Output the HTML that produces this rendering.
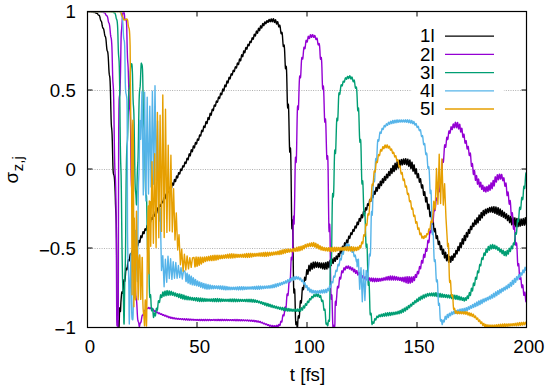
<!DOCTYPE html>
<html><head><meta charset="utf-8"><style>
html,body{margin:0;padding:0;background:#fff;width:550px;height:390px;overflow:hidden}
svg{display:block}
text{font-family:"Liberation Sans",sans-serif;font-size:18.7px;fill:#000}
</style></head><body>
<svg width="550" height="390" viewBox="0 0 550 390">
<line x1="87.5" y1="90.5" x2="526.5" y2="90.5" stroke="#b0b0b0" stroke-width="1" stroke-dasharray="1,1.35"/>
<line x1="87.5" y1="169.5" x2="526.5" y2="169.5" stroke="#b0b0b0" stroke-width="1" stroke-dasharray="1,1.35"/>
<line x1="87.5" y1="248.5" x2="526.5" y2="248.5" stroke="#b0b0b0" stroke-width="1" stroke-dasharray="1,1.35"/>
<rect x="411.5" y="26" width="92.3" height="92" fill="#fff"/>
<defs><clipPath id="c"><rect x="88" y="12.3" width="438" height="314.6"/></clipPath></defs><g clip-path="url(#c)">
<polyline fill="none" stroke="#000000" stroke-width="1.4" stroke-linejoin="round" points="87.5,11.7 87.7,11.7 87.9,11.6 88.1,11.5 88.3,11.4 88.5,11.3 88.7,11.3 88.9,11.4 89.1,11.6 89.3,11.7 89.5,11.8 89.7,11.8 89.9,11.7 90.1,11.6 90.3,11.5 90.5,11.5 90.7,11.5 90.9,11.5 91.1,11.6 91.3,11.8 91.5,11.9 91.7,12.0 91.9,12.0 92.1,12.0 92.3,11.9 92.5,11.8 92.7,11.8 92.9,11.8 93.1,11.9 93.3,12.1 93.5,12.2 93.7,12.3 93.9,12.4 94.1,12.5 94.3,12.4 94.5,12.4 94.7,12.3 94.9,12.3 95.1,12.4 95.3,12.5 95.5,12.7 95.7,12.9 95.9,13.1 96.1,13.2 96.3,13.3 96.5,13.3 96.7,13.3 96.9,13.3 97.1,13.3 97.3,13.5 97.5,13.7 97.7,13.9 97.9,14.3 98.1,14.6 98.3,14.9 98.5,15.1 98.7,15.2 98.9,15.2 99.1,15.3 99.3,15.5 99.5,15.8 99.7,16.3 99.9,17.1 100.1,18.0 100.3,18.9 100.5,19.7 100.7,20.4 100.9,20.7 101.1,21.0 101.3,21.2 101.5,21.6 101.7,22.4 101.9,23.5 102.1,24.8 102.3,26.0 102.5,26.9 102.7,27.6 102.9,28.1 103.1,28.3 103.3,28.4 103.5,28.7 103.7,29.2 103.9,30.1 104.1,31.2 104.3,32.4 104.5,33.7 104.7,34.8 104.9,35.7 105.1,36.2 105.3,36.5 105.5,36.9 105.7,37.6 105.9,38.8 106.1,40.7 106.3,43.0 106.5,45.5 106.7,47.6 106.9,49.3 107.1,50.4 107.3,50.9 107.5,51.3 107.7,51.9 107.9,53.1 108.1,55.0 108.3,57.8 108.5,61.5 108.7,65.7 108.9,69.6 109.1,72.6 109.3,74.4 109.5,75.5 109.7,76.4 109.9,78.0 110.1,81.2 110.3,86.2 110.5,93.3 110.7,102.0 110.9,110.9 111.1,118.9 111.3,124.2 111.5,127.0 111.7,128.7 111.9,130.7 112.1,134.5 112.3,140.6 112.5,148.6 112.7,157.3 112.9,165.5 113.1,170.5 113.3,172.8 113.5,173.9 113.7,174.4 113.9,174.9 114.1,175.7 114.3,177.1 114.5,179.2 114.7,182.5 114.9,186.3 115.1,190.9 115.3,196.5 115.5,204.2 115.7,209.5 115.9,212.7 116.1,216.5 116.3,224.1 116.5,237.9 116.7,258.6 116.9,295.5 117.1,310.8 117.3,320.4 117.5,322.8 117.7,322.9 117.9,322.0 118.1,321.0 118.3,321.1 118.5,323.1 118.7,325.8 118.9,327.4 119.1,326.1 119.3,319.0 119.5,312.0 119.7,307.9 119.9,307.7 120.1,309.7 120.3,311.6 120.5,311.2 120.7,306.9 120.9,302.3 121.1,299.5 121.3,297.0 121.5,294.7 121.7,292.9 121.9,291.9 122.1,291.7 122.3,292.2 122.5,292.9 122.7,293.4 122.9,293.0 123.1,291.2 123.3,288.1 123.5,284.7 123.7,281.9 123.9,280.1 124.1,279.6 124.3,280.0 124.5,280.8 124.7,281.3 124.9,281.0 125.1,279.4 125.3,276.8 125.5,273.9 125.7,271.3 125.9,269.3 126.1,268.2 126.3,268.2 126.5,268.8 126.7,269.5 126.9,269.7 127.1,269.1 127.3,267.6 127.5,265.5 127.7,263.3 127.9,261.5 128.1,260.2 128.3,259.7 128.5,259.9 128.7,260.5 128.9,261.0 129.1,261.0 129.3,260.4 129.5,259.1 129.7,257.5 129.9,255.9 130.1,254.6 130.3,253.9 130.5,253.7 130.7,254.0 130.9,254.6 131.1,254.9 131.3,254.9 131.5,254.5 131.7,253.6 131.9,252.5 132.1,251.4 132.3,250.5 132.5,250.1 132.7,250.1 132.9,250.5 133.1,251.0 133.3,251.4 133.5,251.5 133.7,251.1 133.9,250.2 134.1,249.1 134.3,248.0 134.5,247.3 134.7,247.0 134.9,247.3 135.1,247.8 135.3,248.4 135.5,248.7 135.7,248.5 135.9,247.9 136.1,246.8 136.3,245.5 136.5,244.5 136.7,243.9 136.9,243.9 137.1,244.4 137.3,245.1 137.5,245.7 137.7,245.9 137.9,245.4 138.1,244.4 138.3,243.0 138.5,241.7 138.7,240.7 138.9,240.4 139.1,240.7 139.3,241.4 139.5,242.1 139.7,242.5 139.9,242.1 140.1,241.0 140.3,239.4 140.5,237.7 140.7,236.4 140.9,235.8 141.1,235.9 141.3,236.5 141.5,237.2 141.7,237.7 141.9,237.6 142.1,236.8 142.3,235.7 142.5,234.2 142.7,232.9 142.9,232.0 143.1,231.7 143.3,232.0 143.5,232.7 143.7,233.4 143.9,233.7 144.1,233.5 144.3,232.7 144.5,231.5 144.7,230.2 144.9,229.2 145.1,228.7 145.3,228.7 145.5,229.2 145.7,229.8 145.9,230.2 146.1,230.2 146.3,229.6 146.5,228.6 146.7,227.3 146.9,226.2 147.1,225.5 147.3,225.3 147.5,225.5 147.7,226.1 147.9,226.5 148.1,226.6 148.3,226.2 148.5,225.4 148.7,224.2 148.9,223.0 149.1,222.0 149.3,221.6 149.5,221.6 149.7,222.1 149.9,222.6 150.1,222.9 150.3,222.8 150.5,222.1 150.7,221.1 150.9,219.9 151.1,218.7 151.3,218.0 151.5,217.7 151.7,218.0 151.9,218.5 152.1,219.1 152.3,219.3 152.5,219.1 152.7,218.3 152.9,217.1 153.1,215.9 153.3,214.8 153.5,214.2 153.7,214.2 153.9,214.7 154.1,215.4 154.3,216.0 154.5,216.1 154.7,215.7 154.9,214.8 155.1,213.5 155.3,212.2 155.5,211.3 155.7,210.9 155.9,211.2 156.1,211.9 156.3,212.7 156.5,213.2 156.7,213.1 156.9,212.4 157.1,211.2 157.3,209.8 157.5,208.6 157.7,208.0 157.9,207.9 158.1,208.5 158.3,209.3 158.5,209.9 158.7,210.1 158.9,209.6 159.1,208.6 159.3,207.2 159.5,205.8 159.7,204.9 159.9,204.7 160.1,205.0 160.3,205.6 160.5,206.3 160.7,206.6 160.9,206.3 161.1,205.4 161.3,204.1 161.5,202.8 161.7,201.7 161.9,201.2 162.1,201.3 162.3,201.8 162.5,202.4 162.7,202.8 162.9,202.7 163.1,202.0 163.3,200.9 163.5,199.6 163.7,198.5 163.9,197.8 164.1,197.6 164.3,197.8 164.5,198.4 164.7,198.8 164.9,198.9 165.1,198.6 165.3,197.7 165.5,196.6 165.7,195.4 165.9,194.5 166.1,194.0 166.3,194.1 166.5,194.5 166.7,195.0 166.9,195.4 167.1,195.3 167.3,194.7 167.5,193.7 167.7,192.5 167.9,191.4 168.1,190.6 168.3,190.4 168.5,190.7 168.7,191.2 168.9,191.7 169.1,192.0 169.3,191.7 169.5,190.9 169.7,189.7 169.9,188.4 170.1,187.4 170.3,186.8 170.5,186.8 170.7,187.3 170.9,188.0 171.1,188.5 171.3,188.6 171.5,188.1 171.7,187.0 171.9,185.6 172.1,184.3 172.3,183.4 172.5,183.1 172.7,183.4 172.9,184.1 173.1,184.8 173.3,185.2 173.5,185.0 173.7,184.2 173.9,182.8 174.1,181.4 174.3,180.2 174.5,179.5 174.7,179.5 174.9,180.1 175.1,180.9 175.3,181.5 175.5,181.6 175.7,181.0 175.9,179.9 176.1,178.5 176.3,177.1 176.5,176.2 176.7,175.9 176.9,176.3 177.1,176.9 177.3,177.6 177.5,177.9 177.7,177.6 177.9,176.8 178.1,175.5 178.3,174.2 178.5,173.1 178.7,172.6 178.9,172.6 179.1,173.1 179.3,173.7 179.5,174.1 179.7,174.1 179.9,173.5 180.1,172.4 180.3,171.2 180.5,170.0 180.7,169.3 180.9,169.1 181.1,169.4 181.3,169.9 181.5,170.4 181.7,170.5 181.9,170.2 182.1,169.3 182.3,168.2 182.5,167.0 182.7,166.1 182.9,165.7 183.1,165.7 183.3,166.1 183.5,166.6 183.7,167.0 183.9,166.9 184.1,166.3 184.3,165.3 184.5,164.0 184.7,162.9 184.9,162.2 185.1,162.0 185.3,162.2 185.5,162.8 185.7,163.3 185.9,163.5 186.1,163.2 186.3,162.3 186.5,161.1 186.7,159.7 186.9,158.7 187.1,158.1 187.3,158.1 187.5,158.6 187.7,159.3 187.9,159.8 188.1,159.8 188.3,159.1 188.5,157.9 188.7,156.5 188.9,155.1 189.1,154.1 189.3,153.8 189.5,154.2 189.7,154.8 189.9,155.5 190.1,155.9 190.3,155.5 190.5,154.6 190.7,153.2 190.9,151.6 191.1,150.4 191.3,149.8 191.5,149.8 191.7,150.3 191.9,151.1 192.1,151.7 192.3,151.7 192.5,151.1 192.7,150.0 192.9,148.5 193.1,147.1 193.3,146.2 193.5,145.9 193.7,146.3 193.9,146.9 194.1,147.6 194.3,147.9 194.5,147.7 194.7,146.8 194.9,145.5 195.1,144.2 195.3,143.1 195.5,142.5 195.7,142.6 195.9,143.1 196.1,143.7 196.3,144.1 196.5,144.1 196.7,143.5 196.9,142.4 197.1,141.0 197.3,139.9 197.5,139.1 197.7,138.9 197.9,139.2 198.1,139.8 198.3,140.2 198.5,140.3 198.7,139.9 198.9,138.9 199.1,137.6 199.3,136.3 199.5,135.3 199.7,134.9 199.9,134.9 200.1,135.4 200.3,135.9 200.5,136.1 200.7,135.9 200.9,135.1 201.1,133.8 201.3,132.4 201.5,131.2 201.7,130.5 201.9,130.3 202.1,130.6 202.3,131.1 202.5,131.6 202.7,131.7 202.9,131.2 203.1,130.2 203.3,128.9 203.5,127.5 203.7,126.4 203.9,125.9 204.1,125.9 204.3,126.4 204.5,127.1 204.7,127.5 204.9,127.5 205.1,126.8 205.3,125.6 205.5,124.2 205.7,122.8 205.9,121.9 206.1,121.6 206.3,121.9 206.5,122.6 206.7,123.3 206.9,123.6 207.1,123.3 207.3,122.4 207.5,121.0 207.7,119.4 207.9,118.2 208.1,117.5 208.3,117.6 208.5,118.1 208.7,118.9 208.9,119.4 209.1,119.5 209.3,118.8 209.5,117.5 209.7,115.9 209.9,114.5 210.1,113.5 210.3,113.3 210.5,113.6 210.7,114.3 210.9,115.0 211.1,115.2 211.3,114.8 211.5,113.7 211.7,112.3 211.9,110.8 212.1,109.7 212.3,109.1 212.5,109.2 212.7,109.7 212.9,110.3 213.1,110.7 213.3,110.5 213.5,109.8 213.7,108.5 213.9,107.1 214.1,105.9 214.3,105.2 214.5,105.0 214.7,105.3 214.9,105.8 215.1,106.3 215.3,106.3 215.5,105.9 215.7,104.9 215.9,103.6 216.1,102.4 216.3,101.5 216.5,101.0 216.7,101.1 216.9,101.5 217.1,102.0 217.3,102.3 217.5,102.1 217.7,101.5 217.9,100.4 218.1,99.1 218.3,98.0 218.5,97.2 218.7,97.0 218.9,97.3 219.1,97.8 219.3,98.3 219.5,98.5 219.7,98.1 219.9,97.2 220.1,96.0 220.3,94.7 220.5,93.6 220.7,93.1 220.9,93.1 221.1,93.6 221.3,94.2 221.5,94.7 221.7,94.7 221.9,94.1 222.1,92.9 222.3,91.5 222.5,90.2 222.7,89.3 222.9,89.0 223.1,89.3 223.3,89.9 223.5,90.6 223.7,91.0 223.9,90.7 224.1,89.8 224.3,88.4 224.5,86.9 224.7,85.6 224.9,85.0 225.1,85.0 225.3,85.6 225.5,86.3 225.7,86.9 225.9,86.9 226.1,86.3 226.3,85.1 226.5,83.6 226.7,82.2 226.9,81.3 227.1,81.0 227.3,81.3 227.5,82.0 227.7,82.7 227.9,82.9 228.1,82.6 228.3,81.7 228.5,80.3 228.7,78.9 228.9,77.8 229.1,77.3 229.3,77.3 229.5,77.8 229.7,78.5 229.9,78.9 230.1,78.8 230.3,78.2 230.5,77.1 230.7,75.8 230.9,74.6 231.1,73.9 231.3,73.7 231.5,73.9 231.7,74.5 231.9,75.0 232.1,75.1 232.3,74.8 232.5,73.9 232.7,72.8 232.9,71.6 233.1,70.7 233.3,70.2 233.5,70.3 233.7,70.7 233.9,71.2 234.1,71.6 234.3,71.5 234.5,70.9 234.7,69.9 234.9,68.7 235.1,67.6 235.3,66.9 235.5,66.7 235.7,66.9 235.9,67.4 236.1,67.9 236.3,68.1 236.5,67.8 236.7,67.0 236.9,65.8 237.1,64.5 237.3,63.5 237.5,63.0 237.7,63.0 237.9,63.4 238.1,64.1 238.3,64.5 238.5,64.6 238.7,64.0 238.9,62.8 239.1,61.4 239.3,60.1 239.5,59.1 239.7,58.9 239.9,59.2 240.1,59.8 240.3,60.5 240.5,60.8 240.7,60.5 240.9,59.5 241.1,58.1 241.3,56.6 241.5,55.4 241.7,54.7 241.9,54.7 242.1,55.3 242.3,56.1 242.5,56.6 242.7,56.7 242.9,56.1 243.1,54.9 243.3,53.4 243.5,52.0 243.7,51.1 243.9,50.8 244.1,51.1 244.3,51.8 244.5,52.5 244.7,52.8 244.9,52.6 245.1,51.7 245.3,50.5 245.5,49.1 245.7,48.0 245.9,47.5 246.1,47.5 246.3,48.0 246.5,48.7 246.7,49.1 246.9,49.2 247.1,48.6 247.3,47.6 247.5,46.4 247.7,45.3 247.9,44.5 248.1,44.3 248.3,44.6 248.5,45.1 248.7,45.6 248.9,45.8 249.1,45.6 249.3,44.8 249.5,43.7 249.7,42.5 249.9,41.6 250.1,41.2 250.3,41.2 250.5,41.6 250.7,42.2 250.9,42.5 251.1,42.5 251.3,41.9 251.5,40.9 251.7,39.8 251.9,38.7 252.1,38.0 252.3,37.8 252.5,38.0 252.7,38.5 252.9,39.0 253.1,39.2 253.3,39.0 253.5,38.2 253.7,37.1 253.9,35.9 254.1,34.9 254.3,34.3 254.5,34.3 254.7,34.8 254.9,35.4 255.1,35.9 255.3,36.1 255.5,35.6 255.7,34.7 255.9,33.5 256.1,32.3 256.3,31.4 256.5,31.1 256.7,31.3 256.9,32.0 257.1,32.7 257.3,33.2 257.5,33.2 257.7,32.6 257.9,31.5 258.1,30.2 258.3,29.0 258.5,28.4 258.7,28.3 258.9,28.8 259.1,29.6 259.3,30.4 259.5,30.7 259.7,30.4 259.9,29.5 260.1,28.3 260.3,27.0 260.5,26.1 260.7,25.8 260.9,26.1 261.1,26.7 261.3,27.5 261.5,28.1 261.7,28.1 261.9,27.5 262.1,26.5 262.3,25.3 262.5,24.3 262.7,23.7 262.9,23.6 263.1,24.1 263.3,24.8 263.5,25.4 263.7,25.7 263.9,25.5 264.1,24.8 264.3,23.9 264.5,22.9 264.7,22.2 264.9,21.9 265.1,22.1 265.3,22.6 265.5,23.3 265.7,23.7 265.9,23.8 266.1,23.4 266.3,22.7 266.5,21.9 266.7,21.1 266.9,20.7 267.1,20.6 267.3,20.9 267.5,21.5 267.7,22.1 267.9,22.4 268.1,22.4 268.3,22.0 268.5,21.2 268.7,20.4 268.9,19.8 269.1,19.5 269.3,19.6 269.5,20.1 269.7,20.8 269.9,21.4 270.1,21.7 270.3,21.7 270.5,21.2 270.7,20.4 270.9,19.6 271.1,19.1 271.3,19.0 271.5,19.3 271.7,20.0 271.9,20.8 272.1,21.5 272.3,21.7 272.5,21.4 272.7,20.8 272.9,19.9 273.1,19.1 273.3,18.7 273.5,18.8 273.7,19.4 273.9,20.4 274.1,21.4 274.3,22.1 274.5,22.4 274.7,22.2 274.9,21.5 275.1,20.6 275.3,19.9 275.5,19.7 275.7,20.1 275.9,21.0 276.1,22.2 276.3,23.2 276.5,23.9 276.7,24.1 276.9,23.7 277.1,22.9 277.3,22.1 277.5,21.6 277.7,21.6 277.9,22.3 278.1,23.4 278.3,24.7 278.5,25.9 278.7,26.6 278.9,26.9 279.1,26.7 279.3,26.1 279.5,25.5 279.7,25.1 279.9,25.4 280.1,26.3 280.3,27.7 280.5,29.4 280.7,31.1 280.9,32.6 281.1,33.5 281.3,33.7 281.5,33.2 281.7,32.6 281.9,32.3 282.1,32.8 282.3,34.2 282.5,36.4 282.7,39.2 282.9,42.2 283.1,44.7 283.3,46.3 283.5,46.6 283.7,46.0 283.9,45.2 284.1,45.0 284.3,46.0 284.5,48.5 284.7,52.4 284.9,57.2 285.1,62.2 285.3,66.4 285.5,68.7 285.7,68.8 285.9,67.5 286.1,66.3 286.3,66.6 286.5,69.2 286.7,74.5 286.9,82.7 287.1,92.2 287.3,100.5 287.5,106.0 287.7,108.0 287.9,107.1 288.1,105.1 288.3,104.1 288.5,105.9 288.7,111.2 288.9,119.5 289.1,129.4 289.3,139.4 289.5,147.3 289.7,151.8 289.9,152.3 290.1,150.2 290.3,148.0 290.5,148.3 290.7,152.7 290.9,161.7 291.1,175.3 291.3,192.8 291.5,210.2 291.7,223.6 291.9,228.7 292.1,227.1 292.3,222.6 292.5,219.9 292.7,223.6 292.9,235.1 293.1,251.0 293.3,267.6 293.5,281.5 293.7,289.7 293.9,293.0 294.1,292.8 294.3,290.8 294.5,289.0 294.7,289.7 294.9,294.0 295.1,301.5 295.3,310.2 295.5,318.1 295.7,322.7 295.9,324.6 296.1,324.2 296.3,323.1 296.5,322.0 296.7,322.1 296.9,324.0 297.1,327.2 297.3,327.5 297.5,327.4 297.7,324.4 297.9,320.5 298.1,317.5 298.3,315.9 298.5,315.7 298.7,316.6 298.9,317.6 299.1,318.1 299.3,317.3 299.5,314.9 299.7,311.3 299.9,307.4 300.1,303.8 300.3,301.5 300.5,300.7 300.7,301.2 300.9,302.3 301.1,303.1 301.3,302.8 301.5,301.1 301.7,298.4 301.9,295.0 302.1,291.7 302.3,289.1 302.5,287.6 302.7,287.4 302.9,288.1 303.1,289.1 303.3,289.7 303.5,289.5 303.7,288.2 303.9,285.9 304.1,283.2 304.3,280.4 304.5,278.3 304.7,277.2 304.9,277.4 305.1,278.3 305.3,279.5 305.5,280.2 305.7,280.0 305.9,278.8 306.1,276.8 306.3,274.4 306.5,272.0 306.7,270.3 306.9,269.6 307.1,270.1 307.3,271.4 307.5,272.9 307.7,274.0 307.9,274.2 308.1,273.2 308.3,271.4 308.5,269.0 308.7,266.9 308.9,265.5 309.1,265.3 309.3,266.3 309.5,268.0 309.7,269.7 309.9,270.8 310.1,270.9 310.3,269.9 310.5,267.9 310.7,265.7 310.9,263.9 311.1,263.1 311.3,263.5 311.5,264.9 311.7,266.8 311.9,268.4 312.1,269.2 312.3,268.9 312.5,267.6 312.7,265.7 312.9,263.7 313.1,262.5 313.3,262.2 313.5,263.1 313.7,264.7 313.9,266.5 314.1,267.7 314.3,268.0 314.5,267.3 314.7,265.9 314.9,264.1 315.1,262.6 315.3,262.0 315.5,262.3 315.7,263.4 315.9,264.9 316.1,266.4 316.3,267.2 316.5,267.2 316.7,266.4 316.9,265.0 317.1,263.6 317.3,262.6 317.5,262.3 317.7,263.0 317.9,264.3 318.1,265.8 318.3,266.9 318.5,267.5 318.7,267.1 318.9,266.1 319.1,264.7 319.3,263.4 319.5,262.8 319.7,263.0 319.9,264.0 320.1,265.4 320.3,266.9 320.5,267.8 320.7,267.9 320.9,267.2 321.1,265.9 321.3,264.4 321.5,263.3 321.7,263.0 321.9,263.6 322.1,265.1 322.3,266.8 322.5,268.2 322.7,268.9 322.9,268.5 323.1,267.2 323.3,265.4 323.5,263.8 323.7,263.0 323.9,263.3 324.1,264.5 324.3,266.3 324.5,268.1 324.7,269.2 324.9,269.2 325.1,268.0 325.3,266.1 325.5,264.1 325.7,262.7 325.9,262.4 326.1,263.3 326.3,265.1 326.5,267.1 326.7,268.6 326.9,269.0 327.1,268.2 327.3,266.4 327.5,264.2 327.7,262.4 327.9,261.6 328.1,262.0 328.3,263.4 328.5,265.3 328.7,266.9 328.9,267.7 329.1,267.3 329.3,265.8 329.5,263.7 329.7,261.8 329.9,260.5 330.1,260.3 330.3,261.2 330.5,262.8 330.7,264.4 330.9,265.5 331.1,265.6 331.3,264.6 331.5,262.9 331.7,261.1 331.9,259.6 332.1,259.0 332.3,259.4 332.5,260.5 332.7,261.9 332.9,263.0 333.1,263.4 333.3,263.0 333.5,261.8 333.7,260.2 333.9,258.8 334.1,257.9 334.3,257.8 334.5,258.4 334.7,259.5 334.9,260.7 335.1,261.3 335.3,261.3 335.5,260.5 335.7,259.1 335.9,257.6 336.1,256.5 336.3,256.1 336.5,256.3 336.7,257.2 336.9,258.3 337.1,259.1 337.3,259.3 337.5,258.8 337.7,257.6 337.9,256.0 338.1,254.6 338.3,253.7 338.5,253.6 338.7,254.3 338.9,255.3 339.1,256.3 339.3,256.8 339.5,256.4 339.7,255.2 339.9,253.5 340.1,251.7 340.3,250.4 340.5,249.9 340.7,250.3 340.9,251.2 341.1,252.4 341.3,253.2 341.5,253.2 341.7,252.4 341.9,250.8 342.1,248.9 342.3,247.2 342.5,246.2 342.7,246.2 342.9,246.9 343.1,248.1 343.3,249.2 343.5,249.7 343.7,249.3 343.9,248.1 344.1,246.3 344.3,244.5 344.5,243.2 344.7,242.7 344.9,243.1 345.1,244.1 345.3,245.3 345.5,246.1 345.7,246.3 345.9,245.5 346.1,244.1 346.3,242.3 346.5,240.8 346.7,239.9 346.9,239.9 347.1,240.6 347.3,241.6 347.5,242.5 347.7,242.8 347.9,242.2 348.1,240.8 348.3,239.1 348.5,237.5 348.7,236.4 348.9,236.1 349.1,236.5 349.3,237.3 349.5,238.0 349.7,238.4 349.9,238.1 350.1,237.2 350.3,235.9 350.5,234.4 350.7,233.3 350.9,232.7 351.1,232.7 351.3,233.2 351.5,233.9 351.7,234.5 351.9,234.6 352.1,234.1 352.3,233.1 352.5,231.8 352.7,230.5 352.9,229.7 353.1,229.4 353.3,229.6 353.5,230.3 353.7,231.0 353.9,231.3 354.1,231.2 354.3,230.4 354.5,229.2 354.7,227.8 354.9,226.6 355.1,226.0 355.3,226.0 355.5,226.5 355.7,227.3 355.9,227.9 356.1,228.1 356.3,227.6 356.5,226.5 356.7,225.0 356.9,223.6 357.1,222.5 357.3,222.1 357.5,222.4 357.7,223.2 357.9,224.1 358.1,224.7 358.3,224.6 358.5,223.8 358.7,222.3 358.9,220.7 359.1,219.2 359.3,218.4 359.5,218.4 359.7,219.0 359.9,220.0 360.1,220.9 360.3,221.3 360.5,220.9 360.7,219.7 360.9,218.1 361.1,216.4 361.3,215.2 361.5,214.7 361.7,215.1 361.9,216.0 362.1,217.0 362.3,217.7 362.5,217.7 362.7,216.9 362.9,215.4 363.1,213.7 363.3,212.3 363.5,211.5 363.7,211.5 363.9,212.1 364.1,213.1 364.3,213.9 364.5,214.1 364.7,213.6 364.9,212.3 365.1,210.7 365.3,209.1 365.5,208.1 365.7,207.7 365.9,208.1 366.1,208.9 366.3,209.6 366.5,210.0 366.7,209.6 366.9,208.6 367.1,207.1 367.3,205.5 367.5,204.3 367.7,203.7 367.9,203.8 368.1,204.3 368.3,205.0 368.5,205.5 368.7,205.4 368.9,204.7 369.1,203.5 369.3,202.0 369.5,200.7 369.7,199.8 369.9,199.5 370.1,199.8 370.3,200.5 370.5,201.1 370.7,201.4 370.9,201.1 371.1,200.2 371.3,198.9 371.5,197.4 371.7,196.2 371.9,195.5 372.1,195.5 372.3,196.0 372.5,196.8 372.7,197.5 372.9,197.7 373.1,197.2 373.3,196.0 373.5,194.4 373.7,192.9 373.9,191.7 374.1,191.2 374.3,191.5 374.5,192.4 374.7,193.5 374.9,194.2 375.1,194.2 375.3,193.4 375.5,192.0 375.7,190.1 375.9,188.5 376.1,187.5 376.3,187.4 376.5,188.1 376.7,189.4 376.9,190.6 377.1,191.2 377.3,191.0 377.5,189.8 377.7,188.0 377.9,186.1 378.1,184.6 378.3,184.0 378.5,184.3 378.7,185.5 378.9,186.9 379.1,188.1 379.3,188.4 379.5,187.7 379.7,186.2 379.9,184.2 380.1,182.4 380.3,181.3 380.5,181.2 380.7,182.0 380.9,183.4 381.1,184.7 381.3,185.5 381.5,185.4 381.7,184.3 381.9,182.5 382.1,180.7 382.3,179.3 382.5,178.7 382.7,179.0 382.9,180.1 383.1,181.4 383.3,182.5 383.5,182.8 383.7,182.2 383.9,180.8 384.1,179.1 384.3,177.5 384.5,176.6 384.7,176.5 384.9,177.2 385.1,178.4 385.3,179.5 385.5,180.2 385.7,180.0 385.9,179.1 386.1,177.6 386.3,175.9 386.5,174.6 386.7,174.1 386.9,174.4 387.1,175.4 387.3,176.6 387.5,177.6 387.7,177.9 387.9,177.3 388.1,176.0 388.3,174.3 388.5,172.7 388.7,171.7 388.9,171.5 389.1,172.2 389.3,173.5 389.5,174.8 389.7,175.6 389.9,175.6 390.1,174.5 390.3,172.7 390.5,170.7 390.7,169.1 390.9,168.4 391.1,168.7 391.3,170.0 391.5,171.6 391.7,173.0 391.9,173.5 392.1,173.0 392.3,171.4 392.5,169.3 392.7,167.1 392.9,165.7 393.1,165.5 393.3,166.4 393.5,168.2 393.7,170.1 393.9,171.4 394.1,171.6 394.3,170.5 394.5,168.4 394.7,166.0 394.9,164.1 395.1,163.2 395.3,163.6 395.5,165.1 395.7,167.1 395.9,168.9 396.1,169.8 396.3,169.4 396.5,167.8 396.7,165.4 396.9,163.2 397.1,161.7 397.3,161.5 397.5,162.5 397.7,164.3 397.9,166.3 398.1,167.7 398.3,167.9 398.5,166.8 398.7,164.9 398.9,162.6 399.1,160.9 399.3,160.1 399.5,160.5 399.7,161.8 399.9,163.7 400.1,165.2 400.3,166.0 400.5,165.7 400.7,164.4 400.9,162.6 401.1,160.8 401.3,159.6 401.5,159.4 401.7,160.2 401.9,161.7 402.1,163.3 402.3,164.5 402.5,164.8 402.7,164.2 402.9,162.7 403.1,161.0 403.3,159.6 403.5,158.9 403.7,159.2 403.9,160.3 404.1,161.9 404.3,163.3 404.5,164.2 404.7,164.2 404.9,163.3 405.1,161.8 405.3,160.1 405.5,159.0 405.7,158.7 405.9,159.4 406.1,160.9 406.3,162.7 406.5,164.2 406.7,164.9 406.9,164.6 407.1,163.4 407.3,161.6 407.5,160.0 407.7,159.1 407.9,159.3 408.1,160.6 408.3,162.6 408.5,164.7 408.7,166.1 408.9,166.4 409.1,165.6 409.3,163.9 409.5,161.9 409.7,160.4 409.9,159.9 410.1,160.8 410.3,162.8 410.5,165.2 410.7,167.4 410.9,168.6 411.1,168.5 411.3,167.2 411.5,165.1 411.7,163.2 411.9,162.1 412.1,162.3 412.3,163.9 412.5,166.3 412.7,168.8 412.9,170.6 413.1,171.2 413.3,170.5 413.5,168.8 413.7,166.8 413.9,165.2 414.1,164.8 414.3,165.7 414.5,167.7 414.7,170.2 414.9,172.4 415.1,173.8 415.3,173.9 415.5,173.0 415.7,171.4 415.9,169.7 416.1,168.8 416.3,168.9 416.5,170.3 416.7,172.4 416.9,174.8 417.1,176.8 417.3,177.8 417.5,177.7 417.7,176.7 417.9,175.2 418.1,174.0 418.3,173.6 418.5,174.2 418.7,175.8 418.9,178.0 419.1,180.1 419.3,181.6 419.5,182.2 419.7,181.8 419.9,180.8 420.1,179.5 420.3,178.7 420.5,178.7 420.7,179.7 420.9,181.6 421.1,183.9 421.3,186.0 421.5,187.5 421.7,188.1 421.9,187.7 422.1,186.6 422.3,185.4 422.5,184.8 422.7,185.3 422.9,186.9 423.1,189.4 423.3,192.1 423.5,194.3 423.7,195.4 423.9,195.2 424.1,194.1 424.3,192.7 424.5,191.6 424.7,191.6 424.9,192.8 425.1,195.1 425.3,197.8 425.5,200.3 425.7,201.7 425.9,201.9 426.1,201.0 426.3,199.4 426.5,197.9 426.7,197.3 426.9,198.0 427.1,200.0 427.3,202.8 427.5,205.8 427.7,208.0 427.9,209.1 428.1,208.7 428.3,207.3 428.5,205.5 428.7,204.3 428.9,204.3 429.1,205.8 429.3,208.5 429.5,211.6 429.7,214.5 429.9,216.3 430.1,216.7 430.3,215.7 430.5,214.1 430.7,212.6 430.9,211.9 431.1,212.6 431.3,214.7 431.5,217.7 431.7,220.7 431.9,223.2 432.1,224.3 432.3,224.1 432.5,222.9 432.7,221.4 432.9,220.4 433.1,220.4 433.3,221.6 433.5,224.0 433.7,226.8 433.9,229.5 434.1,231.3 434.3,231.9 434.5,231.3 434.7,230.1 434.9,228.9 435.1,228.4 435.3,228.9 435.5,230.5 435.7,232.9 435.9,235.5 436.1,237.5 436.3,238.6 436.5,238.5 436.7,237.6 436.9,236.4 437.1,235.6 437.3,235.6 437.5,236.5 437.7,238.4 437.9,240.8 438.1,242.9 438.3,244.3 438.5,244.6 438.7,243.9 438.9,242.8 439.1,241.7 439.3,241.2 439.5,241.7 439.7,243.2 439.9,245.3 440.1,247.5 440.3,249.2 440.5,249.8 440.7,249.4 440.9,248.1 441.1,246.8 441.3,245.8 441.5,245.9 441.7,247.0 441.9,249.0 442.1,251.4 442.3,253.3 442.5,254.2 442.7,254.0 442.9,252.8 443.1,251.1 443.3,249.7 443.5,249.3 443.7,250.0 443.9,251.8 444.1,254.2 444.3,256.4 444.5,257.8 444.7,257.9 444.9,256.8 445.1,255.0 445.3,253.3 445.5,252.3 445.7,252.5 445.9,253.9 446.1,256.1 446.3,258.5 446.5,260.2 446.7,260.8 446.9,260.1 447.1,258.5 447.3,256.5 447.5,255.2 447.7,254.8 447.9,255.6 448.1,257.4 448.3,259.6 448.5,261.4 448.7,262.3 448.9,262.0 449.1,260.6 449.3,258.8 449.5,257.2 449.7,256.4 449.9,256.7 450.1,257.9 450.3,259.7 450.5,261.3 450.7,262.2 450.9,261.9 451.1,260.6 451.3,258.9 451.5,257.2 451.7,256.1 451.9,255.9 452.1,256.7 452.3,258.0 452.5,259.4 452.7,260.3 452.9,260.2 453.1,259.1 453.3,257.3 453.5,255.5 453.7,254.2 453.9,253.6 454.1,254.0 454.3,255.0 454.5,256.2 454.7,257.1 454.9,257.2 455.1,256.5 455.3,254.9 455.5,253.1 455.7,251.5 455.9,250.5 456.1,250.4 456.3,251.1 456.5,252.3 456.7,253.5 456.9,254.0 457.1,253.6 457.3,252.4 457.5,250.5 457.7,248.6 457.9,247.1 458.1,246.5 458.3,246.8 458.5,248.0 458.7,249.4 458.9,250.5 459.1,250.7 459.3,249.9 459.5,248.2 459.7,246.1 459.9,244.1 460.1,242.8 460.3,242.7 460.5,243.6 460.7,245.1 460.9,246.6 461.1,247.5 461.3,247.3 461.5,246.0 461.7,243.8 461.9,241.4 462.1,239.6 462.3,238.8 462.5,239.3 462.7,240.7 462.9,242.4 463.1,243.8 463.3,244.2 463.5,243.3 463.7,241.5 463.9,239.1 464.1,237.0 464.3,235.6 464.5,235.5 464.7,236.5 464.9,238.1 465.1,239.7 465.3,240.6 465.5,240.4 465.7,239.1 465.9,237.0 466.1,234.8 466.3,233.2 466.5,232.5 466.7,233.0 466.9,234.2 467.1,235.7 467.3,236.9 467.5,237.1 467.7,236.3 467.9,234.6 468.1,232.5 468.3,230.7 468.5,229.7 468.7,229.6 468.9,230.5 469.1,231.7 469.3,232.9 469.5,233.4 469.7,232.9 469.9,231.7 470.1,229.9 470.3,228.0 470.5,226.7 470.7,226.2 470.9,226.6 471.1,227.6 471.3,228.7 471.5,229.6 471.7,229.6 471.9,228.9 472.1,227.4 472.3,225.6 472.5,224.0 472.7,223.1 472.9,223.0 473.1,223.7 473.3,224.9 473.5,226.0 473.7,226.6 473.9,226.4 474.1,225.4 474.3,223.8 474.5,222.0 474.7,220.6 474.9,220.0 475.1,220.3 475.3,221.3 475.5,222.8 475.7,224.0 475.9,224.6 476.1,224.2 476.3,222.8 476.5,221.0 476.7,219.1 476.9,217.9 477.1,217.7 477.3,218.5 477.5,220.0 477.7,221.7 477.9,222.8 478.1,222.8 478.3,221.7 478.5,219.7 478.7,217.5 478.9,215.8 479.1,215.0 479.3,215.4 479.5,216.7 479.7,218.5 479.9,219.9 480.1,220.4 480.3,219.8 480.5,218.2 480.7,216.0 480.9,214.0 481.1,212.7 481.3,212.5 481.5,213.4 481.7,215.0 481.9,216.7 482.1,217.8 482.3,217.8 482.5,216.7 482.7,214.9 482.9,212.8 483.1,211.2 483.3,210.5 483.5,210.9 483.7,212.1 483.9,213.7 484.1,215.0 484.3,215.5 484.5,215.1 484.7,213.8 484.9,212.1 485.1,210.4 485.3,209.4 485.5,209.2 485.7,210.0 485.9,211.3 486.1,212.6 486.3,213.6 486.5,213.7 486.7,213.0 486.9,211.7 487.1,210.2 487.3,208.9 487.5,208.4 487.7,208.6 487.9,209.6 488.1,210.9 488.3,212.0 488.5,212.6 488.7,212.3 488.9,211.4 489.1,210.0 489.3,208.7 489.5,207.7 489.7,207.5 489.9,208.2 490.1,209.3 490.3,210.7 490.5,211.7 490.7,212.0 490.9,211.6 491.1,210.4 491.3,208.9 491.5,207.6 491.7,206.9 491.9,207.1 492.1,208.1 492.3,209.7 492.5,211.3 492.7,212.3 492.9,212.4 493.1,211.5 493.3,210.0 493.5,208.3 493.7,207.0 493.9,206.7 494.1,207.5 494.3,209.1 494.5,211.0 494.7,212.6 494.9,213.4 495.1,213.0 495.3,211.6 495.5,209.7 495.7,207.9 495.9,207.0 496.1,207.3 496.3,208.6 496.5,210.7 496.7,212.8 496.9,214.1 497.1,214.3 497.3,213.3 497.5,211.5 497.7,209.5 497.9,208.0 498.1,207.7 498.3,208.5 498.5,210.4 498.7,212.6 498.9,214.4 499.1,215.3 499.3,214.9 499.5,213.5 499.7,211.6 499.9,209.9 500.1,209.0 500.3,209.2 500.5,210.6 500.7,212.6 500.9,214.6 501.1,216.0 501.3,216.2 501.5,215.4 501.7,213.9 501.9,212.1 502.1,210.9 502.3,210.6 502.5,211.4 502.7,213.0 502.9,214.9 503.1,216.4 503.3,217.2 503.5,217.0 503.7,215.9 503.9,214.4 504.1,213.0 504.3,212.3 504.5,212.5 504.7,213.6 504.9,215.3 505.1,217.0 505.3,218.2 505.5,218.6 505.7,218.0 505.9,216.8 506.1,215.3 506.3,214.2 506.5,213.8 506.7,214.5 506.9,215.9 507.1,217.8 507.3,219.5 507.5,220.5 507.7,220.4 507.9,219.4 508.1,217.8 508.3,216.3 508.5,215.4 508.7,215.5 508.9,216.8 509.1,218.7 509.3,220.8 509.5,222.3 509.7,222.7 509.9,221.9 510.1,220.3 510.3,218.3 510.5,216.8 510.7,216.4 510.9,217.2 511.1,219.2 511.3,221.6 511.5,223.6 511.7,224.7 511.9,224.3 512.1,222.7 512.3,220.4 512.5,218.3 512.7,217.2 512.9,217.5 513.1,219.1 513.3,221.6 513.5,224.1 513.7,225.7 513.9,226.0 514.1,224.7 514.3,222.4 514.5,220.0 514.7,218.2 514.9,217.8 515.1,218.9 515.3,221.2 515.5,223.8 515.7,225.8 515.9,226.7 516.1,226.0 516.3,224.1 516.5,221.7 516.7,219.5 516.9,218.5 517.1,218.9 517.3,220.5 517.5,222.9 517.7,225.2 517.9,226.6 518.1,226.6 518.3,225.2 518.5,223.1 518.7,220.9 518.9,219.4 519.1,219.1 519.3,220.1 519.5,222.0 519.7,224.1 519.9,225.7 520.1,226.2 520.3,225.5 520.5,223.7 520.7,221.6 520.9,219.9 521.1,219.0 521.3,219.4 521.5,220.7 521.7,222.6 521.9,224.4 522.1,225.4 522.3,225.3 522.5,224.1 522.7,222.2 522.9,220.2 523.1,218.9 523.3,218.6 523.5,219.4 523.7,221.2 523.9,223.1 524.1,224.7 524.3,225.2 524.5,224.5 524.7,222.7 524.9,220.5 525.1,218.6 525.3,217.6 525.5,217.9 525.7,219.4 525.9,221.6 526.1,223.7 526.3,225.0 526.5,224.9"/>
<polyline fill="none" stroke="#9400d3" stroke-width="1.4" stroke-linejoin="round" points="87.5,11.4 87.7,11.4 87.9,11.3 88.1,11.3 88.3,11.4 88.5,11.5 88.7,11.6 88.9,11.7 89.1,11.7 89.3,11.6 89.5,11.5 89.7,11.4 89.9,11.3 90.1,11.3 90.3,11.4 90.5,11.5 90.7,11.6 90.9,11.6 91.1,11.7 91.3,11.6 91.5,11.5 91.7,11.5 91.9,11.4 92.1,11.3 92.3,11.4 92.5,11.4 92.7,11.5 92.9,11.6 93.1,11.6 93.3,11.6 93.5,11.6 93.7,11.5 93.9,11.4 94.1,11.4 94.3,11.4 94.5,11.4 94.7,11.5 94.9,11.6 95.1,11.6 95.3,11.7 95.5,11.6 95.7,11.5 95.9,11.5 96.1,11.4 96.3,11.3 96.5,11.4 96.7,11.4 96.9,11.5 97.1,11.6 97.3,11.7 97.5,11.7 97.7,11.6 97.9,11.5 98.1,11.4 98.3,11.3 98.5,11.3 98.7,11.4 98.9,11.5 99.1,11.6 99.3,11.7 99.5,11.7 99.7,11.7 99.9,11.6 100.1,11.5 100.3,11.4 100.5,11.4 100.7,11.4 100.9,11.5 101.1,11.7 101.3,11.8 101.5,11.9 101.7,12.0 101.9,11.9 102.1,11.9 102.3,11.8 102.5,11.7 102.7,11.7 102.9,11.8 103.1,12.0 103.3,12.2 103.5,12.4 103.7,12.6 103.9,12.7 104.1,12.8 104.3,12.8 104.5,12.8 104.7,12.9 104.9,12.9 105.1,13.1 105.3,13.5 105.5,13.9 105.7,14.4 105.9,14.9 106.1,15.3 106.3,15.5 106.5,15.6 106.7,15.7 106.9,15.8 107.1,16.0 107.3,16.3 107.5,16.9 107.7,17.6 107.9,18.6 108.1,19.9 108.3,21.2 108.5,22.1 108.7,22.6 108.9,22.9 109.1,23.2 109.3,23.8 109.5,24.8 109.7,26.2 109.9,27.9 110.1,30.0 110.3,32.2 110.5,34.4 110.7,36.0 110.9,37.0 111.1,37.6 111.3,38.6 111.5,40.4 111.7,43.1 111.9,46.8 112.1,52.5 112.3,61.0 112.5,69.8 112.7,77.4 112.9,82.0 113.1,84.4 113.3,86.7 113.5,91.0 113.7,98.7 113.9,110.4 114.1,125.3 114.3,140.7 114.5,153.4 114.7,162.8 114.9,169.7 115.1,173.8 115.3,176.5 115.5,180.3 115.7,187.6 115.9,198.5 116.1,213.9 116.3,238.4 116.5,274.8 116.7,313.3 116.9,324.9 117.1,325.9 117.3,326.0 117.5,326.1 117.7,326.3 117.9,326.4 118.1,322.2 118.3,305.5 118.5,202.6 118.7,129.8 118.9,109.7 119.1,99.7 119.3,97.2 119.5,96.0 119.7,94.7 119.9,92.7 120.1,88.4 120.3,81.7 120.5,72.6 120.7,60.7 120.9,48.2 121.1,37.7 121.3,32.7 121.5,30.3 121.7,28.3 121.9,25.5 122.1,22.3 122.3,18.9 122.5,16.1 122.7,14.0 122.9,12.9 123.1,12.2 123.3,11.9 123.5,11.8 123.7,11.8 123.9,12.0 124.1,12.5 124.3,13.5 124.5,15.3 124.7,17.9 124.9,18.8 125.1,19.2 125.3,19.4 125.5,19.5 125.7,19.6 125.9,19.8 126.1,20.1 126.3,20.8 126.5,22.0 126.7,25.5 126.9,35.0 127.1,43.9 127.3,51.8 127.5,58.0 127.7,61.5 127.9,63.8 128.1,66.8 128.3,71.7 128.5,78.6 128.7,85.7 128.9,91.2 129.1,95.8 129.3,100.9 129.5,105.5 129.7,108.5 129.9,110.2 130.1,112.0 130.3,115.4 130.5,122.1 130.7,135.6 130.9,157.3 131.1,172.0 131.3,180.4 131.5,185.2 131.7,188.0 131.9,189.4 132.1,190.3 132.3,191.7 132.5,194.5 132.7,199.5 132.9,207.8 133.1,218.5 133.3,229.0 133.5,237.3 133.7,243.2 133.9,246.5 134.1,248.3 134.3,250.1 134.5,253.2 134.7,258.7 134.9,266.7 135.1,276.5 135.3,285.2 135.5,291.0 135.7,294.8 135.9,297.0 136.1,298.1 136.3,298.9 136.5,300.0 136.7,302.1 136.9,305.4 137.1,309.4 137.3,313.5 137.5,316.7 137.7,319.1 137.9,320.5 138.1,321.2 138.3,321.6 138.5,322.0 138.7,322.7 138.9,323.9 139.1,325.6 139.3,326.7 139.5,326.4 139.7,325.4 139.9,324.3 140.1,323.5 140.3,323.1 140.5,322.9 140.7,322.8 140.9,322.4 141.1,321.8 141.3,320.6 141.5,319.2 141.7,317.8 141.9,316.6 142.1,315.8 142.3,315.3 142.5,315.0 142.7,315.3 142.9,315.4 143.1,315.2 143.3,314.5 143.5,313.6 143.7,312.6 143.9,311.6 144.1,310.9 144.3,310.5 144.5,310.4 144.7,310.5 144.9,310.8 145.1,310.9 145.3,310.7 145.5,310.3 145.7,309.8 145.9,309.3 146.1,308.8 146.3,308.4 146.5,308.1 146.7,308.1 146.9,308.2 147.1,308.4 147.3,308.6 147.5,308.6 147.7,308.5 147.9,308.5 148.1,308.3 148.3,308.0 148.5,307.7 148.7,307.5 148.9,307.5 149.1,307.7 149.3,308.0 149.5,308.3 149.7,308.6 149.9,308.7 150.1,308.6 150.3,308.5 150.5,308.2 150.7,307.9 150.9,307.7 151.1,307.8 151.3,308.1 151.5,308.5 151.7,309.0 151.9,309.4 152.1,309.8 152.3,309.9 152.5,309.8 152.7,309.5 152.9,309.2 153.1,309.1 153.3,309.3 153.5,309.7 153.7,310.3 153.9,310.8 154.1,311.2 154.3,311.4 154.5,311.3 154.7,311.1 154.9,310.8 155.1,310.6 155.3,310.6 155.5,310.9 155.7,311.4 155.9,311.9 156.1,312.3 156.3,312.6 156.5,312.6 156.7,312.4 156.9,312.2 157.1,312.0 157.3,311.9 157.5,312.1 157.7,312.4 157.9,312.8 158.1,313.2 158.3,313.5 158.5,313.6 158.7,313.5 158.9,313.3 159.1,313.1 159.3,313.0 159.5,313.0 159.7,313.2 159.9,313.5 160.1,313.9 160.3,314.2 160.5,314.4 160.7,314.4 160.9,314.3 161.1,314.1 161.3,313.9 161.5,313.8 161.7,313.9 161.9,314.2 162.1,314.6 162.3,314.9 162.5,315.2 162.7,315.2 162.9,315.2 163.1,315.0 163.3,314.7 163.5,314.6 163.7,314.6 163.9,314.9 164.1,315.2 164.3,315.6 164.5,315.9 164.7,316.0 164.9,316.0 165.1,315.8 165.3,315.6 165.5,315.4 165.7,315.3 165.9,315.4 166.1,315.8 166.3,316.2 166.5,316.6 166.7,316.8 166.9,316.9 167.1,316.8 167.3,316.5 167.5,316.2 167.7,316.1 167.9,316.1 168.1,316.4 168.3,316.8 168.5,317.3 168.7,317.6 168.9,317.8 169.1,317.7 169.3,317.4 169.5,317.1 169.7,316.9 169.9,316.8 170.1,317.0 170.3,317.4 170.5,317.8 170.7,318.2 170.9,318.3 171.1,318.3 171.3,318.1 171.5,317.7 171.7,317.4 171.9,317.3 172.1,317.4 172.3,317.6 172.5,318.0 172.7,318.4 172.9,318.7 173.1,318.7 173.3,318.6 173.5,318.3 173.7,318.0 173.9,317.8 174.1,317.7 174.3,317.9 174.5,318.2 174.7,318.6 174.9,318.8 175.1,319.0 175.3,318.9 175.5,318.7 175.7,318.4 175.9,318.2 176.1,318.1 176.3,318.2 176.5,318.4 176.7,318.7 176.9,319.0 177.1,319.1 177.3,319.2 177.5,319.0 177.7,318.8 177.9,318.6 178.1,318.4 178.3,318.4 178.5,318.5 178.7,318.8 178.9,319.1 179.1,319.3 179.3,319.4 179.5,319.3 179.7,319.1 179.9,318.9 180.1,318.7 180.3,318.6 180.5,318.6 180.7,318.8 180.9,319.1 181.1,319.4 181.3,319.6 181.5,319.6 181.7,319.4 181.9,319.2 182.1,318.9 182.3,318.7 182.5,318.7 182.7,318.8 182.9,319.1 183.1,319.4 183.3,319.7 183.5,319.8 183.7,319.7 183.9,319.5 184.1,319.1 184.3,318.9 184.5,318.7 184.7,318.8 184.9,319.1 185.1,319.4 185.3,319.8 185.5,320.0 185.7,320.0 185.9,319.8 186.1,319.4 186.3,319.1 186.5,318.8 186.7,318.8 186.9,319.0 187.1,319.3 187.3,319.7 187.5,320.0 187.7,320.1 187.9,320.0 188.1,319.7 188.3,319.3 188.5,319.1 188.7,318.9 188.9,319.0 189.1,319.3 189.3,319.6 189.5,320.0 189.7,320.2 189.9,320.1 190.1,319.9 190.3,319.6 190.5,319.3 190.7,319.1 190.9,319.1 191.1,319.3 191.3,319.6 191.5,319.9 191.7,320.1 191.9,320.2 192.1,320.1 192.3,319.9 192.5,319.6 192.7,319.4 192.9,319.3 193.1,319.3 193.3,319.5 193.5,319.8 193.7,320.1 193.9,320.3 194.1,320.2 194.3,320.1 194.5,319.9 194.7,319.6 194.9,319.4 195.1,319.4 195.3,319.6 195.5,319.8 195.7,320.1 195.9,320.3 196.1,320.4 196.3,320.3 196.5,320.1 196.7,319.8 196.9,319.6 197.1,319.5 197.3,319.6 197.5,319.8 197.7,320.0 197.9,320.3 198.1,320.4 198.3,320.4 198.5,320.3 198.7,320.0 198.9,319.7 199.1,319.5 199.3,319.5 199.5,319.6 199.7,319.9 199.9,320.2 200.1,320.5 200.3,320.5 200.5,320.4 200.7,320.2 200.9,319.8 201.1,319.5 201.3,319.4 201.5,319.5 201.7,319.7 201.9,320.1 202.1,320.4 202.3,320.6 202.5,320.6 202.7,320.3 202.9,320.0 203.1,319.6 203.3,319.4 203.5,319.4 203.7,319.6 203.9,319.9 204.1,320.3 204.3,320.6 204.5,320.6 204.7,320.5 204.9,320.2 205.1,319.8 205.3,319.5 205.5,319.4 205.7,319.5 205.9,319.7 206.1,320.1 206.3,320.4 206.5,320.6 206.7,320.6 206.9,320.3 207.1,320.0 207.3,319.7 207.5,319.5 207.7,319.5 207.9,319.6 208.1,319.9 208.3,320.2 208.5,320.5 208.7,320.5 208.9,320.4 209.1,320.1 209.3,319.8 209.5,319.6 209.7,319.5 209.9,319.6 210.1,319.8 210.3,320.1 210.5,320.3 210.7,320.5 210.9,320.4 211.1,320.3 211.3,320.0 211.5,319.7 211.7,319.6 211.9,319.6 212.1,319.7 212.3,319.9 212.5,320.2 212.7,320.4 212.9,320.4 213.1,320.3 213.3,320.1 213.5,319.9 213.7,319.6 213.9,319.5 214.1,319.6 214.3,319.8 214.5,320.1 214.7,320.3 214.9,320.5 215.1,320.4 215.3,320.3 215.5,320.0 215.7,319.7 215.9,319.5 216.1,319.5 216.3,319.7 216.5,319.9 216.7,320.2 216.9,320.5 217.1,320.5 217.3,320.4 217.5,320.2 217.7,319.8 217.9,319.5 218.1,319.4 218.3,319.5 218.5,319.8 218.7,320.1 218.9,320.4 219.1,320.6 219.3,320.6 219.5,320.3 219.7,320.0 219.9,319.6 220.1,319.4 220.3,319.4 220.5,319.6 220.7,319.9 220.9,320.3 221.1,320.6 221.3,320.6 221.5,320.5 221.7,320.2 221.9,319.8 222.1,319.5 222.3,319.4 222.5,319.5 222.7,319.7 222.9,320.1 223.1,320.4 223.3,320.6 223.5,320.6 223.7,320.3 223.9,320.0 224.1,319.7 224.3,319.5 224.5,319.5 224.7,319.6 224.9,319.9 225.1,320.3 225.3,320.5 225.5,320.6 225.7,320.4 225.9,320.2 226.1,319.9 226.3,319.6 226.5,319.5 226.7,319.6 226.9,319.8 227.1,320.1 227.3,320.4 227.5,320.5 227.7,320.5 227.9,320.3 228.1,320.0 228.3,319.8 228.5,319.6 228.7,319.6 228.9,319.7 229.1,320.0 229.3,320.2 229.5,320.4 229.7,320.5 229.9,320.4 230.1,320.2 230.3,319.9 230.5,319.7 230.7,319.6 230.9,319.7 231.1,319.9 231.3,320.1 231.5,320.4 231.7,320.5 231.9,320.5 232.1,320.4 232.3,320.1 232.5,319.8 232.7,319.6 232.9,319.6 233.1,319.7 233.3,320.0 233.5,320.3 233.7,320.6 233.9,320.6 234.1,320.5 234.3,320.3 234.5,319.9 234.7,319.7 234.9,319.5 235.1,319.6 235.3,319.9 235.5,320.2 235.7,320.5 235.9,320.7 236.1,320.7 236.3,320.5 236.5,320.1 236.7,319.8 236.9,319.6 237.1,319.5 237.3,319.7 237.5,320.1 237.7,320.4 237.9,320.7 238.1,320.8 238.3,320.7 238.5,320.4 238.7,320.0 238.9,319.7 239.1,319.6 239.3,319.6 239.5,319.9 239.7,320.3 239.9,320.6 240.1,320.8 240.3,320.8 240.5,320.5 240.7,320.2 240.9,319.9 241.1,319.7 241.3,319.7 241.5,319.8 241.7,320.1 241.9,320.5 242.1,320.7 242.3,320.8 242.5,320.7 242.7,320.4 242.9,320.1 243.1,319.9 243.3,319.8 243.5,319.9 243.7,320.1 243.9,320.4 244.1,320.6 244.3,320.8 244.5,320.8 244.7,320.6 244.9,320.4 245.1,320.1 245.3,319.9 245.5,319.9 245.7,320.1 245.9,320.3 246.1,320.6 246.3,320.8 246.5,320.9 246.7,320.8 246.9,320.6 247.1,320.3 247.3,320.1 247.5,320.0 247.7,320.1 247.9,320.3 248.1,320.5 248.3,320.8 248.5,321.0 248.7,321.0 248.9,320.8 249.1,320.6 249.3,320.3 249.5,320.1 249.7,320.1 249.9,320.2 250.1,320.5 250.3,320.8 250.5,321.1 250.7,321.2 250.9,321.1 251.1,320.9 251.3,320.6 251.5,320.3 251.7,320.2 251.9,320.2 252.1,320.5 252.3,320.8 252.5,321.2 252.7,321.4 252.9,321.4 253.1,321.2 253.3,320.9 253.5,320.6 253.7,320.4 253.9,320.3 254.1,320.5 254.3,320.8 254.5,321.2 254.7,321.6 254.9,321.7 255.1,321.6 255.3,321.3 255.5,321.0 255.7,320.7 255.9,320.6 256.1,320.6 256.3,320.9 256.5,321.3 256.7,321.7 256.9,321.9 257.1,322.0 257.3,321.8 257.5,321.5 257.7,321.2 257.9,321.0 258.1,321.0 258.3,321.1 258.5,321.5 258.7,321.8 258.9,322.2 259.1,322.3 259.3,322.3 259.5,322.1 259.7,321.9 259.9,321.6 260.1,321.5 260.3,321.6 260.5,321.8 260.7,322.1 260.9,322.5 261.1,322.8 261.3,322.9 261.5,322.9 261.7,322.8 261.9,322.6 262.1,322.4 262.3,322.3 262.5,322.4 262.7,322.7 262.9,323.1 263.1,323.4 263.3,323.7 263.5,323.8 263.7,323.7 263.9,323.5 264.1,323.3 264.3,323.2 264.5,323.2 264.7,323.4 264.9,323.7 265.1,324.1 265.3,324.4 265.5,324.6 265.7,324.6 265.9,324.4 266.1,324.2 266.3,324.0 266.5,323.9 266.7,324.1 266.9,324.4 267.1,324.7 267.3,325.1 267.5,325.4 267.7,325.4 267.9,325.3 268.1,325.0 268.3,324.8 268.5,324.6 268.7,324.7 268.9,324.9 269.1,325.3 269.3,325.7 269.5,326.1 269.7,326.2 269.9,326.1 270.1,325.9 270.3,325.5 270.5,325.3 270.7,325.2 270.9,325.4 271.1,325.8 271.3,326.3 271.5,326.7 271.7,326.9 271.9,326.9 272.1,326.5 272.3,326.1 272.5,325.7 272.7,325.5 272.9,325.6 273.1,325.9 273.3,326.5 273.5,327.1 273.7,327.4 273.9,327.4 274.1,327.1 274.3,326.6 274.5,326.0 274.7,325.7 274.9,325.6 275.1,325.9 275.3,326.5 275.5,327.1 275.7,327.5 275.9,327.5 276.1,327.2 276.3,326.7 276.5,326.0 276.7,325.5 276.9,325.3 277.1,325.5 277.3,325.9 277.5,326.5 277.7,326.9 277.9,327.1 278.1,326.8 278.3,326.1 278.5,325.3 278.7,324.7 278.9,324.4 279.1,324.4 279.3,324.8 279.5,325.2 279.7,325.5 279.9,325.5 280.1,325.0 280.3,324.1 280.5,322.8 280.7,321.7 280.9,321.2 281.1,321.2 281.3,321.5 281.5,322.0 281.7,322.1 281.9,321.7 282.1,320.6 282.3,319.0 282.5,317.4 282.7,316.0 282.9,315.1 283.1,314.8 283.3,315.0 283.5,315.4 283.7,315.8 283.9,315.8 284.1,315.1 284.3,313.7 284.5,311.7 284.7,309.5 284.9,307.8 285.1,307.0 285.3,307.1 285.5,307.7 285.7,308.3 285.9,308.2 286.1,307.0 286.3,304.6 286.5,301.4 286.7,298.2 286.9,295.7 287.1,294.2 287.3,293.8 287.5,294.4 287.7,295.1 287.9,295.5 288.1,294.8 288.3,292.9 288.5,290.0 288.7,286.7 288.9,283.6 289.1,281.3 289.3,280.3 289.5,280.5 289.7,281.4 289.9,282.0 290.1,281.8 290.3,279.9 290.5,275.8 290.7,270.2 290.9,264.4 291.1,259.7 291.3,257.4 291.5,257.3 291.7,258.6 291.9,259.7 292.1,259.5 292.3,256.9 292.5,251.9 292.7,246.4 292.9,239.7 293.1,227.9 293.3,218.3 293.5,216.3 293.7,219.4 293.9,223.5 294.1,224.0 294.3,217.6 294.5,207.0 294.7,196.4 294.9,183.1 295.1,170.2 295.3,161.2 295.5,157.3 295.7,157.8 295.9,160.6 296.1,162.5 296.3,160.9 296.5,154.4 296.7,144.0 296.9,132.2 297.1,120.8 297.3,111.9 297.5,107.1 297.7,105.9 297.9,107.2 298.1,109.2 298.3,109.6 298.5,107.1 298.7,101.5 298.9,94.2 299.1,87.3 299.3,81.8 299.5,78.0 299.7,76.1 299.9,76.0 300.1,76.9 300.3,77.9 300.5,77.8 300.7,75.9 300.9,72.4 301.1,68.1 301.3,63.9 301.5,60.5 301.7,58.4 301.9,57.5 302.1,57.7 302.3,58.4 302.5,59.1 302.7,59.0 302.9,57.9 303.1,56.0 303.3,53.5 303.5,51.1 303.7,49.0 303.9,47.6 304.1,47.1 304.3,47.4 304.5,48.1 304.7,48.7 304.9,48.8 305.1,48.0 305.3,46.6 305.5,44.7 305.7,42.8 305.9,41.3 306.1,40.3 306.3,40.2 306.5,40.6 306.7,41.4 306.9,42.0 307.1,42.1 307.3,41.6 307.5,40.6 307.7,39.3 307.9,38.0 308.1,36.9 308.3,36.3 308.5,36.4 308.7,37.0 308.9,37.8 309.1,38.4 309.3,38.6 309.5,38.4 309.7,37.7 309.9,36.7 310.1,35.8 310.3,35.0 310.5,34.8 310.7,35.0 310.9,35.7 311.1,36.4 311.3,37.0 311.5,37.3 311.7,37.1 311.9,36.5 312.1,35.8 312.3,35.1 312.5,34.6 312.7,34.6 312.9,35.0 313.1,35.7 313.3,36.5 313.5,37.1 313.7,37.4 313.9,37.4 314.1,37.0 314.3,36.4 314.5,35.8 314.7,35.5 314.9,35.6 315.1,36.2 315.3,37.0 315.5,37.9 315.7,38.7 315.9,39.3 316.1,39.5 316.3,39.4 316.5,39.0 316.7,38.4 316.9,38.1 317.1,38.4 317.3,39.3 317.5,40.6 317.7,42.3 317.9,43.7 318.1,44.6 318.3,44.9 318.5,44.6 318.7,44.0 318.9,43.4 319.1,43.4 319.3,44.0 319.5,45.4 319.7,47.4 319.9,50.4 320.1,54.6 320.3,57.7 320.5,59.2 320.7,59.2 320.9,58.3 321.1,57.4 321.3,57.4 321.5,59.0 321.7,62.2 321.9,67.3 322.1,74.4 322.3,81.5 322.5,86.9 322.7,89.1 322.9,88.7 323.1,87.1 323.3,85.9 323.5,86.8 323.7,90.4 323.9,96.3 324.1,103.6 324.3,111.3 324.5,117.6 324.7,121.3 324.9,122.2 325.1,121.0 325.3,119.4 325.5,119.0 325.7,121.2 325.9,126.4 326.1,134.0 326.3,142.3 326.5,149.8 326.7,156.0 326.9,159.2 327.1,159.1 327.3,157.2 327.5,155.6 327.7,156.3 327.9,160.6 328.1,169.3 328.3,184.9 328.5,203.0 328.7,217.7 328.9,227.9 329.1,231.6 329.3,229.8 329.5,225.9 329.7,224.2 329.9,227.9 330.1,238.7 330.3,254.7 330.5,270.6 330.7,283.5 330.9,294.0 331.1,299.1 331.3,299.3 331.5,297.0 331.7,294.6 331.9,295.2 332.1,300.5 332.3,308.6 332.5,316.6 332.7,322.8 332.9,326.6 333.1,326.5 333.3,325.7 333.5,325.3 333.7,325.2 333.9,325.6 334.1,326.3 334.3,326.9 334.5,327.1 334.7,326.5 334.9,324.3 335.1,308.4 335.3,302.4 335.5,301.1 335.7,302.4 335.9,304.8 336.1,305.4 336.3,302.5 336.5,298.8 336.7,296.7 336.9,293.4 337.1,290.4 337.3,288.1 337.5,286.7 337.7,286.3 337.9,286.6 338.1,287.4 338.3,287.9 338.5,287.8 338.7,286.7 338.9,284.7 339.1,282.3 339.3,280.1 339.5,278.3 339.7,277.3 339.9,277.3 340.1,277.8 340.3,278.6 340.5,279.0 340.7,278.7 340.9,277.7 341.1,276.1 341.3,274.2 341.5,272.5 341.7,271.3 341.9,270.8 342.1,270.9 342.3,271.6 342.5,272.3 342.7,272.7 342.9,272.7 343.1,272.1 343.3,271.1 343.5,269.9 343.7,268.8 343.9,268.0 344.1,267.8 344.3,268.1 344.5,268.8 344.7,269.5 344.9,269.9 345.1,269.9 345.3,269.4 345.5,268.5 345.7,267.5 345.9,266.7 346.1,266.2 346.3,266.3 346.5,266.7 346.7,267.4 346.9,267.9 347.1,268.3 347.3,268.3 347.5,268.0 347.7,267.5 347.9,266.8 348.1,266.2 348.3,265.9 348.5,266.1 348.7,266.6 348.9,267.4 349.1,268.2 349.3,268.8 349.5,269.0 349.7,268.7 349.9,268.2 350.1,267.5 350.3,267.0 350.5,266.9 350.7,267.3 350.9,268.0 351.1,268.9 351.3,269.7 351.5,270.1 351.7,270.1 351.9,269.6 352.1,268.9 352.3,268.3 352.5,267.9 352.7,268.0 352.9,268.7 353.1,269.6 353.3,270.7 353.5,271.5 353.7,271.8 353.9,271.6 354.1,270.9 354.3,270.1 354.5,269.4 354.7,269.3 354.9,269.7 355.1,270.7 355.3,271.8 355.5,272.9 355.7,273.4 355.9,273.4 356.1,272.8 356.3,271.9 356.5,271.1 356.7,270.6 356.9,270.8 357.1,271.6 357.3,272.7 357.5,273.9 357.7,274.7 357.9,275.0 358.1,274.6 358.3,273.9 358.5,273.0 358.7,272.4 358.9,272.2 359.1,272.7 359.3,273.7 359.5,274.8 359.7,275.9 359.9,276.5 360.1,276.5 360.3,276.0 360.5,275.3 360.7,274.6 360.9,274.2 361.1,274.3 361.3,275.0 361.5,276.0 361.7,277.1 361.9,277.8 362.1,278.0 362.3,277.7 362.5,277.1 362.7,276.3 362.9,275.8 363.1,275.8 363.3,276.2 363.5,276.9 363.7,277.8 363.9,278.5 364.1,278.9 364.3,278.8 364.5,278.3 364.7,277.7 364.9,277.1 365.1,276.8 365.3,277.0 365.5,277.5 365.7,278.3 365.9,279.0 366.1,279.6 366.3,279.7 366.5,279.3 366.7,278.7 366.9,278.0 367.1,277.6 367.3,277.5 367.5,277.9 367.7,278.6 367.9,279.4 368.1,280.1 368.3,280.4 368.5,280.2 368.7,279.6 368.9,278.9 369.1,278.2 369.3,277.9 369.5,278.0 369.7,278.7 369.9,279.6 370.1,280.4 370.3,281.0 370.5,281.0 370.7,280.6 370.9,279.7 371.1,278.8 371.3,278.2 371.5,278.1 371.7,278.6 371.9,279.5 372.1,280.5 372.3,281.3 372.5,281.5 372.7,281.2 372.9,280.4 373.1,279.4 373.3,278.5 373.5,278.2 373.7,278.4 373.9,279.2 374.1,280.2 374.3,281.1 374.5,281.7 374.7,281.6 374.9,280.9 375.1,280.0 375.3,279.0 375.5,278.4 375.7,278.3 375.9,278.8 376.1,279.8 376.3,280.7 376.5,281.4 376.7,281.6 376.9,281.3 377.1,280.4 377.3,279.5 377.5,278.7 377.7,278.4 377.9,278.7 378.1,279.3 378.3,280.2 378.5,281.0 378.7,281.3 378.9,281.2 379.1,280.6 379.3,279.8 379.5,279.0 379.7,278.5 379.9,278.5 380.1,278.9 380.3,279.6 380.5,280.4 380.7,280.9 380.9,281.0 381.1,280.6 381.3,279.9 381.5,279.1 381.7,278.5 381.9,278.2 382.1,278.4 382.3,279.0 382.5,279.7 382.7,280.3 382.9,280.6 383.1,280.4 383.3,279.8 383.5,279.0 383.7,278.3 383.9,277.8 384.1,277.7 384.3,278.2 384.5,278.8 384.7,279.6 384.9,280.1 385.1,280.2 385.3,279.8 385.5,279.0 385.7,278.1 385.9,277.4 386.1,277.0 386.3,277.3 386.5,277.9 386.7,278.8 386.9,279.6 387.1,280.0 387.3,279.9 387.5,279.2 387.7,278.2 387.9,277.2 388.1,276.5 388.3,276.5 388.5,277.0 388.7,277.9 388.9,279.0 389.1,279.7 389.3,279.9 389.5,279.5 389.7,278.5 389.9,277.4 390.1,276.5 390.3,276.0 390.5,276.3 390.7,277.2 390.9,278.3 391.1,279.4 391.3,280.0 391.5,279.9 391.7,279.2 391.9,278.0 392.1,276.9 392.3,276.2 392.5,276.1 392.7,276.7 392.9,277.8 393.1,278.9 393.3,279.8 393.5,280.1 393.7,279.6 393.9,278.7 394.1,277.6 394.3,276.7 394.5,276.3 394.7,276.6 394.9,277.4 395.1,278.5 395.3,279.4 395.5,280.0 395.7,279.9 395.9,279.3 396.1,278.4 396.3,277.4 396.5,276.8 396.7,276.8 396.9,277.3 397.1,278.2 397.3,279.2 397.5,279.9 397.7,280.2 397.9,279.9 398.1,279.2 398.3,278.3 398.5,277.6 398.7,277.2 398.9,277.4 399.1,278.1 399.3,279.0 399.5,279.9 399.7,280.4 399.9,280.4 400.1,279.9 400.3,279.1 400.5,278.2 400.7,277.6 400.9,277.5 401.1,278.0 401.3,278.9 401.5,280.0 401.7,280.8 401.9,281.2 402.1,280.9 402.3,280.0 402.5,278.8 402.7,277.8 402.9,277.3 403.1,277.6 403.3,278.5 403.5,279.8 403.7,281.1 403.9,281.9 404.1,281.9 404.3,281.1 404.5,279.7 404.7,278.2 404.9,277.2 405.1,277.0 405.3,277.8 405.5,279.3 405.7,281.0 405.9,282.4 406.1,282.8 406.3,282.2 406.5,280.8 406.7,278.9 406.9,277.3 407.1,276.6 407.3,277.0 407.5,278.4 407.7,280.4 407.9,282.3 408.1,283.3 408.3,283.2 408.5,281.9 408.7,279.9 408.9,278.0 409.1,276.8 409.3,276.7 409.5,277.8 409.7,279.5 409.9,281.4 410.1,282.8 410.3,283.1 410.5,282.3 410.7,280.7 410.9,278.9 411.1,277.5 411.3,276.9 411.5,277.4 411.7,278.7 411.9,280.3 412.1,281.6 412.3,282.2 412.5,281.9 412.7,280.7 412.9,279.0 413.1,277.6 413.3,276.7 413.5,276.8 413.7,277.5 413.9,278.8 414.1,279.9 414.3,280.5 414.5,280.2 414.7,279.0 414.9,277.5 415.1,275.9 415.3,274.9 415.5,274.6 415.7,275.0 415.9,275.9 416.1,276.9 416.3,277.4 416.5,277.3 416.7,276.4 416.9,274.9 417.1,273.3 417.3,272.0 417.5,271.4 417.7,271.5 417.9,272.2 418.1,273.1 418.3,273.7 418.5,273.7 418.7,272.9 418.9,271.3 419.1,269.4 419.3,267.8 419.5,266.7 419.7,266.5 419.9,267.0 420.1,267.9 420.3,268.6 420.5,268.8 420.7,268.2 420.9,266.7 421.1,264.8 421.3,262.8 421.5,261.2 421.7,260.5 421.9,260.6 422.1,261.5 422.3,262.5 422.5,263.1 422.7,263.0 422.9,262.0 423.1,260.1 423.3,257.9 423.5,255.9 423.7,254.7 423.9,254.3 424.1,254.9 424.3,256.0 424.5,257.0 424.7,257.5 424.9,257.0 425.1,255.5 425.3,253.3 425.5,251.0 425.7,249.2 425.9,248.4 426.1,248.6 426.3,249.5 426.5,250.6 426.7,251.3 426.9,250.9 427.1,249.2 427.3,246.7 427.5,243.9 427.7,241.7 427.9,240.4 428.1,240.2 428.3,241.0 428.5,242.0 428.7,242.7 428.9,242.4 429.1,241.0 429.3,238.5 429.5,235.6 429.7,233.0 429.9,231.2 430.1,230.6 430.3,231.0 430.5,232.0 430.7,232.7 430.9,232.6 431.1,231.5 431.3,229.2 431.5,226.4 431.7,223.5 431.9,221.4 432.1,220.3 432.3,220.3 432.5,221.0 432.7,221.8 432.9,222.1 433.1,221.3 433.3,219.4 433.5,216.7 433.7,213.6 433.9,210.9 434.1,209.3 434.3,208.8 434.5,209.3 434.7,210.1 434.9,210.7 435.1,210.4 435.3,209.0 435.5,206.7 435.7,204.0 435.9,201.4 436.1,199.4 436.3,198.2 436.5,198.1 436.7,198.8 436.9,199.7 437.1,200.2 437.3,199.9 437.5,198.6 437.7,196.5 437.9,194.0 438.1,191.6 438.3,189.9 438.5,189.1 438.7,189.4 438.9,190.3 439.1,191.3 439.3,191.8 439.5,191.2 439.7,189.5 439.9,187.0 440.1,184.1 440.3,181.5 440.5,180.1 440.7,179.9 440.9,180.7 441.1,181.9 441.3,182.6 441.5,181.9 441.7,178.8 441.9,173.7 442.1,167.9 442.3,162.8 442.5,160.0 442.7,159.4 442.9,160.4 443.1,161.9 443.3,162.4 443.5,161.1 443.7,158.6 443.9,155.5 444.1,152.0 444.3,148.8 444.5,146.3 444.7,144.9 444.9,144.8 445.1,145.5 445.3,146.7 445.5,147.4 445.7,147.2 445.9,146.2 446.1,144.3 446.3,141.9 446.5,139.5 446.7,137.8 446.9,137.1 447.1,137.4 447.3,138.3 447.5,139.2 447.7,139.6 447.9,139.1 448.1,137.7 448.3,135.8 448.5,133.8 448.7,132.1 448.9,131.1 449.1,130.8 449.3,131.3 449.5,132.2 449.7,133.0 449.9,133.3 450.1,132.9 450.3,131.9 450.5,130.4 450.7,128.8 450.9,127.5 451.1,126.8 451.3,126.9 451.5,127.6 451.7,128.5 451.9,129.3 452.1,129.6 452.3,129.3 452.5,128.3 452.7,126.9 452.9,125.5 453.1,124.4 453.3,124.0 453.5,124.4 453.7,125.3 453.9,126.5 454.1,127.4 454.3,127.8 454.5,127.3 454.7,126.2 454.9,124.8 455.1,123.4 455.3,122.4 455.5,122.3 455.7,123.1 455.9,124.5 456.1,126.0 456.3,127.2 456.5,127.7 456.7,127.2 456.9,126.0 457.1,124.4 457.3,123.1 457.5,122.4 457.7,122.8 457.9,124.0 458.1,125.8 458.3,127.5 458.5,128.6 458.7,129.0 458.9,128.4 459.1,127.1 459.3,125.6 459.5,124.4 459.7,124.2 459.9,125.0 460.1,126.7 460.3,128.8 460.5,130.7 460.7,131.9 460.9,132.1 461.1,131.5 461.3,130.3 461.5,129.0 461.7,128.2 461.9,128.4 462.1,129.7 462.3,131.7 462.5,134.0 462.7,135.9 462.9,137.1 463.1,137.3 463.3,136.6 463.5,135.5 463.7,134.4 463.9,134.1 464.1,134.7 464.3,136.3 464.5,138.5 464.7,140.7 464.9,142.4 465.1,143.2 465.3,143.1 465.5,142.3 465.7,141.3 465.9,140.6 466.1,140.7 466.3,141.7 466.5,143.5 466.7,145.6 466.9,147.5 467.1,148.7 467.3,149.0 467.5,148.5 467.7,147.6 467.9,146.7 468.1,146.3 468.3,146.8 468.5,148.3 468.7,150.3 468.9,152.5 469.1,154.3 469.3,155.4 469.5,155.6 469.7,155.0 469.9,154.0 470.1,153.1 470.3,153.0 470.5,154.1 470.7,156.3 470.9,159.3 471.1,162.5 471.3,165.0 471.5,166.3 471.7,166.3 471.9,165.2 472.1,164.0 472.3,163.4 472.5,164.0 472.7,165.9 472.9,168.9 473.1,171.9 473.3,173.9 473.5,174.6 473.7,174.0 473.9,172.7 474.1,171.2 474.3,170.3 474.5,170.5 474.7,171.9 474.9,174.3 475.1,177.0 475.3,179.3 475.5,180.4 475.7,180.1 475.9,178.8 476.1,177.1 476.3,175.8 476.5,175.5 476.7,176.4 476.9,178.4 477.1,180.8 477.3,183.0 477.5,184.2 477.7,184.1 477.9,183.0 478.1,181.3 478.3,179.8 478.5,179.0 478.7,179.4 478.9,180.8 479.1,182.9 479.3,185.0 479.5,186.5 479.7,187.0 479.9,186.4 480.1,185.0 480.3,183.5 480.5,182.4 480.7,182.2 480.9,183.0 481.1,184.7 481.3,186.7 481.5,188.4 481.7,189.4 481.9,189.3 482.1,188.3 482.3,187.0 482.5,185.7 482.7,185.1 482.9,185.4 483.1,186.6 483.3,188.2 483.5,189.9 483.7,191.0 483.9,191.3 484.1,190.7 484.3,189.4 484.5,188.1 484.7,187.2 484.9,187.0 485.1,187.8 485.3,189.1 485.5,190.6 485.7,191.7 485.9,191.9 486.1,191.2 486.3,189.8 486.5,188.2 486.7,186.9 486.9,186.4 487.1,186.8 487.3,187.9 487.5,189.4 487.7,190.7 487.9,191.3 488.1,191.0 488.3,189.7 488.5,187.9 488.7,186.2 488.9,185.1 489.1,185.0 489.3,185.9 489.5,187.5 489.7,189.1 489.9,190.2 490.1,190.2 490.3,189.1 490.5,187.2 490.7,185.1 490.9,183.5 491.1,182.8 491.3,183.4 491.5,184.8 491.7,186.7 491.9,188.2 492.1,188.7 492.3,188.0 492.5,186.2 492.7,183.8 492.9,181.7 493.1,180.5 493.3,180.5 493.5,181.7 493.7,183.4 493.9,185.1 494.1,186.0 494.3,185.5 494.5,183.8 494.7,181.4 494.9,179.1 495.1,177.4 495.3,176.8 495.5,177.5 495.7,179.0 495.9,180.6 496.1,181.8 496.3,182.1 496.5,181.4 496.7,179.7 496.9,177.7 497.1,175.9 497.3,174.8 497.5,174.9 497.7,175.8 497.9,177.3 498.1,178.8 498.3,179.7 498.5,179.7 498.7,178.9 498.9,177.5 499.1,175.8 499.3,174.6 499.5,174.1 499.7,174.5 499.9,175.6 500.1,177.1 500.3,178.3 500.5,179.0 500.7,178.8 500.9,178.0 501.1,176.7 501.3,175.4 501.5,174.5 501.7,174.4 501.9,175.1 502.1,176.4 502.3,178.0 502.5,179.4 502.7,180.3 502.9,180.8 503.1,180.6 503.3,179.6 503.5,178.5 503.7,177.8 503.9,177.9 504.1,179.0 504.3,180.9 504.5,183.2 504.7,185.0 504.9,186.1 505.1,186.3 505.3,185.7 505.5,184.6 505.7,183.4 505.9,182.9 506.1,183.6 506.3,185.4 506.5,188.1 506.7,191.4 506.9,194.2 507.1,195.6 507.3,195.5 507.5,194.3 507.7,192.9 507.9,191.9 508.1,192.1 508.3,193.5 508.5,195.9 508.7,198.8 508.9,201.4 509.1,203.3 509.3,204.2 509.5,203.8 509.7,202.5 509.9,201.1 510.1,200.5 510.3,201.2 510.5,203.4 510.7,206.6 510.9,210.2 511.1,213.3 511.3,215.3 511.5,215.8 511.7,215.0 511.9,213.7 512.1,212.6 512.3,212.6 512.5,214.0 512.7,216.7 512.9,220.3 513.1,223.9 513.3,227.0 513.5,228.9 513.7,229.3 513.9,228.5 514.1,227.2 514.3,226.5 514.5,227.0 514.7,229.0 514.9,232.4 515.1,236.4 515.3,240.4 515.5,243.5 515.7,245.1 515.9,245.2 516.1,244.3 516.3,243.2 516.5,242.9 516.7,244.0 516.9,246.6 517.1,250.5 517.3,255.2 517.5,260.6 517.7,264.4 517.9,265.9 518.1,265.6 518.3,264.5 518.5,263.6 518.7,263.8 518.9,265.6 519.1,269.1 519.3,273.1 519.5,276.7 519.7,278.8 519.9,279.4 520.1,278.9 520.3,277.9 520.5,277.1 520.7,277.0 520.9,278.1 521.1,280.1 521.3,282.6 521.5,285.1 521.7,286.9 521.9,287.7 522.1,287.3 522.3,286.3 522.5,285.3 522.7,284.8 522.9,285.4 523.1,287.0 523.3,289.5 523.5,292.2 523.7,294.3 523.9,295.4 524.1,295.2 524.3,294.2 524.5,292.9 524.7,292.1 524.9,292.2 525.1,293.4 525.3,295.7 525.5,298.2 525.7,300.5 525.9,301.7 526.1,301.7 526.3,300.7 526.5,299.3"/>
<polyline fill="none" stroke="#009e73" stroke-width="1.4" stroke-linejoin="round" points="87.5,11.4 87.7,11.5 87.9,11.5 88.1,11.6 88.3,11.6 88.5,11.6 88.7,11.6 88.9,11.5 89.1,11.4 89.3,11.4 89.5,11.4 89.7,11.4 89.9,11.5 90.1,11.6 90.3,11.6 90.5,11.6 90.7,11.6 90.9,11.5 91.1,11.4 91.3,11.4 91.5,11.3 91.7,11.4 91.9,11.4 92.1,11.5 92.3,11.6 92.5,11.7 92.7,11.6 92.9,11.6 93.1,11.5 93.3,11.4 93.5,11.3 93.7,11.3 93.9,11.4 94.1,11.5 94.3,11.6 94.5,11.7 94.7,11.7 94.9,11.6 95.1,11.5 95.3,11.4 95.5,11.3 95.7,11.3 95.9,11.3 96.1,11.4 96.3,11.6 96.5,11.7 96.7,11.7 96.9,11.7 97.1,11.6 97.3,11.5 97.5,11.4 97.7,11.3 97.9,11.3 98.1,11.4 98.3,11.5 98.5,11.6 98.7,11.7 98.9,11.7 99.1,11.7 99.3,11.5 99.5,11.4 99.7,11.3 99.9,11.3 100.1,11.3 100.3,11.4 100.5,11.6 100.7,11.7 100.9,11.7 101.1,11.7 101.3,11.6 101.5,11.5 101.7,11.4 101.9,11.3 102.1,11.3 102.3,11.4 102.5,11.5 102.7,11.6 102.9,11.7 103.1,11.7 103.3,11.6 103.5,11.5 103.7,11.4 103.9,11.4 104.1,11.3 104.3,11.4 104.5,11.4 104.7,11.5 104.9,11.6 105.1,11.7 105.3,11.6 105.5,11.6 105.7,11.5 105.9,11.4 106.1,11.3 106.3,11.3 106.5,11.4 106.7,11.5 106.9,11.6 107.1,11.6 107.3,11.7 107.5,11.6 107.7,11.5 107.9,11.4 108.1,11.4 108.3,11.3 108.5,11.4 108.7,11.4 108.9,11.5 109.1,11.6 109.3,11.7 109.5,11.7 109.7,11.6 109.9,11.5 110.1,11.4 110.3,11.3 110.5,11.3 110.7,11.4 110.9,11.5 111.1,11.7 111.3,11.8 111.5,11.8 111.7,11.8 111.9,11.8 112.1,11.7 112.3,11.6 112.5,11.6 112.7,11.6 112.9,11.8 113.1,12.0 113.3,12.2 113.5,12.4 113.7,12.6 113.9,12.8 114.1,12.8 114.3,12.8 114.5,12.8 114.7,12.9 114.9,13.1 115.1,13.4 115.3,13.9 115.5,14.6 115.7,15.5 115.9,16.4 116.1,17.6 116.3,18.5 116.5,19.1 116.7,19.5 116.9,20.0 117.1,20.9 117.3,22.5 117.5,24.9 117.7,28.5 117.9,34.5 118.1,42.8 118.3,49.5 118.5,54.0 118.7,56.5 118.9,58.4 119.1,61.3 119.3,66.8 119.5,75.5 119.7,88.7 119.9,107.1 120.1,127.2 120.3,143.6 120.5,154.8 120.7,162.7 120.9,168.3 121.1,174.9 121.3,186.7 121.5,203.1 121.7,222.2 121.9,239.3 122.1,254.3 122.3,266.6 122.5,277.1 122.7,284.3 122.9,288.1 123.1,290.9 123.3,295.0 123.5,302.4 123.7,314.2 123.9,322.9 124.1,324.0 124.3,315.4 124.5,298.8 124.7,285.0 124.9,275.8 125.1,270.5 125.3,264.9 125.5,253.8 125.7,234.0 125.9,205.2 126.1,184.5 126.3,169.6 126.5,159.0 126.7,151.7 126.9,146.8 127.1,144.2 127.3,142.4 127.5,139.7 127.7,134.8 127.9,127.4 128.1,118.1 128.3,108.7 128.5,100.7 128.7,95.0 128.9,91.4 129.1,89.4 129.3,88.4 129.5,87.4 129.7,85.5 129.9,82.2 130.1,77.3 130.3,72.6 130.5,69.2 130.7,66.5 130.9,64.9 131.1,64.2 131.3,63.9 131.5,63.8 131.7,63.8 131.9,64.3 132.1,66.1 132.3,69.8 132.5,75.0 132.7,83.8 132.9,93.1 133.1,99.8 133.3,104.0 133.5,106.4 133.7,109.1 133.9,114.1 134.1,122.5 134.3,134.2 134.5,148.2 134.7,162.8 134.9,174.9 135.1,183.8 135.3,188.8 135.5,191.2 135.7,192.7 135.9,194.9 136.1,198.5 136.3,203.3 136.5,204.9 136.7,200.5 136.9,193.2 137.1,182.2 137.3,173.2 137.5,168.2 137.7,165.4 137.9,162.4 138.1,156.6 138.3,146.7 138.5,134.4 138.7,121.3 138.9,109.7 139.1,101.0 139.3,95.0 139.5,91.6 139.7,89.8 139.9,88.6 140.1,86.9 140.3,84.0 140.5,79.4 140.7,73.8 140.9,68.8 141.1,65.1 141.3,63.1 141.5,63.3 141.7,63.9 141.9,64.4 142.1,65.1 142.3,66.5 142.5,69.4 142.7,75.3 142.9,85.9 143.1,97.7 143.3,109.3 143.5,118.0 143.7,123.3 143.9,126.1 144.1,128.1 144.3,131.3 144.5,137.1 144.7,146.1 144.9,157.1 145.1,168.8 145.3,179.4 145.5,187.8 145.7,193.3 145.9,196.4 146.1,197.9 146.3,195.1 146.5,196.1 146.7,202.3 146.9,212.9 147.1,225.1 147.3,237.2 147.5,247.8 147.7,253.9 147.9,255.1 148.1,253.1 148.3,250.4 148.5,250.1 148.7,254.1 148.9,262.7 149.1,274.1 149.3,285.4 149.5,293.0 149.7,297.0 149.9,297.6 150.1,296.6 150.3,295.2 150.5,294.6 150.7,296.1 150.9,299.8 151.1,304.1 151.3,307.8 151.5,310.0 151.7,310.8 151.9,310.6 152.1,309.6 152.3,308.6 152.5,308.3 152.7,308.9 152.9,310.7 153.1,313.4 153.3,316.0 153.5,317.5 153.7,317.1 153.9,315.7 154.1,314.1 154.3,313.1 154.5,312.9 154.7,313.4 154.9,314.4 155.1,315.5 155.3,315.9 155.5,315.4 155.7,314.0 155.9,312.1 156.1,310.0 156.3,308.6 156.5,308.2 156.7,308.5 156.9,309.4 157.1,310.2 157.3,310.3 157.5,309.4 157.7,307.7 157.9,305.5 158.1,303.3 158.3,301.5 158.5,300.6 158.7,300.6 158.9,301.3 159.1,302.1 159.3,302.6 159.5,302.4 159.7,301.4 159.9,300.0 160.1,298.3 160.3,296.6 160.5,295.3 160.7,294.7 160.9,294.9 161.1,295.7 161.3,296.7 161.5,297.4 161.7,297.6 161.9,297.2 162.1,296.3 162.3,294.9 162.5,293.4 162.7,292.4 162.9,292.0 163.1,292.5 163.3,293.6 163.5,294.9 163.7,295.9 163.9,296.3 164.1,295.9 164.3,294.7 164.5,293.2 164.7,291.9 164.9,291.1 165.1,291.2 165.3,292.0 165.5,293.4 165.7,294.7 165.9,295.6 166.1,295.7 166.3,294.9 166.5,293.6 166.7,292.1 166.9,291.0 167.1,290.6 167.3,291.1 167.5,292.3 167.7,293.6 167.9,294.8 168.1,295.3 168.3,295.1 168.5,294.1 168.7,292.8 168.9,291.6 169.1,290.9 169.3,291.0 169.5,291.7 169.7,292.9 169.9,294.2 170.1,295.0 170.3,295.1 170.5,294.6 170.7,293.6 170.9,292.5 171.1,291.6 171.3,291.3 171.5,291.7 171.7,292.6 171.9,293.7 172.1,294.7 172.3,295.2 172.5,295.2 172.7,294.6 172.9,293.7 173.1,292.8 173.3,292.3 173.5,292.3 173.7,292.8 173.9,293.8 174.1,294.8 174.3,295.6 174.5,295.9 174.7,295.7 174.9,294.9 175.1,294.0 175.3,293.3 175.5,293.0 175.7,293.3 175.9,294.1 176.1,295.1 176.3,296.1 176.5,296.6 176.7,296.6 176.9,296.0 177.1,295.1 177.3,294.2 177.5,293.6 177.7,293.6 177.9,294.2 178.1,295.2 178.3,296.3 178.5,297.2 178.7,297.5 178.9,297.1 179.1,296.2 179.3,295.2 179.5,294.3 179.7,293.9 179.9,294.3 180.1,295.2 180.3,296.5 180.5,297.6 180.7,298.2 180.9,298.2 181.1,297.5 181.3,296.3 181.5,295.2 181.7,294.5 181.9,294.5 182.1,295.3 182.3,296.5 182.5,297.8 182.7,298.7 182.9,299.0 183.1,298.6 183.3,297.6 183.5,296.4 183.7,295.4 183.9,295.1 184.1,295.5 184.3,296.5 184.5,297.8 184.7,298.9 184.9,299.5 185.1,299.4 185.3,298.6 185.5,297.5 185.7,296.5 185.9,295.9 186.1,295.9 186.3,296.6 186.5,297.6 186.7,298.8 186.9,299.5 187.1,299.7 187.3,299.3 187.5,298.5 187.7,297.5 187.9,296.8 188.1,296.5 188.3,296.8 188.5,297.6 188.7,298.6 188.9,299.4 189.1,299.9 189.3,299.8 189.5,299.2 189.7,298.4 189.9,297.6 190.1,297.1 190.3,297.2 190.5,297.7 190.7,298.5 190.9,299.3 191.1,299.9 191.3,300.1 191.5,299.8 191.7,299.1 191.9,298.3 192.1,297.7 192.3,297.5 192.5,297.7 192.7,298.4 192.9,299.2 193.1,300.0 193.3,300.4 193.5,300.3 193.7,299.8 193.9,299.0 194.1,298.2 194.3,297.7 194.5,297.7 194.7,298.2 194.9,299.1 195.1,300.0 195.3,300.6 195.5,300.8 195.7,300.4 195.9,299.7 196.1,298.7 196.3,298.0 196.5,297.7 196.7,298.0 196.9,298.8 197.1,299.8 197.3,300.7 197.5,301.2 197.7,301.1 197.9,300.4 198.1,299.4 198.3,298.4 198.5,297.9 198.7,297.9 198.9,298.5 199.1,299.5 199.3,300.5 199.5,301.3 199.7,301.5 199.9,301.0 200.1,300.1 200.3,299.1 200.5,298.3 200.7,298.0 200.9,298.3 201.1,299.2 201.3,300.2 201.5,301.1 201.7,301.6 201.9,301.4 202.1,300.7 202.3,299.7 202.5,298.8 202.7,298.3 202.9,298.4 203.1,298.9 203.3,299.8 203.5,300.8 203.7,301.4 203.9,301.5 204.1,301.1 204.3,300.3 204.5,299.4 204.7,298.8 204.9,298.6 205.1,298.9 205.3,299.5 205.5,300.3 205.7,301.0 205.9,301.3 206.1,301.2 206.3,300.7 206.5,299.9 206.7,299.2 206.9,298.8 207.1,298.9 207.3,299.3 207.5,300.0 207.7,300.7 207.9,301.2 208.1,301.2 208.3,300.9 208.5,300.3 208.7,299.6 208.9,299.1 209.1,298.9 209.3,299.1 209.5,299.7 209.7,300.4 209.9,301.0 210.1,301.3 210.3,301.2 210.5,300.7 210.7,300.0 210.9,299.3 211.1,298.9 211.3,298.9 211.5,299.3 211.7,300.0 211.9,300.8 212.1,301.3 212.3,301.5 212.5,301.1 212.7,300.4 212.9,299.6 213.1,298.9 213.3,298.7 213.5,299.0 213.7,299.6 213.9,300.5 214.1,301.3 214.3,301.6 214.5,301.5 214.7,300.9 214.9,300.0 215.1,299.1 215.3,298.6 215.5,298.7 215.7,299.2 215.9,300.1 216.1,301.0 216.3,301.6 216.5,301.7 216.7,301.3 216.9,300.5 217.1,299.5 217.3,298.8 217.5,298.6 217.7,298.9 217.9,299.6 218.1,300.6 218.3,301.4 218.5,301.7 218.7,301.6 218.9,300.9 219.1,300.0 219.3,299.2 219.5,298.8 219.7,298.8 219.9,299.3 220.1,300.1 220.3,300.9 220.5,301.5 220.7,301.6 220.9,301.2 221.1,300.5 221.3,299.7 221.5,299.1 221.7,298.9 221.9,299.2 222.1,299.8 222.3,300.5 222.5,301.1 222.7,301.4 222.9,301.3 223.1,300.8 223.3,300.1 223.5,299.5 223.7,299.2 223.9,299.2 224.1,299.6 224.3,300.2 224.5,300.8 224.7,301.2 224.9,301.3 225.1,301.0 225.3,300.5 225.5,299.8 225.7,299.4 225.9,299.2 226.1,299.4 226.3,299.9 226.5,300.5 226.7,301.1 226.9,301.3 227.1,301.2 227.3,300.8 227.5,300.2 227.7,299.6 227.9,299.2 228.1,299.2 228.3,299.6 228.5,300.2 228.7,300.9 228.9,301.4 229.1,301.5 229.3,301.1 229.5,300.5 229.7,299.8 229.9,299.2 230.1,299.0 230.3,299.3 230.5,299.9 230.7,300.6 230.9,301.3 231.1,301.6 231.3,301.5 231.5,301.0 231.7,300.2 231.9,299.4 232.1,299.0 232.3,299.0 232.5,299.5 232.7,300.3 232.9,301.1 233.1,301.6 233.3,301.7 233.5,301.3 233.7,300.6 233.9,299.8 234.1,299.1 234.3,298.9 234.5,299.2 234.7,299.9 234.9,300.7 235.1,301.4 235.3,301.7 235.5,301.6 235.7,301.0 235.9,300.2 236.1,299.5 236.3,299.1 236.5,299.1 236.7,299.6 236.9,300.3 237.1,301.0 237.3,301.5 237.5,301.6 237.7,301.2 237.9,300.6 238.1,299.9 238.3,299.4 238.5,299.2 238.7,299.5 238.9,300.0 239.1,300.7 239.3,301.2 239.5,301.5 239.7,301.3 239.9,300.9 240.1,300.3 240.3,299.8 240.5,299.4 240.7,299.5 240.9,299.8 241.1,300.4 241.3,300.9 241.5,301.3 241.7,301.4 241.9,301.1 242.1,300.6 242.3,300.1 242.5,299.6 242.7,299.5 242.9,299.7 243.1,300.1 243.3,300.7 243.5,301.2 243.7,301.4 243.9,301.3 244.1,300.9 244.3,300.4 244.5,299.8 244.7,299.5 244.9,299.5 245.1,299.8 245.3,300.4 245.5,301.0 245.7,301.5 245.9,301.6 246.1,301.3 246.3,300.7 246.5,300.1 246.7,299.5 246.9,299.3 247.1,299.6 247.3,300.1 247.5,300.8 247.7,301.4 247.9,301.8 248.1,301.7 248.3,301.2 248.5,300.4 248.7,299.7 248.9,299.3 249.1,299.3 249.3,299.8 249.5,300.5 249.7,301.3 249.9,301.8 250.1,301.9 250.3,301.6 250.5,300.9 250.7,300.1 250.9,299.5 251.1,299.3 251.3,299.5 251.5,300.2 251.7,301.0 251.9,301.7 252.1,302.1 252.3,302.0 252.5,301.4 252.7,300.7 252.9,299.9 253.1,299.5 253.3,299.6 253.5,300.0 253.7,300.7 253.9,301.5 254.1,302.0 254.3,302.2 254.5,301.9 254.7,301.3 254.9,300.6 255.1,300.0 255.3,299.9 255.5,300.1 255.7,300.6 255.9,301.3 256.1,302.0 256.3,302.3 256.5,302.3 256.7,302.0 256.9,301.4 257.1,300.9 257.3,300.5 257.5,300.5 257.7,300.9 257.9,301.5 258.1,302.1 258.3,302.6 258.5,302.8 258.7,302.7 258.9,302.3 259.1,301.8 259.3,301.3 259.5,301.2 259.7,301.3 259.9,301.8 260.1,302.4 260.3,303.0 260.5,303.4 260.7,303.5 260.9,303.2 261.1,302.7 261.3,302.2 261.5,301.8 261.7,301.8 261.9,302.2 262.1,302.8 262.3,303.5 262.5,304.1 262.7,304.3 262.9,304.2 263.1,303.7 263.3,303.1 263.5,302.6 263.7,302.4 263.9,302.6 264.1,303.1 264.3,303.9 264.5,304.7 264.7,305.1 264.9,305.2 265.1,304.8 265.3,304.1 265.5,303.4 265.7,303.0 265.9,303.0 266.1,303.4 266.3,304.2 266.5,305.1 266.7,305.7 266.9,306.0 267.1,305.7 267.3,305.1 267.5,304.3 267.7,303.7 267.9,303.5 268.1,303.7 268.3,304.4 268.5,305.3 268.7,306.1 268.9,306.6 269.1,306.6 269.3,306.1 269.5,305.4 269.7,304.6 269.9,304.2 270.1,304.2 270.3,304.7 270.5,305.4 270.7,306.3 270.9,306.9 271.1,307.2 271.3,306.9 271.5,306.4 271.7,305.7 271.9,305.1 272.1,304.9 272.3,305.1 272.5,305.7 272.7,306.5 272.9,307.2 273.1,307.6 273.3,307.6 273.5,307.2 273.7,306.7 273.9,306.1 274.1,305.7 274.3,305.7 274.5,306.1 274.7,306.7 274.9,307.4 275.1,307.9 275.3,308.1 275.5,308.0 275.7,307.5 275.9,307.0 276.1,306.5 276.3,306.3 276.5,306.5 276.7,307.0 276.9,307.6 277.1,308.3 277.3,308.6 277.5,308.7 277.7,308.3 277.9,307.8 278.1,307.3 278.3,306.9 278.5,306.9 278.7,307.2 278.9,307.9 279.1,308.6 279.3,309.1 279.5,309.3 279.7,309.1 279.9,308.6 280.1,308.0 280.3,307.4 280.5,307.2 280.7,307.4 280.9,308.0 281.1,308.8 281.3,309.5 281.5,309.9 281.7,309.9 281.9,309.4 282.1,308.7 282.3,308.0 282.5,307.6 282.7,307.5 282.9,308.0 283.1,308.8 283.3,309.7 283.5,310.3 283.7,310.5 283.9,310.2 284.1,309.5 284.3,308.7 284.5,308.0 284.7,307.8 284.9,308.1 285.1,308.7 285.3,309.6 285.5,310.4 285.7,310.9 285.9,310.8 286.1,310.2 286.3,309.4 286.5,308.7 286.7,308.2 286.9,308.2 287.1,308.7 287.3,309.5 287.5,310.4 287.7,311.0 287.9,311.1 288.1,310.8 288.3,310.1 288.5,309.4 288.7,308.8 288.9,308.6 289.1,308.8 289.3,309.5 289.5,310.2 289.7,310.9 289.9,311.2 290.1,311.1 290.3,310.6 290.5,310.0 290.7,309.3 290.9,309.0 291.1,309.0 291.3,309.4 291.5,310.0 291.7,310.7 291.9,311.1 292.1,311.2 292.3,311.0 292.5,310.4 292.7,309.8 292.9,309.4 293.1,309.2 293.3,309.4 293.5,309.9 293.7,310.5 293.9,311.0 294.1,311.3 294.3,311.2 294.5,310.8 294.7,310.2 294.9,309.6 295.1,309.3 295.3,309.3 295.5,309.6 295.7,310.2 295.9,310.9 296.1,311.3 296.3,311.4 296.5,311.1 296.7,310.5 296.9,309.8 297.1,309.2 297.3,309.0 297.5,309.2 297.7,309.8 297.9,310.5 298.1,311.2 298.3,311.5 298.5,311.3 298.7,310.7 298.9,309.9 299.1,309.2 299.3,308.7 299.5,308.7 299.7,309.2 299.9,310.0 300.1,310.8 300.3,311.3 300.5,311.3 300.7,310.7 300.9,309.7 301.1,308.7 301.3,308.0 301.5,307.8 301.7,308.2 301.9,308.9 302.1,309.6 302.3,310.1 302.5,310.0 302.7,309.4 302.9,308.3 303.1,307.2 303.3,306.3 303.5,305.9 303.7,306.1 303.9,306.6 304.1,307.3 304.3,307.9 304.5,308.0 304.7,307.5 304.9,306.6 305.1,305.4 305.3,304.4 305.5,303.8 305.7,303.7 305.9,304.1 306.1,304.7 306.3,305.2 306.5,305.3 306.7,305.0 306.9,304.2 307.1,303.1 307.3,302.1 307.5,301.4 307.7,301.1 307.9,301.2 308.1,301.7 308.3,302.2 308.5,302.5 308.7,302.4 308.9,301.9 309.1,301.0 309.3,300.0 309.5,299.2 309.7,298.7 309.9,298.6 310.1,298.9 310.3,299.4 310.5,299.8 310.7,299.9 310.9,299.6 311.1,299.0 311.3,298.2 311.5,297.4 311.7,296.7 311.9,296.4 312.1,296.5 312.3,296.9 312.5,297.5 312.7,297.9 312.9,297.9 313.1,297.6 313.3,296.9 313.5,296.1 313.7,295.3 313.9,294.7 314.1,294.6 314.3,294.9 314.5,295.4 314.7,296.0 314.9,296.4 315.1,296.5 315.3,296.2 315.5,295.6 315.7,294.9 315.9,294.1 316.1,293.7 316.3,293.7 316.5,294.2 316.7,294.9 316.9,295.8 317.1,296.4 317.3,296.5 317.5,296.2 317.7,295.6 317.9,294.7 318.1,294.1 318.3,293.8 318.5,294.1 318.7,294.8 318.9,295.7 319.1,296.6 319.3,297.1 319.5,297.4 319.7,297.3 319.9,296.8 320.1,296.2 320.3,295.6 320.5,295.5 320.7,296.0 320.9,296.9 321.1,298.2 321.3,299.5 321.5,300.5 321.7,301.2 321.9,301.4 322.1,301.1 322.3,300.5 322.5,300.1 322.7,300.1 322.9,300.8 323.1,302.1 323.3,303.9 323.5,305.9 323.7,308.1 323.9,309.7 324.1,310.4 324.3,310.3 324.5,309.6 324.7,309.1 324.9,309.3 325.1,310.5 325.3,312.9 325.5,316.4 325.7,319.6 325.9,322.6 326.1,324.1 326.3,324.2 326.5,323.7 326.7,323.2 326.9,323.1 327.1,323.7 327.3,325.0 327.5,325.8 327.7,325.8 327.9,325.3 328.1,323.4 328.3,321.3 328.5,320.2 328.7,320.2 328.9,320.8 329.1,321.4 329.3,321.4 329.5,319.8 329.7,310.4 329.9,294.9 330.1,277.5 330.3,266.0 330.5,260.2 330.7,259.4 330.9,261.8 331.1,264.4 331.3,264.2 331.5,259.3 331.7,248.5 331.9,231.8 332.1,215.0 332.3,202.1 332.5,195.7 332.7,193.4 332.9,193.9 333.1,195.7 333.3,197.0 333.5,195.7 333.7,191.6 333.9,184.3 334.1,173.3 334.3,162.8 334.5,155.0 334.7,150.7 334.9,149.9 335.1,151.3 335.3,153.2 335.5,153.4 335.7,150.6 335.9,144.9 336.1,138.0 336.3,130.9 336.5,124.5 336.7,120.2 336.9,118.3 337.1,118.5 337.3,119.8 337.5,120.8 337.7,120.2 337.9,117.4 338.1,112.6 338.3,106.4 338.5,100.1 338.7,95.7 338.9,93.4 339.1,92.7 339.3,93.2 339.5,94.2 339.7,94.6 339.9,93.9 340.1,92.5 340.3,90.7 340.5,88.9 340.7,87.2 340.9,85.9 341.1,85.0 341.3,84.8 341.5,85.0 341.7,85.5 341.9,85.9 342.1,86.0 342.3,85.6 342.5,84.8 342.7,83.7 342.9,82.5 343.1,81.6 343.3,81.1 343.5,81.1 343.7,81.4 343.9,81.9 344.1,82.2 344.3,82.0 344.5,81.5 344.7,80.6 344.9,79.6 345.1,78.7 345.3,78.1 345.5,77.8 345.7,77.9 345.9,78.3 346.1,78.8 346.3,79.1 346.5,79.3 346.7,79.1 346.9,78.5 347.1,77.8 347.3,77.0 347.5,76.5 347.7,76.4 347.9,76.6 348.1,77.1 348.3,77.7 348.5,78.2 348.7,78.4 348.9,78.1 349.1,77.6 349.3,76.9 349.5,76.2 349.7,75.8 349.9,75.8 350.1,76.2 350.3,77.0 350.5,77.8 350.7,78.5 350.9,79.0 351.1,79.0 351.3,78.6 351.5,77.9 351.7,77.3 351.9,77.0 352.1,77.2 352.3,77.9 352.5,78.9 352.7,80.0 352.9,80.9 353.1,81.5 353.3,81.7 353.5,81.3 353.7,80.7 353.9,80.2 354.1,80.0 354.3,80.4 354.5,81.4 354.7,82.8 354.9,84.5 355.1,86.1 355.3,87.4 355.5,88.2 355.7,88.3 355.9,87.7 356.1,87.1 356.3,87.0 356.5,87.7 356.7,89.5 356.9,92.4 357.1,96.6 357.3,101.4 357.5,106.6 357.7,110.1 357.9,110.8 358.1,109.6 358.3,108.1 358.5,107.9 358.7,110.2 358.9,115.2 359.1,121.9 359.3,129.4 359.5,135.9 359.7,140.2 359.9,142.3 360.1,142.0 360.3,140.5 360.5,139.5 360.7,140.3 360.9,143.8 361.1,150.8 361.3,160.7 361.5,170.6 361.7,178.7 361.9,183.1 362.1,184.0 362.3,182.9 362.5,181.1 362.7,180.8 362.9,183.2 363.1,188.4 363.3,195.1 363.5,202.4 363.7,209.0 363.9,213.6 364.1,215.5 364.3,215.1 364.5,213.7 364.7,212.7 364.9,213.6 365.1,217.0 365.3,222.9 365.5,230.3 365.7,237.3 365.9,243.0 366.1,246.6 366.3,247.4 366.5,246.1 366.7,244.5 366.9,244.2 367.1,246.7 367.3,252.6 367.5,261.1 367.7,269.4 367.9,276.9 368.1,282.7 368.3,285.2 368.5,284.7 368.7,282.9 368.9,281.6 369.1,282.7 369.3,287.1 369.5,293.8 369.7,301.0 369.9,308.8 370.1,313.3 370.3,314.9 370.5,314.8 370.7,314.0 370.9,313.2 371.1,313.3 371.3,315.0 371.5,317.9 371.7,321.1 371.9,323.9 372.1,324.5 372.3,323.6 372.5,322.6 372.7,322.0 372.9,321.9 373.1,322.2 373.3,322.8 373.5,323.4 373.7,323.4 373.9,323.0 374.1,322.1 374.3,320.9 374.5,319.8 374.7,319.0 374.9,318.7 375.1,318.9 375.3,319.4 375.5,319.9 375.7,320.1 375.9,319.8 376.1,319.2 376.3,318.3 376.5,317.5 376.7,316.7 376.9,316.2 377.1,316.1 377.3,316.4 377.5,316.9 377.7,317.3 377.9,317.6 378.1,317.5 378.3,317.1 378.5,316.5 378.7,315.8 378.9,315.2 379.1,314.9 379.3,315.0 379.5,315.3 379.7,315.9 379.9,316.4 380.1,316.7 380.3,316.7 380.5,316.3 380.7,315.6 380.9,314.9 381.1,314.4 381.3,314.2 381.5,314.5 381.7,315.0 381.9,315.7 382.1,316.2 382.3,316.5 382.5,316.2 382.7,315.6 382.9,314.8 383.1,314.1 383.3,313.7 383.5,313.7 383.7,314.2 383.9,314.9 384.1,315.7 384.3,316.1 384.5,316.2 384.7,315.7 384.9,314.9 385.1,314.0 385.3,313.3 385.5,313.1 385.7,313.3 385.9,314.1 386.1,315.0 386.3,315.7 386.5,316.0 386.7,315.8 386.9,315.1 387.1,314.1 387.3,313.2 387.5,312.7 387.7,312.8 387.9,313.3 388.1,314.2 388.3,315.1 388.5,315.6 388.7,315.7 388.9,315.2 389.1,314.4 389.3,313.4 389.5,312.7 389.7,312.5 389.9,312.8 390.1,313.5 390.3,314.4 390.5,315.1 390.7,315.4 390.9,315.1 391.1,314.5 391.3,313.6 391.5,312.9 391.7,312.4 391.9,312.5 392.1,313.0 392.3,313.7 392.5,314.4 392.7,314.9 392.9,314.9 393.1,314.5 393.3,313.7 393.5,313.0 393.7,312.4 393.9,312.3 394.1,312.5 394.3,313.1 394.5,313.8 394.7,314.3 394.9,314.5 395.1,314.3 395.3,313.7 395.5,313.0 395.7,312.3 395.9,311.9 396.1,312.0 396.3,312.4 396.5,313.0 396.7,313.7 396.9,314.1 397.1,314.0 397.3,313.6 397.5,312.9 397.7,312.1 397.9,311.5 398.1,311.3 398.3,311.5 398.5,312.2 398.7,312.9 398.9,313.5 399.1,313.7 399.3,313.4 399.5,312.7 399.7,311.8 399.9,310.9 400.1,310.5 400.3,310.5 400.5,311.0 400.7,311.9 400.9,312.7 401.1,313.1 401.3,313.0 401.5,312.4 401.7,311.4 401.9,310.3 402.1,309.5 402.3,309.3 402.5,309.7 402.7,310.5 402.9,311.4 403.1,312.1 403.3,312.2 403.5,311.8 403.7,310.8 403.9,309.7 404.1,308.7 404.3,308.1 404.5,308.2 404.7,308.9 404.9,309.8 405.1,310.6 405.3,311.0 405.5,310.8 405.7,310.1 405.9,309.0 406.1,307.8 406.3,307.1 406.5,306.9 406.7,307.3 406.9,308.0 407.1,308.9 407.3,309.4 407.5,309.5 407.7,308.9 407.9,308.0 408.1,306.9 408.3,306.0 408.5,305.6 408.7,305.7 408.9,306.2 409.1,307.0 409.3,307.6 409.5,307.8 409.7,307.5 409.9,306.8 410.1,305.8 410.3,304.9 410.5,304.3 410.7,304.2 410.9,304.5 411.1,305.1 411.3,305.7 411.5,306.0 411.7,306.0 411.9,305.4 412.1,304.6 412.3,303.6 412.5,302.9 412.7,302.5 412.9,302.6 413.1,303.1 413.3,303.7 413.5,304.2 413.7,304.3 413.9,304.0 414.1,303.3 414.3,302.4 414.5,301.5 414.7,300.9 414.9,300.7 415.1,301.0 415.3,301.7 415.5,302.3 415.7,302.8 415.9,302.8 416.1,302.3 416.3,301.4 416.5,300.4 416.7,299.5 416.9,299.0 417.1,299.1 417.3,299.6 417.5,300.4 417.7,301.2 417.9,301.5 418.1,301.3 418.3,300.5 418.5,299.4 418.7,298.3 418.9,297.6 419.1,297.3 419.3,297.7 419.5,298.5 419.7,299.4 419.9,300.1 420.1,300.2 420.3,299.8 420.5,298.8 420.7,297.6 420.9,296.6 421.1,296.1 421.3,296.1 421.5,296.8 421.7,297.7 421.9,298.6 422.1,299.1 422.3,298.9 422.5,298.2 422.7,297.1 422.9,296.0 423.1,295.2 423.3,295.0 423.5,295.4 423.7,296.2 423.9,297.1 424.1,297.8 424.3,298.0 424.5,297.6 424.7,296.7 424.9,295.7 425.1,294.8 425.3,294.3 425.5,294.4 425.7,295.0 425.9,295.8 426.1,296.5 426.3,296.9 426.5,296.8 426.7,296.2 426.9,295.3 427.1,294.4 427.3,293.8 427.5,293.6 427.7,293.9 427.9,294.6 428.1,295.3 428.3,295.9 428.5,296.0 428.7,295.8 428.9,295.2 429.1,294.4 429.3,293.7 429.5,293.2 429.7,293.3 429.9,293.7 430.1,294.5 430.3,295.2 430.5,295.7 430.7,295.8 430.9,295.5 431.1,294.8 431.3,294.0 431.5,293.3 431.7,293.1 431.9,293.4 432.1,294.0 432.3,294.9 432.5,295.6 432.7,296.0 432.9,295.8 433.1,295.2 433.3,294.3 433.5,293.5 433.7,293.0 433.9,293.0 434.1,293.5 434.3,294.4 434.5,295.4 434.7,296.1 434.9,296.2 435.1,295.8 435.3,294.9 435.5,293.8 435.7,293.0 435.9,292.7 436.1,293.0 436.3,293.9 436.5,295.0 436.7,296.0 436.9,296.6 437.1,296.5 437.3,295.8 437.5,294.7 437.7,293.7 437.9,293.1 438.1,293.1 438.3,293.7 438.5,294.8 438.7,296.0 438.9,296.8 439.1,297.1 439.3,296.6 439.5,295.7 439.7,294.6 439.9,293.7 440.1,293.4 440.3,293.8 440.5,294.7 440.7,295.8 440.9,296.8 441.1,297.2 441.3,297.1 441.5,296.4 441.7,295.4 441.9,294.5 442.1,293.9 442.3,294.0 442.5,294.6 442.7,295.5 442.9,296.5 443.1,297.2 443.3,297.3 443.5,296.9 443.7,296.1 443.9,295.3 444.1,294.6 444.3,294.4 444.5,294.6 444.7,295.3 444.9,296.2 445.1,297.0 445.3,297.4 445.5,297.3 445.7,296.7 445.9,296.0 446.1,295.2 446.3,294.7 446.5,294.8 446.7,295.2 446.9,296.0 447.1,296.9 447.3,297.5 447.5,297.7 447.7,297.3 447.9,296.6 448.1,295.8 448.3,295.1 448.5,294.9 448.7,295.1 448.9,295.8 449.1,296.8 449.3,297.6 449.5,298.0 449.7,297.9 449.9,297.3 450.1,296.4 450.3,295.5 450.5,295.0 450.7,295.0 450.9,295.5 451.1,296.5 451.3,297.6 451.5,298.3 451.7,298.5 451.9,298.1 452.1,297.2 452.3,296.1 452.5,295.2 452.7,294.9 452.9,295.2 453.1,296.2 453.3,297.4 453.5,298.4 453.7,299.0 453.9,298.8 454.1,298.0 454.3,296.9 454.5,295.8 454.7,295.1 454.9,295.1 455.1,295.8 455.3,297.0 455.5,298.2 455.7,299.1 455.9,299.3 456.1,298.9 456.3,297.8 456.5,296.7 456.7,295.8 456.9,295.4 457.1,295.8 457.3,296.8 457.5,298.0 457.7,299.1 457.9,299.6 458.1,299.5 458.3,298.8 458.5,297.8 458.7,296.8 458.9,296.2 459.1,296.2 459.3,296.9 459.5,297.9 459.7,299.0 459.9,299.7 460.1,300.0 460.3,299.6 460.5,298.8 460.7,297.9 460.9,297.2 461.1,296.9 461.3,297.2 461.5,298.0 461.7,299.0 461.9,299.8 462.1,300.4 462.3,300.4 462.5,299.9 462.7,299.1 462.9,298.3 463.1,297.8 463.3,297.8 463.5,298.3 463.7,299.2 463.9,300.1 464.1,300.8 464.3,301.0 464.5,300.6 464.7,299.7 464.9,298.7 465.1,298.0 465.3,297.7 465.5,298.1 465.7,298.8 465.9,299.7 466.1,300.3 466.3,300.3 466.5,299.7 466.7,298.7 466.9,297.4 467.1,296.4 467.3,295.9 467.5,296.0 467.7,296.6 467.9,297.5 468.1,298.3 468.3,298.5 468.5,298.0 468.7,296.8 468.9,295.2 469.1,293.8 469.3,292.8 469.5,292.6 469.7,293.1 469.9,294.1 470.1,295.0 470.3,295.5 470.5,295.1 470.7,293.8 470.9,292.0 471.1,290.2 471.3,288.8 471.5,288.2 471.7,288.5 471.9,289.3 472.1,290.3 472.3,291.0 472.5,290.8 472.7,289.8 472.9,288.0 473.1,285.9 473.3,284.2 473.5,283.2 473.7,283.1 473.9,283.7 474.1,284.7 474.3,285.4 474.5,285.5 474.7,284.7 474.9,283.0 475.1,280.9 475.3,279.0 475.5,277.6 475.7,277.2 475.9,277.5 476.1,278.3 476.3,279.1 476.5,279.3 476.7,278.7 476.9,277.3 477.1,275.4 477.3,273.4 477.5,271.9 477.7,271.0 477.9,271.1 478.1,271.6 478.3,272.4 478.5,272.8 478.7,272.5 478.9,271.4 479.1,269.7 479.3,267.6 479.5,265.8 479.7,264.6 479.9,264.3 480.1,264.7 480.3,265.4 480.5,265.9 480.7,265.8 480.9,265.0 481.1,263.5 481.3,261.7 481.5,260.0 481.7,258.6 481.9,257.9 482.1,257.8 482.3,258.3 482.5,259.0 482.7,259.5 482.9,259.5 483.1,258.8 483.3,257.6 483.5,256.0 483.7,254.5 483.9,253.4 484.1,252.9 484.3,253.0 484.5,253.8 484.7,254.6 484.9,255.2 485.1,255.2 485.3,254.5 485.5,253.3 485.7,251.7 485.9,250.3 486.1,249.3 486.3,249.1 486.5,249.6 486.7,250.5 486.9,251.5 487.1,252.2 487.3,252.2 487.5,251.4 487.7,250.0 487.9,248.5 488.1,247.2 488.3,246.5 488.5,246.6 488.7,247.4 488.9,248.6 489.1,249.7 489.3,250.2 489.5,250.1 489.7,249.1 489.9,247.7 490.1,246.3 490.3,245.3 490.5,245.0 490.7,245.5 490.9,246.5 491.1,247.7 491.3,248.6 491.5,248.9 491.7,248.5 491.9,247.5 492.1,246.3 492.3,245.1 492.5,244.5 492.7,244.6 492.9,245.3 493.1,246.4 493.3,247.6 493.5,248.4 493.7,248.6 493.9,248.2 494.1,247.3 494.3,246.3 494.5,245.5 494.7,245.2 494.9,245.5 495.1,246.4 495.3,247.5 495.5,248.5 495.7,249.1 495.9,249.1 496.1,248.6 496.3,247.7 496.5,246.9 496.7,246.3 496.9,246.3 497.1,246.9 497.3,247.8 497.5,248.9 497.7,249.9 497.9,250.3 498.1,250.2 498.3,249.6 498.5,248.7 498.7,248.0 498.9,247.7 499.1,247.9 499.3,248.7 499.5,249.9 499.7,251.0 499.9,251.8 500.1,252.0 500.3,251.6 500.5,250.7 500.7,249.8 500.9,249.1 501.1,249.1 501.3,249.7 501.5,250.8 501.7,252.2 501.9,253.3 502.1,253.8 502.3,253.6 502.5,252.7 502.7,251.6 502.9,250.6 503.1,250.2 503.3,250.6 503.5,251.6 503.7,253.0 503.9,254.4 504.1,255.3 504.3,255.4 504.5,254.6 504.7,253.4 504.9,252.1 505.1,251.4 505.3,251.4 505.5,252.2 505.7,253.5 505.9,254.9 506.1,255.9 506.3,255.8 506.5,254.8 506.7,253.2 506.9,251.7 507.1,250.6 507.3,250.3 507.5,250.9 507.7,252.0 507.9,253.2 508.1,254.0 508.3,254.1 508.5,253.3 508.7,251.9 508.9,250.3 509.1,249.0 509.3,248.3 509.5,248.5 509.7,249.3 509.9,250.4 510.1,251.3 510.3,251.5 510.5,251.0 510.7,249.9 510.9,248.5 511.1,247.1 511.3,246.3 511.5,246.1 511.7,246.6 511.9,247.4 512.1,248.3 512.3,248.8 512.5,248.7 512.7,247.7 512.9,246.2 513.1,244.6 513.3,243.4 513.5,243.0 513.7,243.3 513.9,244.0 514.1,244.7 514.3,244.7 514.5,243.4 514.7,240.9 514.9,238.0 515.1,235.3 515.3,233.4 515.5,232.6 515.7,232.7 515.9,233.5 516.1,234.2 516.3,234.2 516.5,233.1 516.7,230.9 516.9,227.8 517.1,224.5 517.3,221.7 517.5,220.1 517.7,219.8 517.9,220.4 518.1,221.4 518.3,221.8 518.5,221.1 518.7,219.1 518.9,216.3 519.1,213.2 519.3,210.4 519.5,208.3 519.7,207.3 519.9,207.3 520.1,208.1 520.3,209.0 520.5,209.5 520.7,209.0 520.9,207.5 521.1,205.0 521.3,202.1 521.5,199.4 521.7,197.7 521.9,197.2 522.1,197.7 522.3,198.7 522.5,199.6 522.7,199.7 522.9,198.6 523.1,196.4 523.3,193.2 523.5,189.9 523.7,187.3 523.9,186.1 524.1,186.3 524.3,187.4 524.5,188.4 524.7,188.5 524.9,187.0 525.1,183.9 525.3,180.4 525.5,177.4 525.7,174.9 525.9,173.3 526.1,172.8 526.3,173.2 526.5,174.2"/>
<polyline fill="none" stroke="#56b4e9" stroke-width="1.4" stroke-linejoin="round" points="87.5,11.7 87.7,11.6 87.9,11.4 88.1,11.3 88.3,11.3 88.5,11.3 88.7,11.4 88.9,11.5 89.1,11.6 89.3,11.7 89.5,11.7 89.7,11.6 89.9,11.5 90.1,11.4 90.3,11.3 90.5,11.3 90.7,11.4 90.9,11.5 91.1,11.6 91.3,11.7 91.5,11.7 91.7,11.6 91.9,11.6 92.1,11.5 92.3,11.4 92.5,11.3 92.7,11.4 92.9,11.4 93.1,11.5 93.3,11.6 93.5,11.7 93.7,11.6 93.9,11.6 94.1,11.5 94.3,11.4 94.5,11.4 94.7,11.4 94.9,11.4 95.1,11.5 95.3,11.6 95.5,11.6 95.7,11.6 95.9,11.6 96.1,11.5 96.3,11.5 96.5,11.4 96.7,11.4 96.9,11.4 97.1,11.4 97.3,11.5 97.5,11.6 97.7,11.6 97.9,11.6 98.1,11.6 98.3,11.5 98.5,11.4 98.7,11.4 98.9,11.4 99.1,11.4 99.3,11.5 99.5,11.6 99.7,11.6 99.9,11.7 100.1,11.6 100.3,11.6 100.5,11.5 100.7,11.4 100.9,11.3 101.1,11.3 101.3,11.4 101.5,11.5 101.7,11.6 101.9,11.7 102.1,11.7 102.3,11.6 102.5,11.5 102.7,11.4 102.9,11.3 103.1,11.3 103.3,11.4 103.5,11.5 103.7,11.6 103.9,11.7 104.1,11.7 104.3,11.7 104.5,11.6 104.7,11.4 104.9,11.3 105.1,11.3 105.3,11.3 105.5,11.4 105.7,11.5 105.9,11.6 106.1,11.7 106.3,11.7 106.5,11.6 106.7,11.5 106.9,11.4 107.1,11.3 107.3,11.3 107.5,11.4 107.7,11.5 107.9,11.6 108.1,11.7 108.3,11.7 108.5,11.6 108.7,11.6 108.9,11.5 109.1,11.4 109.3,11.3 109.5,11.4 109.7,11.4 109.9,11.5 110.1,11.6 110.3,11.7 110.5,11.6 110.7,11.6 110.9,11.5 111.1,11.4 111.3,11.4 111.5,11.4 111.7,11.4 111.9,11.5 112.1,11.6 112.3,11.6 112.5,11.6 112.7,11.6 112.9,11.5 113.1,11.5 113.3,11.4 113.5,11.4 113.7,11.4 113.9,11.4 114.1,11.5 114.3,11.6 114.5,11.6 114.7,11.6 114.9,11.6 115.1,11.5 115.3,11.4 115.5,11.4 115.7,11.4 115.9,11.4 116.1,11.5 116.3,11.6 116.5,11.6 116.7,11.7 116.9,11.6 117.1,11.6 117.3,11.5 117.5,11.4 117.7,11.3 117.9,11.3 118.1,11.4 118.3,11.5 118.5,11.6 118.7,11.7 118.9,11.7 119.1,11.7 119.3,11.7 119.5,11.6 119.7,11.6 119.9,11.6 120.1,11.6 120.3,11.8 120.5,12.1 120.7,12.5 120.9,13.2 121.1,14.0 121.3,14.8 121.5,15.6 121.7,16.2 121.9,16.5 122.1,16.8 122.3,17.5 122.5,18.7 122.7,20.7 122.9,24.0 123.1,28.0 123.3,32.1 123.5,35.8 123.7,38.1 123.9,39.2 124.1,39.9 124.3,40.9 124.5,42.7 124.7,46.5 124.9,55.8 125.1,69.5 125.3,82.8 125.5,88.6 125.7,91.6 125.9,93.1 126.1,93.9 126.3,94.7 126.5,95.8 126.7,97.2 126.9,99.2 127.1,109.0 127.3,140.9 127.5,231.5 127.7,246.9 127.9,257.1 128.1,262.3 128.3,265.4 128.5,269.4 128.7,277.2 128.9,290.9 129.1,316.3 129.3,324.1 129.5,316.0 129.7,300.9 129.9,288.7 130.1,281.8 130.3,278.2 130.5,274.5 130.7,267.3 130.9,254.8 131.1,252.9 131.3,280.6 131.5,302.7 131.7,311.8 131.9,316.9 132.1,319.0 132.3,319.6 132.5,319.8 132.7,319.8 132.9,318.9 133.1,314.5 133.3,304.2 133.5,289.4 133.7,275.3 133.9,265.8 134.1,258.6 134.3,254.2 134.5,251.8 134.7,249.9 134.9,246.7 135.1,241.3 135.3,234.6 135.5,230.4 135.7,235.5 135.9,249.1 136.1,260.0 136.3,265.2 136.5,267.5 136.7,269.1 136.9,271.1 137.1,274.9 137.3,279.9 137.5,281.6 137.7,262.9 137.9,232.6 138.1,210.0 138.3,193.4 138.5,183.5 138.7,178.4 138.9,174.3 139.1,167.6 139.3,156.9 139.5,139.9 139.7,123.1 139.9,120.5 140.1,122.2 140.3,124.4 140.5,129.8 140.7,139.2 142.0,91.8 143.3,194.9 144.6,92.1 145.9,200.9 147.2,97.2 148.5,194.0 149.8,106.1 151.1,187.1 152.4,91.1 153.7,184.2 155.0,85.8 156.3,179.9 157.6,121.0 158.9,221.2 160.2,208.5 161.5,270.5 162.8,255.6 164.1,286.7 165.4,259.2 166.7,282.3 168.0,256.2 169.3,278.5 170.6,258.7 171.9,279.4 173.2,261.8 174.5,278.2 175.8,262.5 177.1,278.3 178.4,265.5 179.7,277.6 181.0,267.7 182.3,279.0 183.6,270.3 184.9,271.7 185.1,272.1 185.3,274.0 185.5,276.7 185.7,279.5 185.9,281.3 186.1,281.6 186.3,280.4 186.5,278.0 186.7,275.4 186.9,273.6 187.1,273.2 187.3,274.5 187.5,276.9 187.7,279.8 187.9,282.1 188.1,283.1 188.3,282.5 188.5,280.6 188.7,278.1 188.9,275.8 189.1,274.7 189.3,275.1 189.5,277.0 189.7,279.7 189.9,282.3 190.1,283.9 190.3,284.1 190.5,282.8 190.7,280.5 190.9,278.1 191.1,276.5 191.3,276.2 191.5,277.3 191.7,279.6 191.9,282.1 192.1,284.1 192.3,284.9 192.5,284.4 192.7,282.7 192.9,280.5 193.1,278.7 193.3,277.8 193.5,278.2 193.7,279.8 193.9,281.9 194.1,283.9 194.3,285.1 194.5,285.2 194.7,284.3 194.9,282.6 195.1,280.9 195.3,279.7 195.5,279.5 195.7,280.3 195.9,281.9 196.1,283.7 196.3,285.1 196.5,285.7 196.7,285.4 196.9,284.2 197.1,282.8 197.3,281.5 197.5,280.9 197.7,281.1 197.9,282.2 198.1,283.7 198.3,285.2 198.5,286.1 198.7,286.3 198.9,285.6 199.1,284.4 199.3,283.0 199.5,282.1 199.7,281.9 199.9,282.5 200.1,283.8 200.3,285.3 200.5,286.6 200.7,287.2 200.9,286.9 201.1,285.9 201.3,284.5 201.5,283.3 201.7,282.7 201.9,282.9 202.1,283.9 202.3,285.4 202.5,286.9 202.7,287.9 202.9,288.0 203.1,287.3 203.3,286.0 203.5,284.6 203.7,283.6 203.9,283.4 204.1,284.0 204.3,285.4 204.5,287.0 204.7,288.3 204.9,288.8 205.1,288.5 205.3,287.3 205.5,285.9 205.7,284.6 205.9,284.0 206.1,284.3 206.3,285.3 206.5,286.8 206.7,288.2 206.9,289.0 207.1,289.0 207.3,288.2 207.5,286.9 207.7,285.6 207.9,284.8 208.1,284.6 208.3,285.2 208.5,286.4 208.7,287.7 208.9,288.7 209.1,289.1 209.3,288.7 209.5,287.7 209.7,286.5 209.9,285.5 210.1,285.0 210.3,285.2 210.5,286.1 210.7,287.2 210.9,288.3 211.1,288.9 211.3,288.8 211.5,288.2 211.7,287.2 211.9,286.2 212.1,285.6 212.3,285.5 212.5,285.9 212.7,286.8 212.9,287.8 213.1,288.5 213.3,288.7 213.5,288.4 213.7,287.7 213.9,286.8 214.1,286.1 214.3,285.7 214.5,285.9 214.7,286.5 214.9,287.4 215.1,288.2 215.3,288.6 215.5,288.6 215.7,288.1 215.9,287.4 216.1,286.6 216.3,286.0 216.5,285.9 216.7,286.3 216.9,287.0 217.1,287.9 217.3,288.6 217.5,288.8 217.7,288.6 217.9,287.9 218.1,287.0 218.3,286.3 218.5,285.9 218.7,286.0 218.9,286.7 219.1,287.6 219.3,288.5 219.5,289.0 219.7,289.0 219.9,288.5 220.1,287.6 220.3,286.7 220.5,286.0 220.7,285.9 220.9,286.3 221.1,287.2 221.3,288.3 221.5,289.1 221.7,289.4 221.9,289.2 222.1,288.4 222.3,287.3 222.5,286.4 222.7,285.9 222.9,286.1 223.1,286.9 223.3,288.0 223.5,289.0 223.7,289.6 223.9,289.7 224.1,289.1 224.3,288.1 224.5,287.1 224.7,286.4 224.9,286.2 225.1,286.7 225.3,287.7 225.5,288.7 225.7,289.6 225.9,289.9 226.1,289.6 226.3,288.8 226.5,287.8 226.7,287.0 226.9,286.6 227.1,286.8 227.3,287.5 227.5,288.4 227.7,289.3 227.9,289.8 228.1,289.8 228.3,289.3 228.5,288.4 228.7,287.6 228.9,287.1 229.1,287.0 229.3,287.4 229.5,288.1 229.7,288.9 229.9,289.5 230.1,289.7 230.3,289.4 230.5,288.8 230.7,288.1 230.9,287.5 231.1,287.2 231.3,287.3 231.5,287.8 231.7,288.5 231.9,289.2 232.1,289.6 232.3,289.5 232.5,289.1 232.7,288.4 232.9,287.8 233.1,287.3 233.3,287.2 233.5,287.5 233.7,288.2 233.9,288.9 234.1,289.4 234.3,289.6 234.5,289.4 234.7,288.8 234.9,288.0 235.1,287.4 235.3,287.1 235.5,287.2 235.7,287.7 235.9,288.5 236.1,289.2 236.3,289.7 236.5,289.7 236.7,289.2 236.9,288.4 237.1,287.6 237.3,287.0 237.5,286.9 237.7,287.3 237.9,288.0 238.1,288.9 238.3,289.6 238.5,289.9 238.7,289.6 238.9,288.8 239.1,287.9 239.3,287.1 239.5,286.7 239.7,286.9 239.9,287.6 240.1,288.5 240.3,289.3 240.5,289.8 240.7,289.8 240.9,289.2 241.1,288.3 241.3,287.4 241.5,286.8 241.7,286.7 241.9,287.1 242.1,288.0 242.3,288.9 242.5,289.6 242.7,289.8 242.9,289.5 243.1,288.7 243.3,287.8 243.5,287.1 243.7,286.7 243.9,286.9 244.1,287.5 244.3,288.4 244.5,289.1 244.7,289.5 244.9,289.5 245.1,289.0 245.3,288.2 245.5,287.4 245.7,286.9 245.9,286.9 246.1,287.2 246.3,287.9 246.5,288.6 246.7,289.2 246.9,289.3 247.1,289.1 247.3,288.5 247.5,287.8 247.7,287.2 247.9,286.9 248.1,287.1 248.3,287.5 248.5,288.2 248.7,288.8 248.9,289.1 249.1,289.1 249.3,288.7 249.5,288.1 249.7,287.4 249.9,287.0 250.1,286.9 250.3,287.2 250.5,287.8 250.7,288.4 250.9,289.0 251.1,289.1 251.3,288.9 251.5,288.3 251.7,287.6 251.9,287.0 252.1,286.7 252.3,286.8 252.5,287.3 252.7,288.1 252.9,288.8 253.1,289.2 253.3,289.1 253.5,288.7 253.7,287.9 253.9,287.1 254.1,286.6 254.3,286.5 254.5,286.8 254.7,287.6 254.9,288.4 255.1,289.1 255.3,289.3 255.5,289.0 255.7,288.3 255.9,287.4 256.1,286.6 256.3,286.2 256.5,286.4 256.7,287.0 256.9,287.9 257.1,288.8 257.3,289.3 257.5,289.2 257.7,288.7 257.9,287.8 258.1,286.8 258.3,286.2 258.5,286.1 258.7,286.6 258.9,287.4 259.1,288.3 259.3,289.0 259.5,289.2 259.7,288.9 259.9,288.1 260.1,287.2 260.3,286.4 260.5,286.1 260.7,286.3 260.9,286.9 261.1,287.7 261.3,288.5 261.5,288.9 261.7,288.8 261.9,288.3 262.1,287.5 262.3,286.7 262.5,286.2 262.7,286.2 262.9,286.5 263.1,287.2 263.3,287.9 263.5,288.5 263.7,288.6 263.9,288.3 264.1,287.7 264.3,287.0 264.5,286.4 264.7,286.1 264.9,286.3 265.1,286.8 265.3,287.4 265.5,288.0 265.7,288.3 265.9,288.3 266.1,287.8 266.3,287.2 266.5,286.5 266.7,286.1 266.9,286.0 267.1,286.3 267.3,286.9 267.5,287.6 267.7,288.0 267.9,288.2 268.1,287.9 268.3,287.3 268.5,286.6 268.7,286.0 268.9,285.7 269.1,285.8 269.3,286.3 269.5,287.0 269.7,287.7 269.9,288.1 270.1,288.0 270.3,287.5 270.5,286.7 270.7,285.9 270.9,285.4 271.1,285.3 271.3,285.7 271.5,286.4 271.7,287.2 271.9,287.8 272.1,287.9 272.3,287.6 272.5,286.8 272.7,285.8 272.9,285.0 273.1,284.7 273.3,284.9 273.5,285.5 273.7,286.4 273.9,287.2 274.1,287.6 274.3,287.4 274.5,286.7 274.7,285.8 274.9,284.8 275.1,284.2 275.3,284.1 275.5,284.6 275.7,285.4 275.9,286.3 276.1,286.9 276.3,287.0 276.5,286.5 276.7,285.7 276.9,284.7 277.1,283.9 277.3,283.6 277.5,283.8 277.7,284.4 277.9,285.3 278.1,285.9 278.3,286.2 278.5,286.0 278.7,285.4 278.9,284.5 279.1,283.7 279.3,283.2 279.5,283.1 279.7,283.5 279.9,284.2 280.1,284.9 280.3,285.3 280.5,285.3 280.7,284.9 280.9,284.1 281.1,283.3 281.3,282.7 281.5,282.5 281.7,282.7 281.9,283.1 282.1,283.8 282.3,284.3 282.5,284.5 282.7,284.2 282.9,283.7 283.1,283.0 283.3,282.3 283.5,281.8 283.7,281.8 283.9,282.1 284.1,282.7 284.3,283.3 284.5,283.6 284.7,283.6 284.9,283.2 285.1,282.5 285.3,281.7 285.5,281.1 285.7,280.8 285.9,281.0 286.1,281.5 286.3,282.1 286.5,282.7 286.7,282.9 286.9,282.7 287.1,282.1 287.3,281.2 287.5,280.3 287.7,279.8 287.9,279.8 288.1,280.1 288.3,280.8 288.5,281.6 288.7,282.0 288.9,282.0 289.1,281.5 289.3,280.6 289.5,279.6 289.7,278.8 289.9,278.5 290.1,278.7 290.3,279.3 290.5,280.1 290.7,280.8 290.9,281.1 291.1,280.9 291.3,280.1 291.5,279.1 291.7,278.1 291.9,277.5 292.1,277.5 292.3,277.9 292.5,278.7 292.7,279.6 292.9,280.1 293.1,280.2 293.3,279.7 293.5,278.8 293.7,277.9 293.9,277.1 294.1,276.7 294.3,276.9 294.5,277.6 294.7,278.4 294.9,279.1 295.1,279.5 295.3,279.3 295.5,278.8 295.7,277.9 295.9,277.1 296.1,276.6 296.3,276.5 296.5,276.9 296.7,277.6 296.9,278.3 297.1,278.9 297.3,279.1 297.5,278.9 297.7,278.4 297.9,277.8 298.1,277.2 298.3,276.9 298.5,277.0 298.7,277.5 298.9,278.2 299.1,279.0 299.3,279.5 299.5,279.7 299.7,279.5 299.9,279.1 300.1,278.5 300.3,278.1 300.5,277.9 300.7,278.2 300.9,278.8 301.1,279.7 301.3,280.5 301.5,281.2 301.7,281.5 301.9,281.3 302.1,280.8 302.3,280.3 302.5,279.9 302.7,279.9 302.9,280.4 303.1,281.3 303.3,282.4 303.5,283.4 303.7,284.1 303.9,284.2 304.1,283.9 304.3,283.3 304.5,282.8 304.7,282.5 304.9,282.8 305.1,283.6 305.3,284.8 305.5,286.1 305.7,287.1 305.9,287.5 306.1,287.3 306.3,286.6 306.5,285.9 306.7,285.4 306.9,285.5 307.1,286.1 307.3,287.2 307.5,288.5 307.7,289.6 307.9,290.2 308.1,290.1 308.3,289.5 308.5,288.7 308.7,288.0 308.9,287.8 309.1,288.2 309.3,289.1 309.5,290.4 309.7,291.5 309.9,292.1 310.1,292.1 310.3,291.4 310.5,290.6 310.7,289.8 310.9,289.3 311.1,289.5 311.3,290.2 311.5,291.1 311.7,292.1 311.9,292.8 312.1,292.9 312.3,292.5 312.5,291.7 312.7,290.9 312.9,290.3 313.1,290.2 313.3,290.6 313.5,291.4 313.7,292.2 313.9,292.9 314.1,293.2 314.3,292.9 314.5,292.3 314.7,291.6 314.9,290.9 315.1,290.6 315.3,290.7 315.5,291.3 315.7,292.0 315.9,292.7 316.1,293.1 316.3,293.1 316.5,292.7 316.7,292.0 316.9,291.4 317.1,290.9 317.3,290.8 317.5,291.1 317.7,291.8 317.9,292.5 318.1,293.0 318.3,293.2 318.5,293.0 318.7,292.3 318.9,291.6 319.1,290.9 319.3,290.6 319.5,290.8 319.7,291.3 319.9,292.0 320.1,292.7 320.3,293.1 320.5,293.0 320.7,292.5 320.9,291.6 321.1,290.8 321.3,290.2 321.5,290.1 321.7,290.5 321.9,291.3 322.1,292.2 322.3,292.8 322.5,293.0 322.7,292.7 322.9,291.9 323.1,290.9 323.3,290.1 323.5,289.7 323.7,289.9 323.9,290.6 324.1,291.5 324.3,292.4 324.5,292.9 324.7,292.8 324.9,292.2 325.1,291.2 325.3,290.1 325.5,289.5 325.7,289.4 325.9,289.8 326.1,290.7 326.3,291.7 326.5,292.4 326.7,292.5 326.9,291.8 327.1,290.7 327.3,289.5 327.5,288.6 327.7,288.3 327.9,288.6 328.1,289.3 328.3,290.1 328.5,290.7 328.7,290.8 328.9,290.1 329.1,288.8 329.3,287.4 329.5,286.3 329.7,285.7 329.9,285.8 330.1,286.4 330.3,287.0 330.5,287.5 330.7,287.3 330.9,286.6 331.1,285.3 331.3,283.7 331.5,282.4 331.7,281.6 331.9,281.5 332.1,281.9 332.3,282.4 332.5,282.8 332.7,282.8 332.9,282.0 333.1,280.7 333.3,279.0 333.5,277.5 333.7,276.4 333.9,276.0 334.1,276.2 334.3,276.7 334.5,277.1 334.7,277.2 334.9,276.7 335.1,275.5 335.3,274.0 335.5,272.4 335.7,271.1 335.9,270.3 336.1,270.2 336.3,270.5 336.5,271.1 336.7,271.5 336.9,271.3 337.1,270.5 337.3,269.1 337.5,267.5 337.7,265.9 337.9,264.7 338.1,264.2 338.3,264.4 338.5,264.9 338.7,265.5 338.9,265.8 339.1,265.4 339.3,264.3 339.5,262.7 339.7,260.9 339.9,259.4 340.1,258.5 340.3,258.3 340.5,258.7 340.7,259.4 340.9,259.9 341.1,260.0 341.3,259.3 341.5,257.9 341.7,256.1 341.9,254.3 342.1,253.0 342.3,252.4 342.5,252.5 342.7,253.2 342.9,253.9 343.1,254.3 343.3,254.0 343.5,253.0 343.7,251.5 343.9,249.8 344.1,248.4 344.3,247.5 344.5,247.2 344.7,247.6 344.9,248.3 345.1,249.0 345.3,249.2 345.5,248.8 345.7,247.9 345.9,246.7 346.1,245.6 346.3,244.7 346.5,244.1 346.7,244.0 346.9,244.5 347.1,245.3 347.3,246.1 347.5,246.7 347.7,246.9 347.9,246.6 348.1,246.0 348.3,245.2 348.5,244.5 348.7,244.2 348.9,244.3 349.1,244.9 349.3,245.7 349.5,246.6 349.7,247.6 349.9,248.4 350.1,248.8 350.3,248.5 350.5,248.0 350.7,247.5 350.9,247.3 351.1,247.5 351.3,248.3 351.5,249.4 351.7,250.6 351.9,251.6 352.1,252.3 352.3,252.4 352.5,252.1 352.7,251.6 352.9,251.1 353.1,251.1 353.3,251.6 353.5,252.6 353.7,253.9 353.9,255.3 354.1,256.3 354.3,256.7 354.5,256.5 354.7,255.9 354.9,255.3 355.1,255.0 355.3,255.3 355.5,256.2 355.7,257.5 355.9,258.9 356.1,260.1 356.3,261.1 356.5,261.7 356.7,261.6 356.9,259.4 357.1,266.7 358.4,259.1 359.7,289.2 361.0,267.6 362.3,301.8 363.6,270.0 364.9,300.5 366.2,270.4 367.5,280.6 368.8,263.4 369.0,259.8 369.2,256.3 369.4,254.2 369.6,254.1 369.8,255.0 370.0,256.0 370.2,255.9 370.4,253.9 370.6,249.0 370.8,240.1 371.0,228.8 371.2,218.4 371.4,212.9 371.6,211.4 371.8,212.5 372.0,214.6 372.2,215.3 372.4,212.9 372.6,207.3 372.8,199.8 373.0,192.0 373.2,185.8 373.4,182.2 373.6,180.3 373.8,180.0 374.0,180.7 374.2,181.6 374.4,181.8 374.6,180.7 374.8,177.9 375.0,173.1 375.2,167.5 375.4,162.8 375.6,159.7 375.8,158.5 376.0,158.8 376.2,159.9 376.4,160.6 376.6,160.0 376.8,157.6 377.0,153.7 377.2,149.1 377.4,144.6 377.6,141.7 377.8,140.1 378.0,139.6 378.2,140.1 378.4,140.9 378.6,141.2 378.8,140.8 379.0,139.6 379.2,137.9 379.4,136.0 379.6,134.3 379.8,132.9 380.0,132.1 380.2,132.0 380.4,132.4 380.6,133.0 380.8,133.4 381.0,133.4 381.2,132.9 381.4,131.9 381.6,130.7 381.8,129.5 382.0,128.6 382.2,128.2 382.4,128.3 382.6,128.7 382.8,129.3 383.0,129.5 383.2,129.4 383.4,128.8 383.6,128.0 383.8,127.1 384.0,126.2 384.2,125.6 384.4,125.5 384.6,125.7 384.8,126.1 385.0,126.6 385.2,126.9 385.4,126.8 385.6,126.4 385.8,125.7 386.0,124.9 386.2,124.2 386.4,123.8 386.6,123.8 386.8,124.1 387.0,124.6 387.2,125.1 387.4,125.3 387.6,125.2 387.8,124.7 388.0,123.9 388.2,123.1 388.4,122.5 388.6,122.3 388.8,122.4 389.0,122.9 389.2,123.5 389.4,124.1 389.6,124.2 389.8,124.0 390.0,123.4 390.2,122.6 390.4,121.8 390.6,121.3 390.8,121.2 391.0,121.6 391.2,122.3 391.4,123.0 391.6,123.5 391.8,123.6 392.0,123.2 392.2,122.5 392.4,121.5 392.6,120.8 392.8,120.4 393.0,120.6 393.2,121.2 393.4,122.1 393.6,122.8 393.8,123.2 394.0,123.1 394.2,122.5 394.4,121.6 394.6,120.7 394.8,120.1 395.0,120.1 395.2,120.5 395.4,121.2 395.6,122.1 395.8,122.6 396.0,122.8 396.2,122.4 396.4,121.7 396.6,120.9 396.8,120.2 397.0,119.9 397.2,120.0 397.4,120.6 397.6,121.3 397.8,122.0 398.0,122.4 398.2,122.3 398.4,121.8 398.6,121.1 398.8,120.4 399.0,119.9 399.2,119.9 399.4,120.2 399.6,120.8 399.8,121.5 400.0,122.0 400.2,122.1 400.4,121.9 400.6,121.4 400.8,120.7 401.0,120.2 401.2,119.9 401.4,120.1 401.6,120.5 401.8,121.1 402.0,121.7 402.2,122.0 402.4,122.0 402.6,121.6 402.8,121.0 403.0,120.4 403.2,120.0 403.4,120.0 403.6,120.2 403.8,120.8 404.0,121.4 404.2,121.9 404.4,122.1 404.6,121.9 404.8,121.4 405.0,120.7 405.2,120.1 405.4,119.8 405.6,119.9 405.8,120.4 406.0,121.1 406.2,121.8 406.4,122.3 406.6,122.3 406.8,121.9 407.0,121.2 407.2,120.5 407.4,119.9 407.6,119.8 407.8,120.2 408.0,120.9 408.2,121.7 408.4,122.4 408.6,122.7 408.8,122.5 409.0,121.9 409.2,121.1 409.4,120.4 409.6,120.0 409.8,120.1 410.0,120.7 410.2,121.6 410.4,122.5 410.6,123.0 410.8,123.1 411.0,122.7 411.2,122.0 411.4,121.2 411.6,120.6 411.8,120.5 412.0,120.9 412.2,121.7 412.4,122.6 412.6,123.4 412.8,123.8 413.0,123.8 413.2,123.3 413.4,122.6 413.6,121.9 413.8,121.5 414.0,121.7 414.2,122.2 414.4,123.1 414.6,124.0 414.8,124.7 415.0,125.1 415.2,125.1 415.4,124.8 415.6,124.2 415.8,123.7 416.0,123.5 416.2,123.8 416.4,124.5 416.6,125.4 416.8,126.4 417.0,127.2 417.2,127.5 417.4,127.5 417.6,127.1 417.8,126.6 418.0,126.3 418.2,126.3 418.4,126.7 418.6,127.5 418.8,128.5 419.0,129.5 419.2,130.3 419.4,130.7 419.6,130.7 419.8,130.4 420.0,130.0 420.2,129.7 420.4,129.8 420.6,130.5 420.8,131.7 421.0,133.1 421.2,134.7 421.4,135.9 421.6,136.6 421.8,136.6 422.0,136.2 422.2,135.7 422.4,135.5 422.6,136.0 422.8,137.1 423.0,138.9 423.2,141.0 423.4,142.9 423.6,144.3 423.8,144.8 424.0,144.6 424.2,143.9 424.4,143.4 424.6,143.5 424.8,144.5 425.0,146.3 425.2,148.6 425.4,151.0 425.6,153.1 425.8,154.4 426.0,154.7 426.2,154.2 426.4,153.5 426.6,153.1 426.8,153.7 427.0,155.3 427.2,157.9 427.4,161.1 427.6,164.3 427.8,166.9 428.0,168.3 428.2,168.4 428.4,167.6 428.6,166.8 428.8,166.8 429.0,168.0 429.2,170.7 429.4,174.6 429.6,179.5 429.8,184.7 430.0,190.0 430.2,193.3 430.4,193.5 430.6,191.8 430.8,190.1 431.0,190.5 431.2,194.2 431.4,201.2 431.6,210.6 431.8,220.5 432.0,228.3 432.2,233.0 432.4,234.5 432.6,233.6 432.8,232.0 433.0,231.2 433.2,232.9 433.4,237.5 433.6,244.0 433.8,250.8 434.0,256.4 434.2,260.0 434.4,261.5 434.6,261.4 434.8,260.5 435.0,259.7 435.2,260.0 435.4,262.1 435.6,265.9 435.8,270.6 436.0,275.2 436.2,278.8 436.4,281.0 436.6,281.7 436.8,281.1 437.0,280.1 437.2,279.8 437.4,280.9 437.6,283.8 437.8,288.5 438.0,294.0 438.2,299.4 438.4,303.5 438.6,305.4 438.8,305.3 439.0,304.2 439.2,303.3 439.4,303.6 439.6,306.0 439.8,310.0 440.0,314.9 440.2,318.5 440.4,320.4 440.6,321.0 440.8,320.6 441.0,320.0 441.2,319.6 441.4,319.7 441.6,320.7 441.8,322.3 442.0,323.7 442.2,324.5 442.4,324.2 442.6,322.8 442.8,321.3 443.0,320.3 443.2,320.0 443.4,320.4 443.6,321.1 443.8,321.8 444.0,322.0 444.2,321.7 444.4,321.0 444.6,319.8 444.8,318.4 445.0,317.1 445.2,316.4 445.4,316.3 445.6,316.9 445.8,317.9 446.0,318.8 446.2,319.3 446.4,319.1 446.6,318.3 446.8,317.1 447.0,315.8 447.2,314.8 447.4,314.4 447.6,314.7 447.8,315.5 448.0,316.4 448.2,317.2 448.4,317.4 448.6,317.0 448.8,316.1 449.0,314.9 449.2,313.8 449.4,313.2 449.6,313.2 449.8,313.7 450.0,314.5 450.2,315.3 450.4,315.8 450.6,315.7 450.8,315.1 451.0,314.1 451.2,313.1 451.4,312.3 451.6,312.0 451.8,312.2 452.0,312.9 452.2,313.6 452.4,314.2 452.6,314.5 452.8,314.2 453.0,313.5 453.2,312.7 453.4,311.8 453.6,311.3 453.8,311.2 454.0,311.6 454.2,312.3 454.4,313.1 454.6,313.6 454.8,313.7 455.0,313.3 455.2,312.5 455.4,311.6 455.6,310.8 455.8,310.5 456.0,310.6 456.2,311.3 456.4,312.1 456.6,313.0 456.8,313.4 457.0,313.3 457.2,312.6 457.4,311.6 457.6,310.6 457.8,309.9 458.0,309.8 458.2,310.2 458.4,311.2 458.6,312.2 458.8,313.0 459.0,313.2 459.2,312.8 459.4,311.8 459.6,310.6 459.8,309.6 460.0,309.1 460.2,309.3 460.4,310.2 460.6,311.3 460.8,312.4 461.0,313.0 461.2,312.8 461.4,312.1 461.6,310.9 461.8,309.6 462.0,308.8 462.2,308.7 462.4,309.3 462.6,310.4 462.8,311.5 463.0,312.4 463.2,312.6 463.4,312.1 463.6,311.0 463.8,309.8 464.0,308.8 464.2,308.3 464.4,308.6 464.6,309.4 464.8,310.5 465.0,311.4 465.2,311.9 465.4,311.6 465.6,310.8 465.8,309.6 466.0,308.5 466.2,307.8 466.4,307.8 466.6,308.3 466.8,309.2 467.0,310.1 467.2,310.6 467.4,310.6 467.6,310.0 467.8,309.0 468.0,307.9 468.2,307.1 468.4,306.8 468.6,307.0 468.8,307.7 469.0,308.5 469.2,309.1 469.4,309.3 469.6,309.0 469.8,308.3 470.0,307.3 470.2,306.4 470.4,305.8 470.6,305.8 470.8,306.2 471.0,307.0 471.2,307.7 471.4,308.2 471.6,308.2 471.8,307.7 472.0,306.8 472.2,305.8 472.4,305.0 472.6,304.6 472.8,304.8 473.0,305.5 473.2,306.3 473.4,307.1 473.6,307.4 473.8,307.1 474.0,306.3 474.2,305.2 474.4,304.2 474.6,303.4 474.8,303.3 475.0,303.9 475.2,304.8 475.4,305.8 475.6,306.5 475.8,306.5 476.0,305.9 476.2,304.8 476.4,303.6 476.6,302.5 476.8,302.0 477.0,302.3 477.2,303.1 477.4,304.3 477.6,305.3 477.8,305.7 478.0,305.4 478.2,304.5 478.4,303.1 478.6,301.9 478.8,301.0 479.0,300.9 479.2,301.5 479.4,302.6 479.6,303.8 479.8,304.5 480.0,304.6 480.2,304.0 480.4,302.8 480.6,301.4 480.8,300.4 481.0,299.9 481.2,300.2 481.4,301.1 481.6,302.2 481.8,303.1 482.0,303.5 482.2,303.2 482.4,302.3 482.6,301.0 482.8,299.9 483.0,299.2 483.2,299.1 483.4,299.7 483.6,300.6 483.8,301.5 484.0,302.1 484.2,302.1 484.4,301.5 484.6,300.5 484.8,299.4 485.0,298.6 485.2,298.3 485.4,298.5 485.6,299.2 485.8,300.0 486.0,300.7 486.2,301.0 486.4,300.7 486.6,300.0 486.8,299.0 487.0,298.0 487.2,297.4 487.4,297.4 487.6,297.8 487.8,298.6 488.0,299.4 488.2,299.9 488.4,299.9 488.6,299.4 488.8,298.4 489.0,297.4 489.2,296.6 489.4,296.2 489.6,296.4 489.8,297.1 490.0,298.0 490.2,298.7 490.4,299.0 490.6,298.8 490.8,297.9 491.0,296.8 491.2,295.6 491.4,294.9 491.6,294.8 491.8,295.4 492.0,296.3 492.2,297.3 492.4,298.0 492.6,298.0 492.8,297.4 493.0,296.2 493.2,294.9 493.4,293.8 493.6,293.3 493.8,293.6 494.0,294.4 494.2,295.6 494.4,296.6 494.6,297.0 494.8,296.7 495.0,295.7 495.2,294.2 495.4,292.9 495.6,292.0 495.8,291.9 496.0,292.6 496.2,293.7 496.4,294.9 496.6,295.6 496.8,295.7 497.0,294.9 497.2,293.6 497.4,292.2 497.6,291.1 497.8,290.6 498.0,290.9 498.2,291.8 498.4,293.0 498.6,293.9 498.8,294.3 499.0,293.9 499.2,292.9 499.4,291.6 499.6,290.3 499.8,289.6 500.0,289.5 500.2,290.1 500.4,291.1 500.6,292.1 500.8,292.7 501.0,292.7 501.2,292.0 501.4,290.9 501.6,289.7 501.8,288.8 502.0,288.4 502.2,288.7 502.4,289.4 502.6,290.3 502.8,291.1 503.0,291.3 503.2,291.0 503.4,290.2 503.6,289.1 503.8,288.0 504.0,287.4 504.2,287.3 504.4,287.8 504.6,288.7 504.8,289.5 505.0,290.0 505.2,290.0 505.4,289.4 505.6,288.3 505.8,287.2 506.0,286.3 506.2,285.9 506.4,286.1 506.6,286.9 506.8,287.8 507.0,288.6 507.2,288.9 507.4,288.5 507.6,287.6 507.8,286.4 508.0,285.1 508.2,284.4 508.4,284.3 508.6,284.8 508.8,285.9 509.0,286.9 509.2,287.6 509.4,287.6 509.6,286.8 509.8,285.5 510.0,284.0 510.2,282.9 510.4,282.4 510.6,282.7 510.8,283.6 511.0,284.8 511.2,285.9 511.4,286.2 511.6,285.8 511.8,284.5 512.0,282.9 512.2,281.4 512.4,280.5 512.6,280.4 512.8,281.1 513.0,282.3 513.2,283.6 513.4,284.3 513.6,284.2 513.8,283.3 514.0,281.8 514.2,280.2 514.4,278.9 514.6,278.4 514.8,278.8 515.0,279.8 515.2,281.0 515.4,282.0 515.6,282.2 515.8,281.7 516.0,280.5 516.2,278.9 516.4,277.5 516.6,276.7 516.8,276.7 517.0,277.3 517.2,278.4 517.4,279.4 517.6,279.9 517.8,279.7 518.0,278.8 518.2,277.5 518.4,276.1 518.6,275.1 518.8,274.7 519.0,275.0 519.2,275.8 519.4,276.8 519.6,277.4 519.8,277.5 520.0,276.9 520.2,275.8 520.4,274.5 520.6,273.3 520.8,272.6 521.0,272.6 521.2,273.2 521.4,274.0 521.6,274.8 521.8,275.2 522.0,274.9 522.2,274.0 522.4,272.7 522.6,271.4 522.8,270.4 523.0,270.0 523.2,270.3 523.4,271.1 523.6,272.0 523.8,272.7 524.0,272.8 524.2,272.1 524.4,270.9 524.6,269.4 524.8,268.1 525.0,267.3 525.2,267.2 525.4,267.8 525.6,268.9 525.8,269.9 526.0,270.4 526.2,270.2 526.4,269.1"/>
<polyline fill="none" stroke="#e69f00" stroke-width="1.4" stroke-linejoin="round" points="87.5,11.6 87.7,11.7 87.9,11.7 88.1,11.7 88.3,11.6 88.5,11.5 88.7,11.3 88.9,11.3 89.1,11.3 89.3,11.4 89.5,11.5 89.7,11.6 89.9,11.7 90.1,11.7 90.3,11.7 90.5,11.5 90.7,11.4 90.9,11.3 91.1,11.2 91.3,11.3 91.5,11.4 91.7,11.6 91.9,11.7 92.1,11.8 92.3,11.7 92.5,11.6 92.7,11.5 92.9,11.3 93.1,11.2 93.3,11.2 93.5,11.3 93.7,11.5 93.9,11.7 94.1,11.8 94.3,11.8 94.5,11.7 94.7,11.5 94.9,11.4 95.1,11.2 95.3,11.2 95.5,11.3 95.7,11.4 95.9,11.6 96.1,11.7 96.3,11.8 96.5,11.8 96.7,11.6 96.9,11.5 97.1,11.3 97.3,11.2 97.5,11.2 97.7,11.3 97.9,11.5 98.1,11.7 98.3,11.8 98.5,11.8 98.7,11.7 98.9,11.5 99.1,11.4 99.3,11.3 99.5,11.2 99.7,11.3 99.9,11.4 100.1,11.6 100.3,11.7 100.5,11.7 100.7,11.7 100.9,11.6 101.1,11.5 101.3,11.3 101.5,11.3 101.7,11.3 101.9,11.4 102.1,11.5 102.3,11.6 102.5,11.7 102.7,11.7 102.9,11.6 103.1,11.5 103.3,11.4 103.5,11.3 103.7,11.3 103.9,11.3 104.1,11.4 104.3,11.6 104.5,11.7 104.7,11.7 104.9,11.7 105.1,11.6 105.3,11.5 105.5,11.3 105.7,11.3 105.9,11.3 106.1,11.4 106.3,11.5 106.5,11.6 106.7,11.7 106.9,11.7 107.1,11.7 107.3,11.5 107.5,11.4 107.7,11.3 107.9,11.3 108.1,11.3 108.3,11.4 108.5,11.6 108.7,11.7 108.9,11.8 109.1,11.7 109.3,11.6 109.5,11.5 109.7,11.3 109.9,11.2 110.1,11.2 110.3,11.3 110.5,11.5 110.7,11.7 110.9,11.8 111.1,11.8 111.3,11.7 111.5,11.5 111.7,11.4 111.9,11.2 112.1,11.2 112.3,11.3 112.5,11.4 112.7,11.6 112.9,11.7 113.1,11.8 113.3,11.8 113.5,11.6 113.7,11.5 113.9,11.3 114.1,11.2 114.3,11.2 114.5,11.3 114.7,11.5 114.9,11.7 115.1,11.8 115.3,11.8 115.5,11.7 115.7,11.5 115.9,11.4 116.1,11.3 116.3,11.2 116.5,11.3 116.7,11.4 116.9,11.6 117.1,11.7 117.3,11.7 117.5,11.7 117.7,11.6 117.9,11.5 118.1,11.3 118.3,11.3 118.5,11.3 118.7,11.4 118.9,11.5 119.1,11.6 119.3,11.7 119.5,11.8 119.7,11.8 119.9,11.8 120.1,11.8 120.3,11.8 120.5,11.8 120.7,11.9 120.9,12.1 121.1,12.5 121.3,13.1 121.5,13.9 121.7,14.8 121.9,15.4 122.1,16.0 122.3,16.4 122.5,16.5 122.7,16.7 122.9,17.1 123.1,17.7 123.3,18.3 123.5,19.0 123.7,19.6 123.9,19.9 124.1,20.0 124.3,19.9 124.5,19.8 124.7,19.7 124.9,19.7 125.1,19.8 125.3,19.8 125.5,19.6 125.7,19.4 125.9,19.2 126.1,19.2 126.3,19.1 126.5,19.0 126.7,19.0 126.9,19.0 127.1,19.2 127.3,19.5 127.5,19.9 127.7,20.5 127.9,22.2 128.1,24.1 128.3,25.6 128.5,26.7 128.7,27.3 128.9,27.7 129.1,28.3 129.3,29.4 129.5,31.4 129.7,34.4 129.9,38.7 130.1,45.2 130.3,62.8 130.5,91.5 130.7,111.9 130.9,122.5 131.1,130.5 131.3,143.7 131.5,167.0 131.7,199.6 131.9,249.1 132.1,294.7 132.3,268.9 132.5,173.3 132.7,125.8 132.9,120.2 133.1,124.7 133.3,135.4 133.5,166.9 133.7,236.5 133.9,306.8 134.1,275.2 134.3,218.0 134.5,231.7 134.7,264.9 134.9,284.2 135.1,292.1 135.3,296.5 135.5,299.8 135.7,296.7 135.9,280.2 136.1,248.8 136.3,218.3 136.5,211.1 136.7,223.9 136.9,238.3 137.1,247.3 137.3,252.6 137.5,258.8 137.7,270.1 137.9,286.9 138.1,299.8 138.3,296.0 138.5,283.1 138.7,269.8 138.9,261.3 139.1,257.5 139.3,256.0 139.5,255.3 139.7,254.9 139.9,256.3 140.1,262.9 140.3,276.0 140.5,290.9 140.7,299.4 140.9,297.4 141.1,288.8 141.3,282.5 141.5,278.8 141.7,274.5 141.9,267.0 142.1,257.4 142.3,257.4 142.5,273.7 142.7,293.8 142.9,303.2 143.1,308.4 143.3,311.3 143.5,312.7 143.7,313.9 143.9,315.7 144.1,318.8 144.3,322.7 144.5,325.8 144.7,324.1 144.9,311.6 145.1,302.0 145.3,299.9 145.5,301.4 145.7,303.0 145.9,305.4 146.1,311.0 146.3,320.6 146.5,326.1 146.7,317.6 146.9,299.5 147.1,280.2 147.3,253.3 147.5,233.1 147.7,223.2 147.9,216.8 148.1,208.9 148.3,205.9 148.5,228.9 148.7,271.5 148.9,273.8 149.1,228.2 149.3,201.0 149.5,201.9 149.7,211.8 149.9,205.5 150.1,201.8 150.3,204.9 150.5,219.8 150.7,246.3 152.0,161.6 153.4,243.3 154.7,153.7 156.1,247.5 157.4,112.4 158.8,237.8 160.1,115.3 161.5,231.4 162.8,94.9 164.2,237.6 165.5,109.2 166.9,232.4 168.2,145.2 169.6,231.1 170.9,155.2 172.3,231.9 173.6,188.6 175.0,240.0 176.3,212.9 177.7,250.0 179.0,234.8 180.4,264.7 181.7,249.1 183.1,271.1 184.4,254.3 185.8,270.0 187.1,255.9 188.5,268.9 189.8,257.7 191.2,267.4 192.5,257.9 193.9,257.5 194.1,257.8 194.3,259.6 194.5,262.4 194.7,265.2 194.9,266.9 195.1,266.9 195.3,265.3 195.5,262.6 195.7,259.7 195.9,257.6 196.1,257.0 196.3,258.2 196.5,260.6 196.7,263.4 196.9,265.6 197.1,266.4 197.3,265.6 197.5,263.5 197.7,260.7 197.9,258.3 198.1,257.1 198.3,257.4 198.5,259.1 198.7,261.5 198.9,263.8 199.1,265.2 199.3,265.2 199.5,263.8 199.7,261.5 199.9,259.1 200.1,257.5 200.3,257.1 200.5,258.1 200.7,259.9 200.9,262.0 201.1,263.5 201.3,264.0 201.5,263.3 201.7,261.7 201.9,259.7 202.1,258.0 202.3,257.2 202.5,257.4 202.7,258.6 202.9,260.3 203.1,261.7 203.3,262.6 203.5,262.4 203.7,261.4 203.9,259.9 204.1,258.4 204.3,257.3 204.5,257.1 204.7,257.7 204.9,258.9 205.1,260.2 205.3,261.2 205.5,261.5 205.7,261.0 205.9,259.9 206.1,258.6 206.3,257.4 206.5,256.8 206.7,256.9 206.9,257.8 207.1,259.0 207.3,260.1 207.5,260.8 207.7,260.7 207.9,260.0 208.1,258.8 208.3,257.6 208.5,256.6 208.7,256.3 208.9,256.8 209.1,257.9 209.3,259.2 209.5,260.3 209.7,260.7 209.9,260.3 210.1,259.3 210.3,257.8 210.5,256.6 210.7,255.8 210.9,256.0 211.1,256.9 211.3,258.3 211.5,259.6 211.7,260.5 211.9,260.6 212.1,259.7 212.3,258.3 212.5,256.8 212.7,255.7 212.9,255.4 213.1,256.0 213.3,257.2 213.5,258.8 213.7,260.0 213.9,260.5 214.1,260.1 214.3,258.9 214.5,257.3 214.7,255.9 214.9,255.2 215.1,255.4 215.3,256.3 215.5,257.8 215.7,259.2 215.9,260.0 216.1,260.0 216.3,259.2 216.5,257.9 216.7,256.4 216.9,255.4 217.1,255.2 217.3,255.7 217.5,256.9 217.7,258.2 217.9,259.2 218.1,259.6 218.3,259.2 218.5,258.2 218.7,257.0 218.9,255.9 219.1,255.3 219.3,255.5 219.5,256.2 219.7,257.3 219.9,258.3 220.1,258.9 220.3,258.9 220.5,258.3 220.7,257.3 220.9,256.2 221.1,255.5 221.3,255.3 221.5,255.7 221.7,256.6 221.9,257.5 222.1,258.3 222.3,258.5 222.5,258.2 222.7,257.5 222.9,256.5 223.1,255.6 223.3,255.1 223.5,255.2 223.7,255.8 223.9,256.7 224.1,257.6 224.3,258.2 224.5,258.2 224.7,257.6 224.9,256.7 225.1,255.6 225.3,254.9 225.5,254.7 225.7,255.1 225.9,255.9 226.1,257.0 226.3,257.8 226.5,258.1 226.7,257.8 226.9,257.0 227.1,255.9 227.3,254.8 227.5,254.3 227.7,254.4 227.9,255.1 228.1,256.2 228.3,257.3 228.5,258.0 228.7,258.1 228.9,257.4 229.1,256.3 229.3,255.1 229.5,254.2 229.7,253.9 229.9,254.4 230.1,255.4 230.3,256.7 230.5,257.7 230.7,258.1 230.9,257.8 231.1,256.9 231.3,255.6 231.5,254.4 231.7,253.8 231.9,254.0 232.1,254.8 232.3,256.0 232.5,257.2 232.7,257.9 232.9,258.0 233.1,257.3 233.3,256.2 233.5,255.0 233.7,254.1 233.9,253.9 234.1,254.4 234.3,255.4 234.5,256.5 234.7,257.4 234.9,257.8 235.1,257.5 235.3,256.6 235.5,255.6 235.7,254.7 235.9,254.2 236.1,254.3 236.3,254.9 236.5,255.9 236.7,256.8 236.9,257.4 237.1,257.4 237.3,256.9 237.5,256.1 237.7,255.2 237.9,254.5 238.1,254.4 238.3,254.7 238.5,255.4 238.7,256.3 238.9,257.0 239.1,257.2 239.3,257.0 239.5,256.4 239.7,255.6 239.9,254.8 240.1,254.4 240.3,254.5 240.5,255.0 240.7,255.8 240.9,256.6 241.1,257.1 241.3,257.2 241.5,256.7 241.7,255.9 241.9,255.1 242.1,254.4 242.3,254.2 242.5,254.5 242.7,255.3 242.9,256.2 243.1,257.0 243.3,257.3 243.5,257.1 243.7,256.3 243.9,255.3 244.1,254.4 244.3,253.9 244.5,254.0 244.7,254.7 244.9,255.6 245.1,256.6 245.3,257.3 245.5,257.4 245.7,256.8 245.9,255.8 246.1,254.6 246.3,253.8 246.5,253.6 246.7,254.0 246.9,255.0 247.1,256.1 247.3,257.0 247.5,257.4 247.7,257.1 247.9,256.2 248.1,255.1 248.3,254.0 248.5,253.4 248.7,253.5 248.9,254.3 249.1,255.4 249.3,256.5 249.5,257.2 249.7,257.2 249.9,256.6 250.1,255.5 250.3,254.4 250.5,253.6 250.7,253.3 250.9,253.8 251.1,254.7 251.3,255.8 251.5,256.7 251.7,257.0 251.9,256.7 252.1,255.9 252.3,254.8 252.5,253.9 252.7,253.4 252.9,253.6 253.1,254.2 253.3,255.1 253.5,256.0 253.7,256.6 253.9,256.6 254.1,256.0 254.3,255.2 254.5,254.3 254.7,253.6 254.9,253.5 255.1,253.8 255.3,254.6 255.5,255.4 255.7,256.1 255.9,256.3 256.1,256.1 256.3,255.4 256.5,254.6 256.7,253.8 256.9,253.4 257.1,253.5 257.3,254.0 257.5,254.8 257.7,255.6 257.9,256.1 258.1,256.1 258.3,255.7 258.5,254.9 258.7,254.0 258.9,253.3 259.1,253.1 259.3,253.5 259.5,254.2 259.7,255.1 259.9,255.9 260.1,256.2 260.3,256.0 260.5,255.2 260.7,254.3 260.9,253.3 261.1,252.8 261.3,252.9 261.5,253.6 261.7,254.6 261.9,255.6 262.1,256.2 262.3,256.3 262.5,255.7 262.7,254.7 262.9,253.6 263.1,252.7 263.3,252.5 263.5,252.9 263.7,253.9 263.9,255.0 264.1,256.0 264.3,256.4 264.5,256.1 264.7,255.2 264.9,254.0 265.1,252.9 265.3,252.3 265.5,252.4 265.7,253.2 265.9,254.3 266.1,255.5 266.3,256.2 266.5,256.2 266.7,255.6 266.9,254.5 267.1,253.3 267.3,252.4 267.5,252.2 267.7,252.7 267.9,253.6 268.1,254.8 268.3,255.7 268.5,256.0 268.7,255.7 268.9,254.8 269.1,253.7 269.3,252.8 269.5,252.3 269.7,252.4 269.9,253.1 270.1,254.1 270.3,255.0 270.5,255.5 270.7,255.5 270.9,255.0 271.1,254.1 271.3,253.1 271.5,252.5 271.7,252.3 271.9,252.7 272.1,253.4 272.3,254.3 272.5,254.9 272.7,255.2 272.9,254.9 273.1,254.2 273.3,253.3 273.5,252.5 273.7,252.1 273.9,252.2 274.1,252.8 274.3,253.6 274.5,254.4 274.7,254.8 274.9,254.8 275.1,254.3 275.3,253.5 275.5,252.6 275.7,251.9 275.9,251.7 276.1,252.1 276.3,252.8 276.5,253.7 276.7,254.4 276.9,254.7 277.1,254.4 277.3,253.6 277.5,252.6 277.7,251.7 277.9,251.2 278.1,251.3 278.3,251.9 278.5,252.9 278.7,253.9 278.9,254.5 279.1,254.5 279.3,253.8 279.5,252.8 279.7,251.6 279.9,250.8 280.1,250.5 280.3,251.0 280.5,251.9 280.7,253.1 280.9,254.0 281.1,254.3 281.3,253.9 281.5,252.9 281.7,251.6 281.9,250.5 282.1,249.9 282.3,250.1 282.5,250.8 282.7,252.0 282.9,253.1 283.1,253.7 283.3,253.6 283.5,252.9 283.7,251.7 283.9,250.4 284.1,249.6 284.3,249.4 284.5,249.8 284.7,250.8 284.9,251.9 285.1,252.8 285.3,253.1 285.5,252.7 285.7,251.8 285.9,250.6 286.1,249.7 286.3,249.2 286.5,249.3 286.7,250.0 286.9,251.0 287.1,251.9 287.3,252.4 287.5,252.4 287.7,251.9 287.9,250.9 288.1,250.0 288.3,249.3 288.5,249.1 288.7,249.5 288.9,250.3 289.1,251.2 289.3,251.9 289.5,252.1 289.7,251.8 289.9,251.1 290.1,250.3 290.3,249.5 290.5,249.1 290.7,249.1 290.9,249.7 291.1,250.5 291.3,251.3 291.5,251.8 291.7,251.8 291.9,251.3 292.1,250.5 292.3,249.6 292.5,248.9 292.7,248.7 292.9,249.0 293.1,249.8 293.3,250.7 293.5,251.5 293.7,251.7 293.9,251.4 294.1,250.6 294.3,249.6 294.5,248.6 294.7,248.1 294.9,248.2 295.1,248.9 295.3,249.9 295.5,250.8 295.7,251.4 295.9,251.4 296.1,250.7 296.3,249.6 296.5,248.4 296.7,247.5 296.9,247.3 297.1,247.7 297.3,248.7 297.5,249.9 297.7,250.8 297.9,251.2 298.1,250.8 298.3,249.7 298.5,248.4 298.7,247.3 298.9,246.6 299.1,246.8 299.3,247.6 299.5,248.8 299.7,250.0 299.9,250.7 300.1,250.6 300.3,249.8 300.5,248.6 300.7,247.3 300.9,246.4 301.1,246.2 301.3,246.7 301.5,247.7 301.7,248.9 301.9,249.8 302.1,250.0 302.3,249.5 302.5,248.4 302.7,247.1 302.9,246.1 303.1,245.6 303.3,245.7 303.5,246.5 303.7,247.5 303.9,248.4 304.1,248.8 304.3,248.5 304.5,247.7 304.7,246.5 304.9,245.4 305.1,244.7 305.3,244.6 305.5,245.0 305.7,245.8 305.9,246.7 306.1,247.2 306.3,247.3 306.5,246.9 306.7,246.1 306.9,245.1 307.1,244.3 307.3,243.9 307.5,244.0 307.7,244.6 307.9,245.4 308.1,246.2 308.3,246.7 308.5,246.6 308.7,246.0 308.9,245.1 309.1,244.2 309.3,243.5 309.5,243.3 309.7,243.7 309.9,244.5 310.1,245.4 310.3,246.1 310.5,246.4 310.7,246.1 310.9,245.3 311.1,244.3 311.3,243.3 311.5,242.8 311.7,242.9 311.9,243.6 312.1,244.6 312.3,245.6 312.5,246.3 312.7,246.4 312.9,245.8 313.1,244.8 313.3,243.7 313.5,242.8 313.7,242.5 313.9,243.0 314.1,244.0 314.3,245.3 314.5,246.4 314.7,247.0 314.9,247.0 315.1,246.2 315.3,245.1 315.5,244.0 315.7,243.3 315.9,243.4 316.1,244.2 316.3,245.5 316.5,246.8 316.7,247.8 316.9,248.1 317.1,247.7 317.3,246.7 317.5,245.5 317.7,244.6 317.9,244.3 318.1,244.7 318.3,245.8 318.5,247.1 318.7,248.4 318.9,249.0 319.1,249.0 319.3,248.3 319.5,247.3 319.7,246.3 319.9,245.7 320.1,245.8 320.3,246.5 320.5,247.6 320.7,248.9 320.9,249.7 321.1,250.0 321.3,249.6 321.5,248.7 321.7,247.8 321.9,247.0 322.1,246.8 322.3,247.2 322.5,248.0 322.7,249.1 322.9,250.0 323.1,250.4 323.3,250.3 323.5,249.7 323.7,248.8 323.9,248.0 324.1,247.5 324.3,247.6 324.5,248.2 324.7,249.1 324.9,250.0 325.1,250.6 325.3,250.8 325.5,250.3 325.7,249.5 325.9,248.6 326.1,247.9 326.3,247.7 326.5,248.1 326.7,248.9 326.9,249.8 327.1,250.6 327.3,251.0 327.5,250.8 327.7,250.1 327.9,249.1 328.1,248.2 328.3,247.7 328.5,247.7 328.7,248.4 328.9,249.4 329.1,250.5 329.3,251.2 329.5,251.3 329.7,250.7 329.9,249.7 330.1,248.5 330.3,247.6 330.5,247.4 330.7,247.8 330.9,248.8 331.1,250.0 331.3,251.1 331.5,251.5 331.7,251.2 331.9,250.3 332.1,249.0 332.3,247.9 332.5,247.2 332.7,247.3 332.9,248.2 333.1,249.4 333.3,250.6 333.5,251.4 333.7,251.5 333.9,250.8 334.1,249.6 334.3,248.3 334.5,247.4 334.7,247.2 334.9,247.7 335.1,248.7 335.3,250.0 335.5,251.0 335.7,251.4 335.9,251.0 336.1,250.1 336.3,248.9 336.5,247.8 336.7,247.3 336.9,247.4 337.1,248.2 337.3,249.2 337.5,250.3 337.7,250.9 337.9,250.9 338.1,250.3 338.3,249.3 338.5,248.3 338.7,247.5 338.9,247.4 339.1,247.8 339.3,248.6 339.5,249.6 339.7,250.3 339.9,250.6 340.1,250.4 340.3,249.6 340.5,248.7 340.7,247.8 340.9,247.4 341.1,247.5 341.3,248.1 341.5,249.0 341.7,249.8 341.9,250.3 342.1,250.3 342.3,249.8 342.5,249.0 342.7,248.1 342.9,247.4 343.1,247.2 343.3,247.6 343.5,248.3 343.7,249.3 343.9,250.0 344.1,250.4 344.3,250.1 344.5,249.4 344.7,248.4 344.9,247.5 345.1,247.0 345.3,247.1 345.5,247.7 345.7,248.7 345.9,249.8 346.1,250.4 346.3,250.5 346.5,250.0 346.7,249.0 346.9,247.9 347.1,247.0 347.3,246.7 347.5,247.2 347.7,248.2 347.9,249.4 348.1,250.4 348.3,250.9 348.5,250.6 348.7,249.7 348.9,248.4 349.1,247.3 349.3,246.7 349.5,246.8 349.7,247.6 349.9,248.8 350.1,250.1 350.3,250.9 350.5,251.0 350.7,250.3 350.9,249.2 351.1,247.9 351.3,247.0 351.5,246.7 351.7,247.2 351.9,248.3 352.1,249.5 352.3,250.6 352.5,251.0 352.7,250.7 352.9,249.8 353.1,248.6 353.3,247.6 353.5,247.0 353.7,247.1 353.9,247.9 354.1,249.0 354.3,250.1 354.5,250.8 354.7,250.8 354.9,250.2 355.1,249.2 355.3,248.2 355.5,247.4 355.7,247.2 355.9,247.6 356.1,248.5 356.3,249.5 356.5,250.2 356.7,250.5 356.9,250.1 357.1,249.3 357.3,248.3 357.5,247.4 357.7,247.0 357.9,247.1 358.1,247.7 358.3,248.6 358.5,249.4 358.7,249.7 358.9,249.4 359.1,248.6 359.3,247.4 359.5,246.4 359.7,245.7 359.9,245.6 360.1,246.0 360.3,246.8 360.5,247.5 360.7,247.7 360.9,247.3 361.1,246.2 361.3,244.7 361.5,243.3 361.7,242.3 361.9,242.0 362.1,242.3 362.3,242.9 362.5,243.5 362.7,243.7 362.9,242.9 363.1,241.2 363.3,239.0 363.5,236.8 363.7,235.3 363.9,234.6 364.1,234.8 364.3,235.5 364.5,236.1 364.7,236.1 364.9,235.2 365.1,233.3 365.3,230.5 365.5,227.6 365.7,225.4 365.9,224.2 366.1,224.1 366.3,224.7 366.5,225.4 366.7,225.6 366.9,224.9 367.1,223.3 367.3,220.9 367.5,218.3 367.7,215.9 367.9,214.2 368.1,213.6 368.3,213.9 368.5,214.6 368.7,215.1 368.9,214.9 369.1,213.6 369.3,210.9 369.5,207.1 369.7,203.3 369.9,200.6 370.1,199.3 370.3,199.4 370.5,200.2 370.7,200.9 370.9,200.8 371.1,199.3 371.3,196.6 371.5,193.0 371.7,189.3 371.9,186.3 372.1,184.5 372.3,184.0 372.5,184.5 372.7,185.3 372.9,185.6 373.1,184.8 373.3,182.8 373.5,179.8 373.7,176.7 373.9,173.9 374.1,171.9 374.3,171.0 374.5,171.0 374.7,171.6 374.9,172.1 375.1,172.1 375.3,171.2 375.5,169.4 375.7,167.2 375.9,165.0 376.1,163.2 376.3,162.0 376.5,161.5 376.7,161.7 376.9,162.2 377.1,162.6 377.3,162.5 377.5,161.6 377.7,160.2 377.9,158.5 378.1,156.8 378.3,155.5 378.5,154.7 378.7,154.5 378.9,154.8 379.1,155.3 379.3,155.7 379.5,155.5 379.7,154.8 379.9,153.7 380.1,152.4 380.3,151.2 380.5,150.1 380.7,149.6 380.9,149.5 381.1,150.0 381.3,150.6 381.5,151.0 381.7,151.1 381.9,150.7 382.1,149.9 382.3,148.9 382.5,147.8 382.7,146.9 382.9,146.6 383.1,146.7 383.3,147.3 383.5,148.0 383.7,148.6 383.9,148.7 384.1,148.3 384.3,147.6 384.5,146.7 384.7,145.8 384.9,145.2 385.1,145.0 385.3,145.4 385.5,146.1 385.7,146.9 385.9,147.6 386.1,147.8 386.3,147.6 386.5,146.9 386.7,146.1 386.9,145.3 387.1,144.9 387.3,145.0 387.5,145.5 387.7,146.3 387.9,147.1 388.1,147.8 388.3,148.1 388.5,148.0 388.7,147.5 388.9,146.9 389.1,146.4 389.3,146.2 389.5,146.4 389.7,147.0 389.9,147.9 390.1,148.8 390.3,149.6 390.5,150.1 390.7,150.2 390.9,149.9 391.1,149.4 391.3,149.0 391.5,149.0 391.7,149.3 391.9,150.1 392.1,151.2 392.3,152.2 392.5,153.0 392.7,153.4 392.9,153.3 393.1,153.0 393.3,152.5 393.5,152.2 393.7,152.4 393.9,152.9 394.1,153.9 394.3,155.0 394.5,156.0 394.7,156.7 394.9,156.9 395.1,156.7 395.3,156.2 395.5,155.8 395.7,155.7 395.9,156.0 396.1,156.9 396.3,158.1 396.5,159.4 396.7,160.4 396.9,161.0 397.1,161.0 397.3,160.6 397.5,160.0 397.7,159.6 397.9,159.8 398.1,160.5 398.3,161.7 398.5,163.3 398.7,164.9 398.9,166.3 399.1,167.1 399.3,167.1 399.5,166.5 399.7,165.9 399.9,165.7 400.1,166.1 400.3,167.4 400.5,169.2 400.7,171.1 400.9,172.7 401.1,173.7 401.3,173.9 401.5,173.5 401.7,172.9 401.9,172.4 402.1,172.5 402.3,173.4 402.5,174.9 402.7,176.8 402.9,178.6 403.1,179.9 403.3,180.5 403.5,180.4 403.7,179.8 403.9,179.3 404.1,179.1 404.3,179.5 404.5,180.7 404.7,182.3 404.9,184.2 405.1,185.7 405.3,186.8 405.5,187.2 405.7,186.9 405.9,186.4 406.1,185.9 406.3,186.0 406.5,186.7 406.7,188.1 406.9,189.9 407.1,191.8 407.3,193.3 407.5,194.2 407.7,194.4 407.9,194.1 408.1,193.6 408.3,193.3 408.5,193.6 408.7,194.6 408.9,196.3 409.1,198.2 409.3,200.0 409.5,201.3 409.7,201.8 409.9,201.8 410.1,201.3 410.3,200.8 410.5,200.8 410.7,201.5 410.9,202.8 411.1,204.7 411.3,206.6 411.5,208.2 411.7,209.1 411.9,209.3 412.1,209.0 412.3,208.4 412.5,208.1 412.7,208.5 412.9,209.5 413.1,211.2 413.3,213.2 413.5,214.9 413.7,216.1 413.9,216.5 414.1,216.2 414.3,215.7 414.5,215.2 414.7,215.2 414.9,216.0 415.1,217.5 415.3,219.3 415.5,221.2 415.7,222.6 415.9,223.2 416.1,223.1 416.3,222.6 416.5,222.0 416.7,221.7 416.9,222.2 417.1,223.4 417.3,225.1 417.5,226.9 417.7,228.4 417.9,229.3 418.1,229.4 418.3,229.0 418.5,228.3 418.7,227.9 418.9,228.0 419.1,228.9 419.3,230.3 419.5,232.1 419.7,233.6 419.9,234.6 420.1,234.7 420.3,234.3 420.5,233.7 420.7,233.2 420.9,233.1 421.1,233.6 421.3,234.6 421.5,235.9 421.7,237.2 421.9,238.0 422.1,238.1 422.3,237.6 422.5,236.9 422.7,236.4 422.9,236.2 423.1,236.5 423.3,237.1 423.5,237.9 423.7,238.4 423.9,238.5 424.1,238.1 424.3,237.4 424.5,236.6 424.7,236.0 424.9,235.7 425.1,235.8 425.3,236.3 425.5,236.8 425.7,237.2 425.9,237.3 426.1,236.9 426.3,236.0 426.5,234.9 426.7,234.1 426.9,233.6 427.1,233.6 427.3,234.0 427.5,234.4 427.7,234.7 427.9,234.6 428.1,233.9 428.3,232.7 428.5,231.2 428.7,229.8 428.9,229.0 429.1,228.9 429.3,229.2 429.5,229.7 429.7,230.0 429.9,229.7 430.1,228.8 430.3,227.1 430.5,225.0 430.7,223.0 430.9,221.6 431.1,221.0 431.3,221.3 431.5,221.9 431.7,222.3 431.9,222.2 432.1,221.2 432.3,219.3 432.5,222.2 433.8,201.1 435.2,209.7 436.5,168.5 437.9,204.3 439.2,154.2 440.6,203.6 441.9,159.0 443.3,205.1 444.6,183.7 446.0,218.4 447.3,240.3 447.5,245.2 447.7,246.9 447.9,246.1 448.1,244.3 448.3,243.5 448.5,245.2 448.7,250.3 448.9,259.5 449.1,268.9 449.3,276.1 449.5,280.5 449.7,282.5 449.9,282.5 450.1,281.5 450.3,280.5 450.5,280.8 450.7,283.1 450.9,287.1 451.1,291.2 451.3,293.8 451.5,295.4 451.7,296.2 451.9,296.2 452.1,295.5 452.3,294.9 452.5,295.0 452.7,296.1 452.9,298.4 453.1,302.0 453.3,305.7 453.5,308.2 453.7,309.5 453.9,309.6 454.1,309.0 454.3,308.4 454.5,308.2 454.7,308.8 454.9,310.3 455.1,311.9 455.3,312.9 455.5,313.2 455.7,313.0 455.9,312.3 456.1,311.6 456.3,311.2 456.5,311.1 456.7,311.5 456.9,312.2 457.1,313.0 457.3,313.6 457.5,313.8 457.7,313.5 457.9,313.0 458.1,312.3 458.3,311.7 458.5,311.5 458.7,311.7 458.9,312.2 459.1,312.8 459.3,313.4 459.5,313.7 459.7,313.7 459.9,313.3 460.1,312.7 460.3,312.1 460.5,311.8 460.7,311.7 460.9,312.0 461.1,312.6 461.3,313.2 461.5,313.7 461.7,313.8 461.9,313.6 462.1,313.1 462.3,312.5 462.5,311.9 462.7,311.7 462.9,311.8 463.1,312.3 463.3,313.0 463.5,313.6 463.7,314.0 463.9,313.9 464.1,313.5 464.3,312.9 464.5,312.2 464.7,311.7 464.9,311.7 465.1,312.0 465.3,312.7 465.5,313.5 465.7,314.1 465.9,314.3 466.1,314.1 466.3,313.5 466.5,312.7 466.7,312.1 466.9,311.7 467.1,311.9 467.3,312.5 467.5,313.4 467.7,314.3 467.9,314.9 468.1,315.1 468.3,314.7 468.5,314.0 468.7,313.2 468.9,312.6 469.1,312.6 469.3,313.0 469.5,313.8 469.7,314.8 469.9,315.5 470.1,315.8 470.3,315.6 470.5,315.0 470.7,314.2 470.9,313.5 471.1,313.2 471.3,313.4 471.5,314.0 471.7,314.9 471.9,315.7 472.1,316.3 472.3,316.4 472.5,316.0 472.7,315.4 472.9,314.7 473.1,314.3 473.3,314.2 473.5,314.5 473.7,315.3 473.9,316.2 474.1,317.0 474.3,317.5 474.5,317.6 474.7,317.3 474.9,316.8 475.1,316.3 475.3,316.0 475.5,316.1 475.7,316.6 475.9,317.4 476.1,318.2 476.3,318.9 476.5,319.3 476.7,319.3 476.9,319.0 477.1,318.5 477.3,318.1 477.5,317.9 477.7,318.2 477.9,318.8 478.1,319.7 478.3,320.5 478.5,321.1 478.7,321.4 478.9,321.2 479.1,320.8 479.3,320.3 479.5,320.0 479.7,320.1 479.9,320.5 480.1,321.3 480.3,322.3 480.5,323.1 480.7,323.5 480.9,323.5 481.1,323.1 481.3,322.5 481.5,322.0 481.7,321.9 481.9,322.2 482.1,322.9 482.3,323.9 482.5,324.8 482.7,325.4 482.9,325.5 483.1,325.1 483.3,324.4 483.5,323.8 483.7,323.4 483.9,323.5 484.1,324.1 484.3,325.1 484.5,326.1 484.7,326.8 484.9,326.9 485.1,326.6 485.3,325.8 485.5,325.1 485.7,324.5 485.9,324.4 486.1,324.8 486.3,325.7 486.5,326.6 486.7,327.4 486.9,327.5 487.1,327.4 487.3,326.7 487.5,325.8 487.7,325.1 487.9,324.8 488.1,325.0 488.3,325.7 488.5,326.5 488.7,327.3 488.9,327.5 489.1,327.5 489.3,327.0 489.5,326.2 489.7,325.5 489.9,325.0 490.1,325.0 490.3,325.4 490.5,326.1 490.7,326.8 490.9,327.3 491.1,327.5 491.3,327.2 491.5,326.5 491.7,325.8 491.9,325.3 492.1,325.0 492.3,325.2 492.5,325.7 492.7,326.4 492.9,326.9 493.1,327.2 493.3,327.1 493.5,326.7 493.7,326.1 493.9,325.4 494.1,325.1 494.3,325.0 494.5,325.4 494.7,325.9 494.9,326.5 495.1,326.9 495.3,327.0 495.5,326.7 495.7,326.2 495.9,325.6 496.1,325.0 496.3,324.8 496.5,325.0 496.7,325.4 496.9,326.1 497.1,326.6 497.3,326.9 497.5,326.8 497.7,326.4 497.9,325.7 498.1,325.0 498.3,324.6 498.5,324.5 498.7,324.9 498.9,325.6 499.1,326.3 499.3,326.8 499.5,326.9 499.7,326.6 499.9,326.0 500.1,325.2 500.3,324.5 500.5,324.2 500.7,324.4 500.9,325.0 501.1,325.8 501.3,326.5 501.5,326.9 501.7,326.8 501.9,326.3 502.1,325.4 502.3,324.6 502.5,324.0 502.7,324.0 502.9,324.4 503.1,325.2 503.3,326.1 503.5,326.7 503.7,326.8 503.9,326.5 504.1,325.7 504.3,324.8 504.5,324.1 504.7,323.8 504.9,324.0 505.1,324.7 505.3,325.5 505.5,326.2 505.7,326.6 505.9,326.5 506.1,325.9 506.3,325.1 506.5,324.4 506.7,323.9 506.9,323.9 507.1,324.3 507.3,325.0 507.5,325.7 507.7,326.2 507.9,326.3 508.1,326.0 508.3,325.4 508.5,324.6 508.7,324.1 508.9,323.8 509.1,324.0 509.3,324.5 509.5,325.2 509.7,325.7 509.9,326.0 510.1,325.9 510.3,325.5 510.5,324.8 510.7,324.2 510.9,323.8 511.1,323.8 511.3,324.1 511.5,324.7 511.7,325.3 511.9,325.7 512.1,325.8 512.3,325.5 512.5,325.0 512.7,324.3 512.9,323.8 513.1,323.6 513.3,323.7 513.5,324.2 513.7,324.8 513.9,325.4 514.1,325.7 514.3,325.6 514.5,325.1 514.7,324.5 514.9,323.8 515.1,323.4 515.3,323.3 515.5,323.7 515.7,324.3 515.9,325.0 516.1,325.5 516.3,325.7 516.5,325.3 516.7,324.7 516.9,323.9 517.1,323.2 517.3,322.9 517.5,323.1 517.7,323.7 517.9,324.5 518.1,325.2 518.3,325.6 518.5,325.5 518.7,324.9 518.9,324.0 519.1,323.2 519.3,322.7 519.5,322.6 519.7,323.1 519.9,323.9 520.1,324.7 520.3,325.3 520.5,325.4 520.7,325.0 520.9,324.3 521.1,323.4 521.3,322.7 521.5,322.4 521.7,322.6 521.9,323.2 522.1,324.1 522.3,324.8 522.5,325.1 522.7,325.0 522.9,324.4 523.1,323.6 523.3,322.8 523.5,322.3 523.7,322.3 523.9,322.7 524.1,323.4 524.3,324.2 524.5,324.7 524.7,324.8 524.9,324.4 525.1,323.7 525.3,323.0 525.5,322.4 525.7,322.2 525.9,322.4 526.1,322.9 526.3,323.6"/>
</g>
<rect x="87.5" y="11.5" width="439.0" height="316.0" fill="none" stroke="#000" stroke-width="1.2"/>
<line x1="197" y1="327.0" x2="197" y2="322.0" stroke="#000" stroke-width="1"/>
<line x1="197" y1="11.5" x2="197" y2="16.5" stroke="#000" stroke-width="1"/>
<line x1="307" y1="327.0" x2="307" y2="322.0" stroke="#000" stroke-width="1"/>
<line x1="307" y1="11.5" x2="307" y2="16.5" stroke="#000" stroke-width="1"/>
<line x1="417" y1="327.0" x2="417" y2="322.0" stroke="#000" stroke-width="1"/>
<line x1="417" y1="11.5" x2="417" y2="16.5" stroke="#000" stroke-width="1"/>
<line x1="87.5" y1="90" x2="92.5" y2="90" stroke="#000" stroke-width="1"/>
<line x1="526.5" y1="90" x2="521.5" y2="90" stroke="#000" stroke-width="1"/>
<line x1="87.5" y1="169" x2="92.5" y2="169" stroke="#000" stroke-width="1"/>
<line x1="526.5" y1="169" x2="521.5" y2="169" stroke="#000" stroke-width="1"/>
<line x1="87.5" y1="248" x2="92.5" y2="248" stroke="#000" stroke-width="1"/>
<line x1="526.5" y1="248" x2="521.5" y2="248" stroke="#000" stroke-width="1"/>
<text x="75.8" y="18.1" text-anchor="end">1</text>
<text x="75.8" y="96.975" text-anchor="end">0.5</text>
<text x="75.8" y="175.85" text-anchor="end">0</text>
<text x="75.8" y="254.725" text-anchor="end"><tspan dy="2">−</tspan><tspan dy="-2">0.5</tspan></text>
<text x="75.8" y="333.6" text-anchor="end"><tspan dy="2">−</tspan><tspan dy="-2">1</tspan></text>
<text x="89.9" y="352.7" text-anchor="middle">0</text>
<text x="199.65" y="352.7" text-anchor="middle">50</text>
<text x="309.4" y="352.7" text-anchor="middle">100</text>
<text x="419.15" y="352.7" text-anchor="middle">150</text>
<text x="528.9" y="352.7" text-anchor="middle">200</text>
<text x="307.5" y="380.5" text-anchor="middle">t [fs]</text>
<text transform="translate(18,183.5) rotate(-90)" >σ<tspan font-size="15" dx="0.8" dy="5">z,j</tspan></text>
<text x="434.6" y="42.400000000000006" text-anchor="end">1l</text>
<line x1="445" y1="36.2" x2="494" y2="36.2" stroke="#000000" stroke-width="1.3"/>
<text x="434.6" y="60.60000000000001" text-anchor="end">2l</text>
<line x1="445" y1="54.400000000000006" x2="494" y2="54.400000000000006" stroke="#9400d3" stroke-width="1.3"/>
<text x="434.6" y="78.8" text-anchor="end">3l</text>
<line x1="445" y1="72.6" x2="494" y2="72.6" stroke="#009e73" stroke-width="1.3"/>
<text x="434.6" y="97.0" text-anchor="end">4l</text>
<line x1="445" y1="90.8" x2="494" y2="90.8" stroke="#56b4e9" stroke-width="1.3"/>
<text x="434.6" y="115.2" text-anchor="end">5l</text>
<line x1="445" y1="109.0" x2="494" y2="109.0" stroke="#e69f00" stroke-width="1.3"/>
</svg>
</body></html>
